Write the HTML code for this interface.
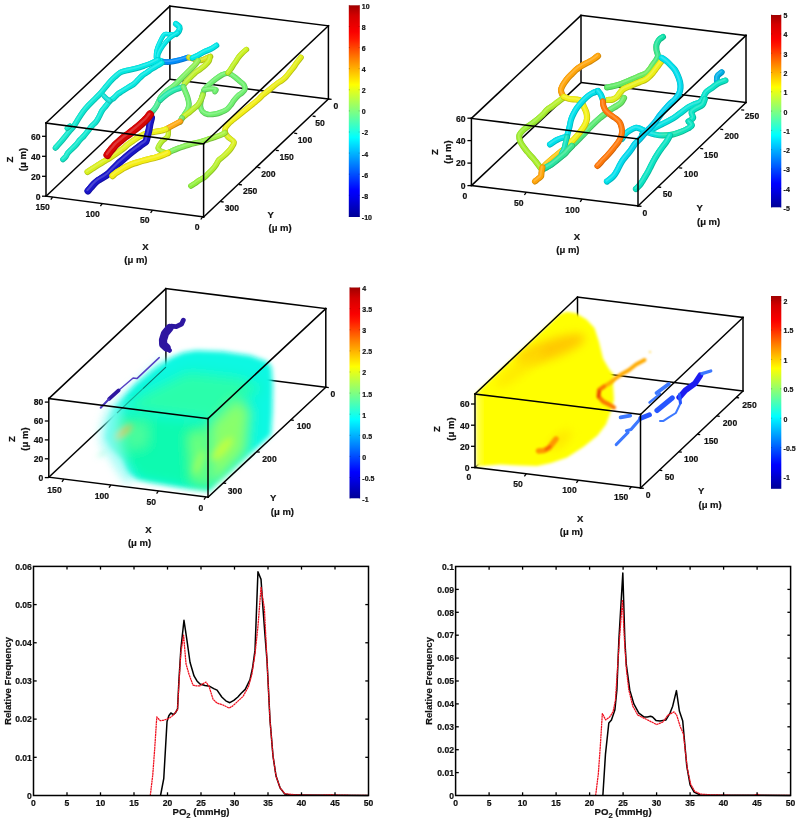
<!DOCTYPE html>
<html><head><meta charset="utf-8"><title>Figure</title>
<style>html,body{margin:0;padding:0;background:#fff}svg{display:block}</style></head>
<body>
<svg width="800" height="826" viewBox="0 0 800 826" font-family="'Liberation Sans', sans-serif" font-weight="bold" fill="#111">
<rect width="800" height="826" fill="#fff"/>
<defs>
<linearGradient id="g1" gradientUnits="userSpaceOnUse" x1="158.0" y1="60.0" x2="55.5" y2="148.0"><stop offset="0.000" stop-color="rgb(0,186,186)"/><stop offset="1.000" stop-color="rgb(16,186,160)"/></linearGradient>
<linearGradient id="g2" gradientUnits="userSpaceOnUse" x1="158.0" y1="60.0" x2="55.5" y2="148.0"><stop offset="0.000" stop-color="rgb(0,232,232)"/><stop offset="1.000" stop-color="rgb(20,232,200)"/></linearGradient>
<linearGradient id="g3" gradientUnits="userSpaceOnUse" x1="158.0" y1="60.0" x2="55.5" y2="148.0"><stop offset="0.000" stop-color="rgb(51,237,237)"/><stop offset="1.000" stop-color="rgb(67,237,211)"/></linearGradient>
<linearGradient id="g4" gradientUnits="userSpaceOnUse" x1="162.0" y1="63.0" x2="63.0" y2="159.5"><stop offset="0.000" stop-color="rgb(0,186,186)"/><stop offset="1.000" stop-color="rgb(16,186,160)"/></linearGradient>
<linearGradient id="g5" gradientUnits="userSpaceOnUse" x1="162.0" y1="63.0" x2="63.0" y2="159.5"><stop offset="0.000" stop-color="rgb(0,232,232)"/><stop offset="1.000" stop-color="rgb(20,232,200)"/></linearGradient>
<linearGradient id="g6" gradientUnits="userSpaceOnUse" x1="162.0" y1="63.0" x2="63.0" y2="159.5"><stop offset="0.000" stop-color="rgb(51,237,237)"/><stop offset="1.000" stop-color="rgb(67,237,211)"/></linearGradient>
<linearGradient id="g7" gradientUnits="userSpaceOnUse" x1="210.0" y1="57.0" x2="184.5" y2="84.0"><stop offset="0.000" stop-color="rgb(164,192,24)"/><stop offset="1.000" stop-color="rgb(148,192,40)"/></linearGradient>
<linearGradient id="g8" gradientUnits="userSpaceOnUse" x1="210.0" y1="57.0" x2="184.5" y2="84.0"><stop offset="0.000" stop-color="rgb(205,240,30)"/><stop offset="1.000" stop-color="rgb(185,240,50)"/></linearGradient>
<linearGradient id="g9" gradientUnits="userSpaceOnUse" x1="210.0" y1="57.0" x2="184.5" y2="84.0"><stop offset="0.000" stop-color="rgb(215,243,75)"/><stop offset="1.000" stop-color="rgb(199,243,91)"/></linearGradient>
<linearGradient id="g10" gradientUnits="userSpaceOnUse" x1="198.0" y1="61.0" x2="150.0" y2="114.0"><stop offset="0.000" stop-color="rgb(120,192,64)"/><stop offset="0.450" stop-color="rgb(88,192,88)"/><stop offset="1.000" stop-color="rgb(48,188,128)"/></linearGradient>
<linearGradient id="g11" gradientUnits="userSpaceOnUse" x1="198.0" y1="61.0" x2="150.0" y2="114.0"><stop offset="0.000" stop-color="rgb(150,240,80)"/><stop offset="0.450" stop-color="rgb(110,240,110)"/><stop offset="1.000" stop-color="rgb(60,235,160)"/></linearGradient>
<linearGradient id="g12" gradientUnits="userSpaceOnUse" x1="198.0" y1="61.0" x2="150.0" y2="114.0"><stop offset="0.000" stop-color="rgb(171,243,115)"/><stop offset="0.450" stop-color="rgb(139,243,139)"/><stop offset="1.000" stop-color="rgb(99,239,179)"/></linearGradient>
<linearGradient id="g13" gradientUnits="userSpaceOnUse" x1="182.0" y1="118.5" x2="203.0" y2="95.0"><stop offset="0.000" stop-color="rgb(164,192,24)"/><stop offset="1.000" stop-color="rgb(136,192,48)"/></linearGradient>
<linearGradient id="g14" gradientUnits="userSpaceOnUse" x1="182.0" y1="118.5" x2="203.0" y2="95.0"><stop offset="0.000" stop-color="rgb(205,240,30)"/><stop offset="1.000" stop-color="rgb(170,240,60)"/></linearGradient>
<linearGradient id="g15" gradientUnits="userSpaceOnUse" x1="182.0" y1="118.5" x2="203.0" y2="95.0"><stop offset="0.000" stop-color="rgb(215,243,75)"/><stop offset="1.000" stop-color="rgb(187,243,99)"/></linearGradient>
<linearGradient id="g16" gradientUnits="userSpaceOnUse" x1="228.0" y1="73.0" x2="246.5" y2="49.5"><stop offset="0.000" stop-color="rgb(148,192,32)"/><stop offset="1.000" stop-color="rgb(164,192,24)"/></linearGradient>
<linearGradient id="g17" gradientUnits="userSpaceOnUse" x1="228.0" y1="73.0" x2="246.5" y2="49.5"><stop offset="0.000" stop-color="rgb(185,240,40)"/><stop offset="1.000" stop-color="rgb(205,240,30)"/></linearGradient>
<linearGradient id="g18" gradientUnits="userSpaceOnUse" x1="228.0" y1="73.0" x2="246.5" y2="49.5"><stop offset="0.000" stop-color="rgb(199,243,83)"/><stop offset="1.000" stop-color="rgb(215,243,75)"/></linearGradient>
<linearGradient id="g19" gradientUnits="userSpaceOnUse" x1="301.0" y1="57.5" x2="225.0" y2="132.5"><stop offset="0.000" stop-color="rgb(180,190,20)"/><stop offset="0.700" stop-color="rgb(196,190,16)"/><stop offset="1.000" stop-color="rgb(188,192,20)"/></linearGradient>
<linearGradient id="g20" gradientUnits="userSpaceOnUse" x1="301.0" y1="57.5" x2="225.0" y2="132.5"><stop offset="0.000" stop-color="rgb(225,238,25)"/><stop offset="0.700" stop-color="rgb(245,238,20)"/><stop offset="1.000" stop-color="rgb(235,240,25)"/></linearGradient>
<linearGradient id="g21" gradientUnits="userSpaceOnUse" x1="301.0" y1="57.5" x2="225.0" y2="132.5"><stop offset="0.000" stop-color="rgb(231,241,71)"/><stop offset="0.700" stop-color="rgb(247,241,67)"/><stop offset="1.000" stop-color="rgb(239,243,71)"/></linearGradient>
<linearGradient id="g22" gradientUnits="userSpaceOnUse" x1="225.0" y1="132.5" x2="191.0" y2="186.0"><stop offset="0.000" stop-color="rgb(180,192,24)"/><stop offset="1.000" stop-color="rgb(112,192,48)"/></linearGradient>
<linearGradient id="g23" gradientUnits="userSpaceOnUse" x1="225.0" y1="132.5" x2="191.0" y2="186.0"><stop offset="0.000" stop-color="rgb(225,240,30)"/><stop offset="1.000" stop-color="rgb(140,240,60)"/></linearGradient>
<linearGradient id="g24" gradientUnits="userSpaceOnUse" x1="225.0" y1="132.5" x2="191.0" y2="186.0"><stop offset="0.000" stop-color="rgb(231,243,75)"/><stop offset="1.000" stop-color="rgb(163,243,99)"/></linearGradient>
<linearGradient id="g25" gradientUnits="userSpaceOnUse" x1="225.0" y1="133.0" x2="168.0" y2="153.0"><stop offset="0.000" stop-color="rgb(136,194,48)"/><stop offset="1.000" stop-color="rgb(96,192,80)"/></linearGradient>
<linearGradient id="g26" gradientUnits="userSpaceOnUse" x1="225.0" y1="133.0" x2="168.0" y2="153.0"><stop offset="0.000" stop-color="rgb(170,242,60)"/><stop offset="1.000" stop-color="rgb(120,240,100)"/></linearGradient>
<linearGradient id="g27" gradientUnits="userSpaceOnUse" x1="225.0" y1="133.0" x2="168.0" y2="153.0"><stop offset="0.000" stop-color="rgb(187,245,99)"/><stop offset="1.000" stop-color="rgb(147,243,131)"/></linearGradient>
<linearGradient id="g28" gradientUnits="userSpaceOnUse" x1="168.5" y1="130.0" x2="165.0" y2="152.5"><stop offset="0.000" stop-color="rgb(164,192,24)"/><stop offset="1.000" stop-color="rgb(136,192,40)"/></linearGradient>
<linearGradient id="g29" gradientUnits="userSpaceOnUse" x1="168.5" y1="130.0" x2="165.0" y2="152.5"><stop offset="0.000" stop-color="rgb(205,240,30)"/><stop offset="1.000" stop-color="rgb(170,240,50)"/></linearGradient>
<linearGradient id="g30" gradientUnits="userSpaceOnUse" x1="168.5" y1="130.0" x2="165.0" y2="152.5"><stop offset="0.000" stop-color="rgb(215,243,75)"/><stop offset="1.000" stop-color="rgb(187,243,91)"/></linearGradient>
<linearGradient id="g31" gradientUnits="userSpaceOnUse" x1="166.0" y1="129.3" x2="87.5" y2="172.0"><stop offset="0.000" stop-color="rgb(192,192,20)"/><stop offset="1.000" stop-color="rgb(172,192,24)"/></linearGradient>
<linearGradient id="g32" gradientUnits="userSpaceOnUse" x1="166.0" y1="129.3" x2="87.5" y2="172.0"><stop offset="0.000" stop-color="rgb(240,240,25)"/><stop offset="1.000" stop-color="rgb(215,240,30)"/></linearGradient>
<linearGradient id="g33" gradientUnits="userSpaceOnUse" x1="166.0" y1="129.3" x2="87.5" y2="172.0"><stop offset="0.000" stop-color="rgb(243,243,71)"/><stop offset="1.000" stop-color="rgb(223,243,75)"/></linearGradient>
<linearGradient id="cb34" x1="0" y1="1" x2="0" y2="0"><stop offset="0.0000" stop-color="rgb(0,0,150)"/><stop offset="0.1000" stop-color="rgb(0,0,240)"/><stop offset="0.1250" stop-color="rgb(0,0,255)"/><stop offset="0.2500" stop-color="rgb(0,128,255)"/><stop offset="0.3750" stop-color="rgb(0,255,255)"/><stop offset="0.5000" stop-color="rgb(128,255,128)"/><stop offset="0.6250" stop-color="rgb(255,255,0)"/><stop offset="0.7500" stop-color="rgb(255,125,0)"/><stop offset="0.8400" stop-color="rgb(255,25,0)"/><stop offset="0.8750" stop-color="rgb(250,0,0)"/><stop offset="0.9500" stop-color="rgb(212,0,0)"/><stop offset="1.0000" stop-color="rgb(160,0,0)"/></linearGradient>
<linearGradient id="g35" gradientUnits="userSpaceOnUse" x1="725.5" y1="80.5" x2="642.2" y2="134.5"><stop offset="0.000" stop-color="rgb(8,182,156)"/><stop offset="1.000" stop-color="rgb(0,180,188)"/></linearGradient>
<linearGradient id="g36" gradientUnits="userSpaceOnUse" x1="725.5" y1="80.5" x2="642.2" y2="134.5"><stop offset="0.000" stop-color="rgb(10,228,195)"/><stop offset="1.000" stop-color="rgb(0,225,235)"/></linearGradient>
<linearGradient id="g37" gradientUnits="userSpaceOnUse" x1="725.5" y1="80.5" x2="642.2" y2="134.5"><stop offset="0.000" stop-color="rgb(59,233,207)"/><stop offset="1.000" stop-color="rgb(51,231,239)"/></linearGradient>
<linearGradient id="g38" gradientUnits="userSpaceOnUse" x1="689.0" y1="121.8" x2="622.0" y2="139.0"><stop offset="0.000" stop-color="rgb(8,182,156)"/><stop offset="0.350" stop-color="rgb(24,182,132)"/><stop offset="0.600" stop-color="rgb(0,180,188)"/><stop offset="1.000" stop-color="rgb(0,180,188)"/></linearGradient>
<linearGradient id="g39" gradientUnits="userSpaceOnUse" x1="689.0" y1="121.8" x2="622.0" y2="139.0"><stop offset="0.000" stop-color="rgb(10,228,195)"/><stop offset="0.350" stop-color="rgb(30,228,165)"/><stop offset="0.600" stop-color="rgb(0,225,235)"/><stop offset="1.000" stop-color="rgb(0,225,235)"/></linearGradient>
<linearGradient id="g40" gradientUnits="userSpaceOnUse" x1="689.0" y1="121.8" x2="622.0" y2="139.0"><stop offset="0.000" stop-color="rgb(59,233,207)"/><stop offset="0.350" stop-color="rgb(75,233,183)"/><stop offset="0.600" stop-color="rgb(51,231,239)"/><stop offset="1.000" stop-color="rgb(51,231,239)"/></linearGradient>
<linearGradient id="g41" gradientUnits="userSpaceOnUse" x1="607.0" y1="87.5" x2="663.0" y2="37.0"><stop offset="0.000" stop-color="rgb(72,186,80)"/><stop offset="0.600" stop-color="rgb(88,189,72)"/><stop offset="0.850" stop-color="rgb(32,182,120)"/><stop offset="1.000" stop-color="rgb(8,180,136)"/></linearGradient>
<linearGradient id="g42" gradientUnits="userSpaceOnUse" x1="607.0" y1="87.5" x2="663.0" y2="37.0"><stop offset="0.000" stop-color="rgb(90,232,100)"/><stop offset="0.600" stop-color="rgb(110,236,90)"/><stop offset="0.850" stop-color="rgb(40,228,150)"/><stop offset="1.000" stop-color="rgb(10,225,170)"/></linearGradient>
<linearGradient id="g43" gradientUnits="userSpaceOnUse" x1="607.0" y1="87.5" x2="663.0" y2="37.0"><stop offset="0.000" stop-color="rgb(123,237,131)"/><stop offset="0.600" stop-color="rgb(139,240,123)"/><stop offset="0.850" stop-color="rgb(83,233,171)"/><stop offset="1.000" stop-color="rgb(59,231,187)"/></linearGradient>
<linearGradient id="g44" gradientUnits="userSpaceOnUse" x1="624.0" y1="98.0" x2="543.0" y2="169.0"><stop offset="0.000" stop-color="rgb(88,189,80)"/><stop offset="0.500" stop-color="rgb(64,186,96)"/><stop offset="1.000" stop-color="rgb(24,182,136)"/></linearGradient>
<linearGradient id="g45" gradientUnits="userSpaceOnUse" x1="624.0" y1="98.0" x2="543.0" y2="169.0"><stop offset="0.000" stop-color="rgb(110,236,100)"/><stop offset="0.500" stop-color="rgb(80,232,120)"/><stop offset="1.000" stop-color="rgb(30,228,170)"/></linearGradient>
<linearGradient id="g46" gradientUnits="userSpaceOnUse" x1="624.0" y1="98.0" x2="543.0" y2="169.0"><stop offset="0.000" stop-color="rgb(139,240,131)"/><stop offset="0.500" stop-color="rgb(115,237,147)"/><stop offset="1.000" stop-color="rgb(75,233,187)"/></linearGradient>
<linearGradient id="g47" gradientUnits="userSpaceOnUse" x1="608.0" y1="100.0" x2="662.5" y2="59.5"><stop offset="0.000" stop-color="rgb(180,192,20)"/><stop offset="1.000" stop-color="rgb(194,192,16)"/></linearGradient>
<linearGradient id="g48" gradientUnits="userSpaceOnUse" x1="608.0" y1="100.0" x2="662.5" y2="59.5"><stop offset="0.000" stop-color="rgb(225,240,25)"/><stop offset="1.000" stop-color="rgb(242,240,20)"/></linearGradient>
<linearGradient id="g49" gradientUnits="userSpaceOnUse" x1="608.0" y1="100.0" x2="662.5" y2="59.5"><stop offset="0.000" stop-color="rgb(231,243,71)"/><stop offset="1.000" stop-color="rgb(245,243,67)"/></linearGradient>
<linearGradient id="g50" gradientUnits="userSpaceOnUse" x1="662.0" y1="58.0" x2="607.0" y2="181.5"><stop offset="0.000" stop-color="rgb(0,180,188)"/><stop offset="0.400" stop-color="rgb(0,164,192)"/><stop offset="1.000" stop-color="rgb(0,180,188)"/></linearGradient>
<linearGradient id="g51" gradientUnits="userSpaceOnUse" x1="662.0" y1="58.0" x2="607.0" y2="181.5"><stop offset="0.000" stop-color="rgb(0,225,235)"/><stop offset="0.400" stop-color="rgb(0,205,240)"/><stop offset="1.000" stop-color="rgb(0,225,235)"/></linearGradient>
<linearGradient id="g52" gradientUnits="userSpaceOnUse" x1="662.0" y1="58.0" x2="607.0" y2="181.5"><stop offset="0.000" stop-color="rgb(51,231,239)"/><stop offset="0.400" stop-color="rgb(51,215,243)"/><stop offset="1.000" stop-color="rgb(51,231,239)"/></linearGradient>
<linearGradient id="g53" gradientUnits="userSpaceOnUse" x1="564.0" y1="97.5" x2="541.0" y2="168.5"><stop offset="0.000" stop-color="rgb(152,192,32)"/><stop offset="0.500" stop-color="rgb(120,190,40)"/><stop offset="1.000" stop-color="rgb(136,190,32)"/></linearGradient>
<linearGradient id="g54" gradientUnits="userSpaceOnUse" x1="564.0" y1="97.5" x2="541.0" y2="168.5"><stop offset="0.000" stop-color="rgb(190,240,40)"/><stop offset="0.500" stop-color="rgb(150,238,50)"/><stop offset="1.000" stop-color="rgb(170,238,40)"/></linearGradient>
<linearGradient id="g55" gradientUnits="userSpaceOnUse" x1="564.0" y1="97.5" x2="541.0" y2="168.5"><stop offset="0.000" stop-color="rgb(203,243,83)"/><stop offset="0.500" stop-color="rgb(171,241,91)"/><stop offset="1.000" stop-color="rgb(187,241,83)"/></linearGradient>
<linearGradient id="g56" gradientUnits="userSpaceOnUse" x1="572.0" y1="146.0" x2="543.0" y2="169.0"><stop offset="0.000" stop-color="rgb(50,184,110)"/><stop offset="1.000" stop-color="rgb(24,182,136)"/></linearGradient>
<linearGradient id="g57" gradientUnits="userSpaceOnUse" x1="572.0" y1="146.0" x2="543.0" y2="169.0"><stop offset="0.000" stop-color="rgb(62,230,138)"/><stop offset="1.000" stop-color="rgb(30,228,170)"/></linearGradient>
<linearGradient id="g58" gradientUnits="userSpaceOnUse" x1="572.0" y1="146.0" x2="543.0" y2="169.0"><stop offset="0.000" stop-color="rgb(101,235,161)"/><stop offset="1.000" stop-color="rgb(75,233,187)"/></linearGradient>
<linearGradient id="cb59" x1="0" y1="1" x2="0" y2="0"><stop offset="0.0000" stop-color="rgb(0,0,150)"/><stop offset="0.1000" stop-color="rgb(0,0,240)"/><stop offset="0.1250" stop-color="rgb(0,0,255)"/><stop offset="0.2500" stop-color="rgb(0,128,255)"/><stop offset="0.3750" stop-color="rgb(0,255,255)"/><stop offset="0.5000" stop-color="rgb(128,255,128)"/><stop offset="0.6250" stop-color="rgb(255,255,0)"/><stop offset="0.7500" stop-color="rgb(255,125,0)"/><stop offset="0.8400" stop-color="rgb(255,25,0)"/><stop offset="0.8750" stop-color="rgb(250,0,0)"/><stop offset="0.9500" stop-color="rgb(212,0,0)"/><stop offset="1.0000" stop-color="rgb(160,0,0)"/></linearGradient>
<filter id="bl3" x="-20%" y="-20%" width="140%" height="140%"><feGaussianBlur stdDeviation="4"/></filter>
<filter id="bl3b" x="-30%" y="-30%" width="160%" height="160%"><feGaussianBlur stdDeviation="6"/></filter>
<filter id="bl3c" x="-50%" y="-50%" width="200%" height="200%"><feGaussianBlur stdDeviation="2.2"/></filter>
<filter id="bl1" x="-50%" y="-50%" width="200%" height="200%"><feGaussianBlur stdDeviation="0.5"/></filter>
<filter id="bl3a" x="-20%" y="-20%" width="140%" height="140%"><feGaussianBlur stdDeviation="2.4"/></filter>
<clipPath id="cp3"><polygon points="171.5,357.5 183.0,352.5 196.0,350.5 223.0,351.5 250.5,355.5 267.0,361.5 271.5,367.0 272.8,385.0 272.4,412.0 271.0,435.0 249.0,455.5 229.0,474.0 209.0,491.5 192.0,489.6 176.0,487.0 150.0,482.5 137.0,479.5 128.0,472.0 122.0,459.0 111.0,448.0 105.5,438.0 108.0,421.0 113.0,409.0 135.0,385.0 157.0,367.0"/></clipPath>
<linearGradient id="cb60" x1="0" y1="1" x2="0" y2="0"><stop offset="0.0000" stop-color="rgb(0,0,150)"/><stop offset="0.1000" stop-color="rgb(0,0,240)"/><stop offset="0.1250" stop-color="rgb(0,0,255)"/><stop offset="0.2500" stop-color="rgb(0,128,255)"/><stop offset="0.3750" stop-color="rgb(0,255,255)"/><stop offset="0.5000" stop-color="rgb(128,255,128)"/><stop offset="0.6250" stop-color="rgb(255,255,0)"/><stop offset="0.7500" stop-color="rgb(255,125,0)"/><stop offset="0.8400" stop-color="rgb(255,25,0)"/><stop offset="0.8750" stop-color="rgb(250,0,0)"/><stop offset="0.9500" stop-color="rgb(212,0,0)"/><stop offset="1.0000" stop-color="rgb(160,0,0)"/></linearGradient>
<filter id="bl4" x="-20%" y="-20%" width="140%" height="140%"><feGaussianBlur stdDeviation="1.6"/></filter>
<filter id="bl4b" x="-50%" y="-50%" width="200%" height="200%"><feGaussianBlur stdDeviation="5"/></filter>
<filter id="bl4c" x="-50%" y="-50%" width="200%" height="200%"><feGaussianBlur stdDeviation="1.0"/></filter>
<clipPath id="cp4"><polygon points="475.2,394.0 515.0,356.3 560.0,313.9 567.0,311.8 576.0,313.2 586.5,319.5 594.5,328.0 599.0,342.0 603.0,358.5 609.0,369.0 614.0,375.0 613.0,384.0 614.0,400.0 611.0,411.0 606.0,424.5 597.5,435.5 584.0,446.5 567.0,457.5 551.0,463.0 537.0,466.0 520.0,465.5 500.0,464.5 476.0,466.5"/></clipPath>
<linearGradient id="cb61" x1="0" y1="1" x2="0" y2="0"><stop offset="0.0000" stop-color="rgb(0,0,150)"/><stop offset="0.1000" stop-color="rgb(0,0,240)"/><stop offset="0.1250" stop-color="rgb(0,0,255)"/><stop offset="0.2500" stop-color="rgb(0,128,255)"/><stop offset="0.3750" stop-color="rgb(0,255,255)"/><stop offset="0.5000" stop-color="rgb(128,255,128)"/><stop offset="0.6250" stop-color="rgb(255,255,0)"/><stop offset="0.7500" stop-color="rgb(255,125,0)"/><stop offset="0.8400" stop-color="rgb(255,25,0)"/><stop offset="0.8750" stop-color="rgb(250,0,0)"/><stop offset="0.9500" stop-color="rgb(212,0,0)"/><stop offset="1.0000" stop-color="rgb(160,0,0)"/></linearGradient>
</defs>
<line x1="328.40" y1="99.00" x2="169.90" y2="79.30" stroke="#000" stroke-width="1.5" stroke-linecap="butt"/>
<line x1="169.90" y1="79.30" x2="46.00" y2="196.20" stroke="#000" stroke-width="1.5" stroke-linecap="butt"/>
<line x1="169.90" y1="79.30" x2="169.90" y2="6.10" stroke="#000" stroke-width="1.5" stroke-linecap="butt"/>
<path d="M176.0 24.0 C176.6 24.5 179.0 25.9 179.5 27.0 C180.0 28.1 179.5 29.9 179.0 31.0 C178.5 32.1 176.9 33.5 176.5 34.0" fill="none" stroke-linecap="round" stroke-linejoin="round" stroke="rgb(0,186,186)" stroke-width="6.00"/>
<path d="M176.0 24.0 C176.6 24.5 179.0 25.9 179.5 27.0 C180.0 28.1 179.5 29.9 179.0 31.0 C178.5 32.1 176.9 33.5 176.5 34.0" fill="none" stroke-linecap="round" stroke-linejoin="round" stroke="rgb(0,232,232)" stroke-width="5.04" transform="translate(-0.3,-0.4)"/>
<path d="M176.0 24.0 C176.6 24.5 179.0 25.9 179.5 27.0 C180.0 28.1 179.5 29.9 179.0 31.0 C178.5 32.1 176.9 33.5 176.5 34.0" fill="none" stroke-linecap="round" stroke-linejoin="round" stroke="rgb(51,237,237)" stroke-width="1.80" transform="translate(-0.6,-0.8)"/>
<path d="M176.5 34.0 C175.5 34.1 171.9 34.4 170.0 34.5 C168.1 34.6 166.1 33.3 164.5 34.5 C162.9 35.7 161.3 39.4 160.0 42.0 C158.7 44.6 157.1 48.4 156.5 51.0 C155.9 53.6 156.1 56.9 156.0 58.0" fill="none" stroke-linecap="round" stroke-linejoin="round" stroke="rgb(0,186,186)" stroke-width="4.60"/>
<path d="M176.5 34.0 C175.5 34.1 171.9 34.4 170.0 34.5 C168.1 34.6 166.1 33.3 164.5 34.5 C162.9 35.7 161.3 39.4 160.0 42.0 C158.7 44.6 157.1 48.4 156.5 51.0 C155.9 53.6 156.1 56.9 156.0 58.0" fill="none" stroke-linecap="round" stroke-linejoin="round" stroke="rgb(0,232,232)" stroke-width="3.86" transform="translate(-0.3,-0.4)"/>
<path d="M176.5 34.0 C175.5 34.1 171.9 34.4 170.0 34.5 C168.1 34.6 166.1 33.3 164.5 34.5 C162.9 35.7 161.3 39.4 160.0 42.0 C158.7 44.6 157.1 48.4 156.5 51.0 C155.9 53.6 156.1 56.9 156.0 58.0" fill="none" stroke-linecap="round" stroke-linejoin="round" stroke="rgb(51,237,237)" stroke-width="1.38" transform="translate(-0.6,-0.8)"/>
<path d="M178.0 33.0 C176.7 33.8 172.4 35.9 170.0 38.0 C167.6 40.1 164.8 43.4 163.0 46.0 C161.2 48.6 159.3 51.8 158.5 54.0 C157.7 56.2 158.1 59.0 158.0 60.0" fill="none" stroke-linecap="round" stroke-linejoin="round" stroke="rgb(0,186,186)" stroke-width="4.60"/>
<path d="M178.0 33.0 C176.7 33.8 172.4 35.9 170.0 38.0 C167.6 40.1 164.8 43.4 163.0 46.0 C161.2 48.6 159.3 51.8 158.5 54.0 C157.7 56.2 158.1 59.0 158.0 60.0" fill="none" stroke-linecap="round" stroke-linejoin="round" stroke="rgb(0,232,232)" stroke-width="3.86" transform="translate(-0.3,-0.4)"/>
<path d="M178.0 33.0 C176.7 33.8 172.4 35.9 170.0 38.0 C167.6 40.1 164.8 43.4 163.0 46.0 C161.2 48.6 159.3 51.8 158.5 54.0 C157.7 56.2 158.1 59.0 158.0 60.0" fill="none" stroke-linecap="round" stroke-linejoin="round" stroke="rgb(51,237,237)" stroke-width="1.38" transform="translate(-0.6,-0.8)"/>
<path d="M158.0 60.0 L164.0 62.0" fill="none" stroke-linecap="round" stroke-linejoin="round" stroke="rgb(0,186,186)" stroke-width="5.60"/>
<path d="M158.0 60.0 L164.0 62.0" fill="none" stroke-linecap="round" stroke-linejoin="round" stroke="rgb(0,232,232)" stroke-width="4.70" transform="translate(-0.3,-0.4)"/>
<path d="M158.0 60.0 L164.0 62.0" fill="none" stroke-linecap="round" stroke-linejoin="round" stroke="rgb(51,237,237)" stroke-width="1.68" transform="translate(-0.6,-0.8)"/>
<path d="M164.0 62.0 C165.0 62.0 167.8 62.2 170.0 62.0 C172.2 61.8 175.1 61.2 178.0 60.5 C180.9 59.8 186.4 58.0 188.0 57.5" fill="none" stroke-linecap="round" stroke-linejoin="round" stroke="rgb(0,112,200)" stroke-width="5.60"/>
<path d="M164.0 62.0 C165.0 62.0 167.8 62.2 170.0 62.0 C172.2 61.8 175.1 61.2 178.0 60.5 C180.9 59.8 186.4 58.0 188.0 57.5" fill="none" stroke-linecap="round" stroke-linejoin="round" stroke="rgb(0,140,250)" stroke-width="4.70" transform="translate(-0.3,-0.4)"/>
<path d="M164.0 62.0 C165.0 62.0 167.8 62.2 170.0 62.0 C172.2 61.8 175.1 61.2 178.0 60.5 C180.9 59.8 186.4 58.0 188.0 57.5" fill="none" stroke-linecap="round" stroke-linejoin="round" stroke="rgb(51,163,251)" stroke-width="1.68" transform="translate(-0.6,-0.8)"/>
<path d="M189.0 57.5 C189.8 57.7 192.4 58.5 194.0 59.0 C195.6 59.5 197.4 60.4 199.0 60.5 C200.6 60.6 202.6 60.0 204.0 59.5 C205.4 59.0 207.0 58.0 208.0 57.5 C209.0 57.0 210.1 56.7 210.5 56.5" fill="none" stroke-linecap="round" stroke-linejoin="round" stroke="rgb(172,182,24)" stroke-width="5.60"/>
<path d="M189.0 57.5 C189.8 57.7 192.4 58.5 194.0 59.0 C195.6 59.5 197.4 60.4 199.0 60.5 C200.6 60.6 202.6 60.0 204.0 59.5 C205.4 59.0 207.0 58.0 208.0 57.5 C209.0 57.0 210.1 56.7 210.5 56.5" fill="none" stroke-linecap="round" stroke-linejoin="round" stroke="rgb(215,228,30)" stroke-width="4.70" transform="translate(-0.3,-0.4)"/>
<path d="M189.0 57.5 C189.8 57.7 192.4 58.5 194.0 59.0 C195.6 59.5 197.4 60.4 199.0 60.5 C200.6 60.6 202.6 60.0 204.0 59.5 C205.4 59.0 207.0 58.0 208.0 57.5 C209.0 57.0 210.1 56.7 210.5 56.5" fill="none" stroke-linecap="round" stroke-linejoin="round" stroke="rgb(223,233,75)" stroke-width="1.68" transform="translate(-0.6,-0.8)"/>
<path d="M192.5 58.0 C193.4 57.6 196.2 56.5 198.0 55.5 C199.8 54.5 201.9 53.0 204.0 52.0 C206.1 51.0 209.0 50.0 211.0 49.0 C213.0 48.0 215.6 46.1 216.5 45.5" fill="none" stroke-linecap="round" stroke-linejoin="round" stroke="rgb(0,186,186)" stroke-width="5.60"/>
<path d="M192.5 58.0 C193.4 57.6 196.2 56.5 198.0 55.5 C199.8 54.5 201.9 53.0 204.0 52.0 C206.1 51.0 209.0 50.0 211.0 49.0 C213.0 48.0 215.6 46.1 216.5 45.5" fill="none" stroke-linecap="round" stroke-linejoin="round" stroke="rgb(0,232,232)" stroke-width="4.70" transform="translate(-0.3,-0.4)"/>
<path d="M192.5 58.0 C193.4 57.6 196.2 56.5 198.0 55.5 C199.8 54.5 201.9 53.0 204.0 52.0 C206.1 51.0 209.0 50.0 211.0 49.0 C213.0 48.0 215.6 46.1 216.5 45.5" fill="none" stroke-linecap="round" stroke-linejoin="round" stroke="rgb(51,237,237)" stroke-width="1.68" transform="translate(-0.6,-0.8)"/>
<path d="M158.0 60.0 C157.0 60.5 154.2 62.0 152.0 63.0 C149.8 64.0 146.6 65.1 144.0 66.0 C141.4 66.9 138.7 67.8 136.0 68.5 C133.3 69.2 129.5 69.9 127.0 70.5 C124.5 71.1 122.4 71.5 120.5 72.5 C118.6 73.5 116.7 75.5 115.0 77.0 C113.3 78.5 111.6 80.2 110.0 82.0 C108.4 83.8 106.6 86.1 105.0 88.0 C103.4 89.9 101.8 92.1 100.0 94.0 C98.2 95.9 95.9 98.1 94.0 100.0 C92.1 101.9 89.8 104.1 88.0 106.0 C86.2 107.9 84.4 110.1 83.0 112.0 C81.6 113.9 80.4 115.8 79.0 118.0 C77.6 120.2 75.6 123.8 74.0 126.0 C72.4 128.2 70.4 130.2 69.0 132.0 C67.6 133.8 66.4 135.2 65.0 137.0 C63.6 138.8 61.5 141.2 60.0 143.0 C58.5 144.8 56.2 147.2 55.5 148.0" fill="none" stroke-linecap="round" stroke-linejoin="round" stroke="url(#g1)" stroke-width="5.60"/>
<path d="M158.0 60.0 C157.0 60.5 154.2 62.0 152.0 63.0 C149.8 64.0 146.6 65.1 144.0 66.0 C141.4 66.9 138.7 67.8 136.0 68.5 C133.3 69.2 129.5 69.9 127.0 70.5 C124.5 71.1 122.4 71.5 120.5 72.5 C118.6 73.5 116.7 75.5 115.0 77.0 C113.3 78.5 111.6 80.2 110.0 82.0 C108.4 83.8 106.6 86.1 105.0 88.0 C103.4 89.9 101.8 92.1 100.0 94.0 C98.2 95.9 95.9 98.1 94.0 100.0 C92.1 101.9 89.8 104.1 88.0 106.0 C86.2 107.9 84.4 110.1 83.0 112.0 C81.6 113.9 80.4 115.8 79.0 118.0 C77.6 120.2 75.6 123.8 74.0 126.0 C72.4 128.2 70.4 130.2 69.0 132.0 C67.6 133.8 66.4 135.2 65.0 137.0 C63.6 138.8 61.5 141.2 60.0 143.0 C58.5 144.8 56.2 147.2 55.5 148.0" fill="none" stroke-linecap="round" stroke-linejoin="round" stroke="url(#g2)" stroke-width="4.70" transform="translate(-0.3,-0.4)"/>
<path d="M158.0 60.0 C157.0 60.5 154.2 62.0 152.0 63.0 C149.8 64.0 146.6 65.1 144.0 66.0 C141.4 66.9 138.7 67.8 136.0 68.5 C133.3 69.2 129.5 69.9 127.0 70.5 C124.5 71.1 122.4 71.5 120.5 72.5 C118.6 73.5 116.7 75.5 115.0 77.0 C113.3 78.5 111.6 80.2 110.0 82.0 C108.4 83.8 106.6 86.1 105.0 88.0 C103.4 89.9 101.8 92.1 100.0 94.0 C98.2 95.9 95.9 98.1 94.0 100.0 C92.1 101.9 89.8 104.1 88.0 106.0 C86.2 107.9 84.4 110.1 83.0 112.0 C81.6 113.9 80.4 115.8 79.0 118.0 C77.6 120.2 75.6 123.8 74.0 126.0 C72.4 128.2 70.4 130.2 69.0 132.0 C67.6 133.8 66.4 135.2 65.0 137.0 C63.6 138.8 61.5 141.2 60.0 143.0 C58.5 144.8 56.2 147.2 55.5 148.0" fill="none" stroke-linecap="round" stroke-linejoin="round" stroke="url(#g3)" stroke-width="1.68" transform="translate(-0.6,-0.8)"/>
<path d="M162.0 63.0 C161.2 63.5 158.6 65.0 157.0 66.0 C155.4 67.0 153.6 68.0 152.0 69.0 C150.4 70.0 148.6 71.4 147.0 72.5 C145.4 73.6 143.4 74.8 142.0 76.0 C140.6 77.2 139.3 78.7 138.0 80.0 C136.7 81.3 135.3 83.0 134.0 84.0 C132.7 85.0 131.3 85.7 130.0 86.5 C128.7 87.3 127.3 88.2 126.0 89.0 C124.7 89.8 123.3 90.7 122.0 91.5 C120.7 92.3 119.3 93.0 118.0 94.0 C116.7 95.0 115.3 96.9 114.0 98.0 C112.7 99.1 111.3 99.7 110.0 101.0 C108.7 102.3 107.3 104.4 106.0 106.0 C104.7 107.6 103.1 109.2 102.0 111.0 C100.9 112.8 100.0 115.2 99.0 117.0 C98.0 118.8 97.1 120.6 96.0 122.0 C94.9 123.4 93.3 124.6 92.0 126.0 C90.7 127.4 89.3 129.4 88.0 131.0 C86.7 132.6 85.3 134.6 84.0 136.0 C82.7 137.4 81.3 138.6 80.0 140.0 C78.7 141.4 77.3 143.6 76.0 145.0 C74.7 146.4 73.3 147.7 72.0 149.0 C70.7 150.3 69.0 151.8 68.0 153.0 C67.0 154.2 66.8 155.5 66.0 156.5 C65.2 157.5 63.5 159.0 63.0 159.5" fill="none" stroke-linecap="round" stroke-linejoin="round" stroke="url(#g4)" stroke-width="5.60"/>
<path d="M162.0 63.0 C161.2 63.5 158.6 65.0 157.0 66.0 C155.4 67.0 153.6 68.0 152.0 69.0 C150.4 70.0 148.6 71.4 147.0 72.5 C145.4 73.6 143.4 74.8 142.0 76.0 C140.6 77.2 139.3 78.7 138.0 80.0 C136.7 81.3 135.3 83.0 134.0 84.0 C132.7 85.0 131.3 85.7 130.0 86.5 C128.7 87.3 127.3 88.2 126.0 89.0 C124.7 89.8 123.3 90.7 122.0 91.5 C120.7 92.3 119.3 93.0 118.0 94.0 C116.7 95.0 115.3 96.9 114.0 98.0 C112.7 99.1 111.3 99.7 110.0 101.0 C108.7 102.3 107.3 104.4 106.0 106.0 C104.7 107.6 103.1 109.2 102.0 111.0 C100.9 112.8 100.0 115.2 99.0 117.0 C98.0 118.8 97.1 120.6 96.0 122.0 C94.9 123.4 93.3 124.6 92.0 126.0 C90.7 127.4 89.3 129.4 88.0 131.0 C86.7 132.6 85.3 134.6 84.0 136.0 C82.7 137.4 81.3 138.6 80.0 140.0 C78.7 141.4 77.3 143.6 76.0 145.0 C74.7 146.4 73.3 147.7 72.0 149.0 C70.7 150.3 69.0 151.8 68.0 153.0 C67.0 154.2 66.8 155.5 66.0 156.5 C65.2 157.5 63.5 159.0 63.0 159.5" fill="none" stroke-linecap="round" stroke-linejoin="round" stroke="url(#g5)" stroke-width="4.70" transform="translate(-0.3,-0.4)"/>
<path d="M162.0 63.0 C161.2 63.5 158.6 65.0 157.0 66.0 C155.4 67.0 153.6 68.0 152.0 69.0 C150.4 70.0 148.6 71.4 147.0 72.5 C145.4 73.6 143.4 74.8 142.0 76.0 C140.6 77.2 139.3 78.7 138.0 80.0 C136.7 81.3 135.3 83.0 134.0 84.0 C132.7 85.0 131.3 85.7 130.0 86.5 C128.7 87.3 127.3 88.2 126.0 89.0 C124.7 89.8 123.3 90.7 122.0 91.5 C120.7 92.3 119.3 93.0 118.0 94.0 C116.7 95.0 115.3 96.9 114.0 98.0 C112.7 99.1 111.3 99.7 110.0 101.0 C108.7 102.3 107.3 104.4 106.0 106.0 C104.7 107.6 103.1 109.2 102.0 111.0 C100.9 112.8 100.0 115.2 99.0 117.0 C98.0 118.8 97.1 120.6 96.0 122.0 C94.9 123.4 93.3 124.6 92.0 126.0 C90.7 127.4 89.3 129.4 88.0 131.0 C86.7 132.6 85.3 134.6 84.0 136.0 C82.7 137.4 81.3 138.6 80.0 140.0 C78.7 141.4 77.3 143.6 76.0 145.0 C74.7 146.4 73.3 147.7 72.0 149.0 C70.7 150.3 69.0 151.8 68.0 153.0 C67.0 154.2 66.8 155.5 66.0 156.5 C65.2 157.5 63.5 159.0 63.0 159.5" fill="none" stroke-linecap="round" stroke-linejoin="round" stroke="url(#g6)" stroke-width="1.68" transform="translate(-0.6,-0.8)"/>
<path d="M104.0 96.0 C104.5 96.5 106.0 98.2 107.0 99.0 C108.0 99.8 109.5 100.7 110.0 101.0" fill="none" stroke-linecap="round" stroke-linejoin="round" stroke="rgb(16,180,172)" stroke-width="5.00"/>
<path d="M104.0 96.0 C104.5 96.5 106.0 98.2 107.0 99.0 C108.0 99.8 109.5 100.7 110.0 101.0" fill="none" stroke-linecap="round" stroke-linejoin="round" stroke="rgb(20,225,215)" stroke-width="4.20" transform="translate(-0.3,-0.4)"/>
<path d="M104.0 96.0 C104.5 96.5 106.0 98.2 107.0 99.0 C108.0 99.8 109.5 100.7 110.0 101.0" fill="none" stroke-linecap="round" stroke-linejoin="round" stroke="rgb(67,231,223)" stroke-width="1.50" transform="translate(-0.6,-0.8)"/>
<path d="M70.0 126.0 L67.0 128.5" fill="none" stroke-linecap="round" stroke-linejoin="round" stroke="rgb(16,186,160)" stroke-width="5.00"/>
<path d="M70.0 126.0 L67.0 128.5" fill="none" stroke-linecap="round" stroke-linejoin="round" stroke="rgb(20,232,200)" stroke-width="4.20" transform="translate(-0.3,-0.4)"/>
<path d="M70.0 126.0 L67.0 128.5" fill="none" stroke-linecap="round" stroke-linejoin="round" stroke="rgb(67,237,211)" stroke-width="1.50" transform="translate(-0.6,-0.8)"/>
<path d="M210.0 57.0 C209.8 57.6 209.8 59.6 209.0 61.0 C208.2 62.4 206.4 64.1 205.0 65.5 C203.6 66.9 201.6 68.3 200.0 69.5 C198.4 70.7 196.4 71.8 195.0 73.0 C193.6 74.2 192.3 75.7 191.0 77.0 C189.7 78.3 188.0 79.9 187.0 81.0 C186.0 82.1 184.9 83.5 184.5 84.0" fill="none" stroke-linecap="round" stroke-linejoin="round" stroke="url(#g7)" stroke-width="5.60"/>
<path d="M210.0 57.0 C209.8 57.6 209.8 59.6 209.0 61.0 C208.2 62.4 206.4 64.1 205.0 65.5 C203.6 66.9 201.6 68.3 200.0 69.5 C198.4 70.7 196.4 71.8 195.0 73.0 C193.6 74.2 192.3 75.7 191.0 77.0 C189.7 78.3 188.0 79.9 187.0 81.0 C186.0 82.1 184.9 83.5 184.5 84.0" fill="none" stroke-linecap="round" stroke-linejoin="round" stroke="url(#g8)" stroke-width="4.70" transform="translate(-0.3,-0.4)"/>
<path d="M210.0 57.0 C209.8 57.6 209.8 59.6 209.0 61.0 C208.2 62.4 206.4 64.1 205.0 65.5 C203.6 66.9 201.6 68.3 200.0 69.5 C198.4 70.7 196.4 71.8 195.0 73.0 C193.6 74.2 192.3 75.7 191.0 77.0 C189.7 78.3 188.0 79.9 187.0 81.0 C186.0 82.1 184.9 83.5 184.5 84.0" fill="none" stroke-linecap="round" stroke-linejoin="round" stroke="url(#g9)" stroke-width="1.68" transform="translate(-0.6,-0.8)"/>
<path d="M198.0 61.0 C197.5 61.6 196.1 63.7 195.0 65.0 C193.9 66.3 192.4 67.6 191.0 69.0 C189.6 70.4 187.8 72.2 186.0 74.0 C184.2 75.8 181.9 78.1 180.0 80.0 C178.1 81.9 176.1 84.2 174.0 86.0 C171.9 87.8 169.1 89.2 167.0 91.0 C164.9 92.8 162.4 95.2 161.0 97.0 C159.6 98.8 159.3 100.4 158.5 102.0 C157.7 103.6 157.0 105.5 156.0 107.0 C155.0 108.5 153.5 110.4 152.5 111.5 C151.5 112.6 150.4 113.6 150.0 114.0" fill="none" stroke-linecap="round" stroke-linejoin="round" stroke="url(#g10)" stroke-width="5.60"/>
<path d="M198.0 61.0 C197.5 61.6 196.1 63.7 195.0 65.0 C193.9 66.3 192.4 67.6 191.0 69.0 C189.6 70.4 187.8 72.2 186.0 74.0 C184.2 75.8 181.9 78.1 180.0 80.0 C178.1 81.9 176.1 84.2 174.0 86.0 C171.9 87.8 169.1 89.2 167.0 91.0 C164.9 92.8 162.4 95.2 161.0 97.0 C159.6 98.8 159.3 100.4 158.5 102.0 C157.7 103.6 157.0 105.5 156.0 107.0 C155.0 108.5 153.5 110.4 152.5 111.5 C151.5 112.6 150.4 113.6 150.0 114.0" fill="none" stroke-linecap="round" stroke-linejoin="round" stroke="url(#g11)" stroke-width="4.70" transform="translate(-0.3,-0.4)"/>
<path d="M198.0 61.0 C197.5 61.6 196.1 63.7 195.0 65.0 C193.9 66.3 192.4 67.6 191.0 69.0 C189.6 70.4 187.8 72.2 186.0 74.0 C184.2 75.8 181.9 78.1 180.0 80.0 C178.1 81.9 176.1 84.2 174.0 86.0 C171.9 87.8 169.1 89.2 167.0 91.0 C164.9 92.8 162.4 95.2 161.0 97.0 C159.6 98.8 159.3 100.4 158.5 102.0 C157.7 103.6 157.0 105.5 156.0 107.0 C155.0 108.5 153.5 110.4 152.5 111.5 C151.5 112.6 150.4 113.6 150.0 114.0" fill="none" stroke-linecap="round" stroke-linejoin="round" stroke="url(#g12)" stroke-width="1.68" transform="translate(-0.6,-0.8)"/>
<path d="M183.0 87.0 C181.9 87.4 178.1 88.6 176.0 89.5 C173.9 90.4 171.8 91.5 170.0 92.5 C168.2 93.5 166.5 94.8 165.0 96.0 C163.5 97.2 161.2 99.4 160.5 100.0" fill="none" stroke-linecap="round" stroke-linejoin="round" stroke="rgb(32,188,140)" stroke-width="5.60"/>
<path d="M183.0 87.0 C181.9 87.4 178.1 88.6 176.0 89.5 C173.9 90.4 171.8 91.5 170.0 92.5 C168.2 93.5 166.5 94.8 165.0 96.0 C163.5 97.2 161.2 99.4 160.5 100.0" fill="none" stroke-linecap="round" stroke-linejoin="round" stroke="rgb(40,235,175)" stroke-width="4.70" transform="translate(-0.3,-0.4)"/>
<path d="M183.0 87.0 C181.9 87.4 178.1 88.6 176.0 89.5 C173.9 90.4 171.8 91.5 170.0 92.5 C168.2 93.5 166.5 94.8 165.0 96.0 C163.5 97.2 161.2 99.4 160.5 100.0" fill="none" stroke-linecap="round" stroke-linejoin="round" stroke="rgb(83,239,191)" stroke-width="1.68" transform="translate(-0.6,-0.8)"/>
<path d="M183.5 87.0 C183.8 87.8 184.9 90.4 185.5 92.0 C186.1 93.6 186.9 95.1 187.5 97.0 C188.1 98.9 188.9 102.1 189.0 104.0 C189.1 105.9 188.6 107.4 188.0 109.0 C187.4 110.6 186.0 112.5 185.0 114.0 C184.0 115.5 182.5 117.8 182.0 118.5" fill="none" stroke-linecap="round" stroke-linejoin="round" stroke="rgb(88,192,88)" stroke-width="5.60"/>
<path d="M183.5 87.0 C183.8 87.8 184.9 90.4 185.5 92.0 C186.1 93.6 186.9 95.1 187.5 97.0 C188.1 98.9 188.9 102.1 189.0 104.0 C189.1 105.9 188.6 107.4 188.0 109.0 C187.4 110.6 186.0 112.5 185.0 114.0 C184.0 115.5 182.5 117.8 182.0 118.5" fill="none" stroke-linecap="round" stroke-linejoin="round" stroke="rgb(110,240,110)" stroke-width="4.70" transform="translate(-0.3,-0.4)"/>
<path d="M183.5 87.0 C183.8 87.8 184.9 90.4 185.5 92.0 C186.1 93.6 186.9 95.1 187.5 97.0 C188.1 98.9 188.9 102.1 189.0 104.0 C189.1 105.9 188.6 107.4 188.0 109.0 C187.4 110.6 186.0 112.5 185.0 114.0 C184.0 115.5 182.5 117.8 182.0 118.5" fill="none" stroke-linecap="round" stroke-linejoin="round" stroke="rgb(139,243,139)" stroke-width="1.68" transform="translate(-0.6,-0.8)"/>
<path d="M228.0 73.0 C227.0 73.3 223.9 74.0 222.0 75.0 C220.1 76.0 217.9 77.6 216.0 79.0 C214.1 80.4 211.8 82.4 210.0 84.0 C208.2 85.6 206.2 87.2 205.0 89.0 C203.8 90.8 203.1 93.1 202.5 95.0 C201.9 96.9 201.3 99.2 201.0 101.0 C200.7 102.8 200.3 104.3 200.5 106.0 C200.7 107.7 201.3 110.1 202.5 111.5 C203.7 112.9 205.8 114.1 208.0 114.5 C210.2 114.9 213.8 114.4 216.0 114.0 C218.2 113.6 220.2 112.7 222.0 112.0 C223.8 111.3 225.6 110.6 227.0 109.5 C228.4 108.4 229.9 106.4 231.0 105.0 C232.1 103.6 232.9 101.9 234.0 100.5 C235.1 99.1 236.7 97.2 238.0 96.0 C239.3 94.8 240.9 94.0 242.0 93.0 C243.1 92.0 244.7 90.8 245.0 89.5 C245.3 88.2 244.8 86.3 244.0 85.0 C243.2 83.7 241.3 82.6 240.0 81.5 C238.7 80.4 237.3 79.0 236.0 78.0 C234.7 77.0 233.3 75.8 232.0 75.0 C230.7 74.2 228.6 73.3 228.0 73.0" fill="none" stroke-linecap="round" stroke-linejoin="round" stroke="rgb(88,192,88)" stroke-width="5.40"/>
<path d="M228.0 73.0 C227.0 73.3 223.9 74.0 222.0 75.0 C220.1 76.0 217.9 77.6 216.0 79.0 C214.1 80.4 211.8 82.4 210.0 84.0 C208.2 85.6 206.2 87.2 205.0 89.0 C203.8 90.8 203.1 93.1 202.5 95.0 C201.9 96.9 201.3 99.2 201.0 101.0 C200.7 102.8 200.3 104.3 200.5 106.0 C200.7 107.7 201.3 110.1 202.5 111.5 C203.7 112.9 205.8 114.1 208.0 114.5 C210.2 114.9 213.8 114.4 216.0 114.0 C218.2 113.6 220.2 112.7 222.0 112.0 C223.8 111.3 225.6 110.6 227.0 109.5 C228.4 108.4 229.9 106.4 231.0 105.0 C232.1 103.6 232.9 101.9 234.0 100.5 C235.1 99.1 236.7 97.2 238.0 96.0 C239.3 94.8 240.9 94.0 242.0 93.0 C243.1 92.0 244.7 90.8 245.0 89.5 C245.3 88.2 244.8 86.3 244.0 85.0 C243.2 83.7 241.3 82.6 240.0 81.5 C238.7 80.4 237.3 79.0 236.0 78.0 C234.7 77.0 233.3 75.8 232.0 75.0 C230.7 74.2 228.6 73.3 228.0 73.0" fill="none" stroke-linecap="round" stroke-linejoin="round" stroke="rgb(110,240,110)" stroke-width="4.54" transform="translate(-0.3,-0.4)"/>
<path d="M228.0 73.0 C227.0 73.3 223.9 74.0 222.0 75.0 C220.1 76.0 217.9 77.6 216.0 79.0 C214.1 80.4 211.8 82.4 210.0 84.0 C208.2 85.6 206.2 87.2 205.0 89.0 C203.8 90.8 203.1 93.1 202.5 95.0 C201.9 96.9 201.3 99.2 201.0 101.0 C200.7 102.8 200.3 104.3 200.5 106.0 C200.7 107.7 201.3 110.1 202.5 111.5 C203.7 112.9 205.8 114.1 208.0 114.5 C210.2 114.9 213.8 114.4 216.0 114.0 C218.2 113.6 220.2 112.7 222.0 112.0 C223.8 111.3 225.6 110.6 227.0 109.5 C228.4 108.4 229.9 106.4 231.0 105.0 C232.1 103.6 232.9 101.9 234.0 100.5 C235.1 99.1 236.7 97.2 238.0 96.0 C239.3 94.8 240.9 94.0 242.0 93.0 C243.1 92.0 244.7 90.8 245.0 89.5 C245.3 88.2 244.8 86.3 244.0 85.0 C243.2 83.7 241.3 82.6 240.0 81.5 C238.7 80.4 237.3 79.0 236.0 78.0 C234.7 77.0 233.3 75.8 232.0 75.0 C230.7 74.2 228.6 73.3 228.0 73.0" fill="none" stroke-linecap="round" stroke-linejoin="round" stroke="rgb(139,243,139)" stroke-width="1.62" transform="translate(-0.6,-0.8)"/>
<path d="M204.0 90.0 C205.0 89.8 208.1 89.1 210.0 89.0 C211.9 88.9 215.2 89.0 216.0 89.5 C216.8 90.0 215.2 91.6 215.0 92.0" fill="none" stroke-linecap="round" stroke-linejoin="round" stroke="rgb(88,192,88)" stroke-width="5.00"/>
<path d="M204.0 90.0 C205.0 89.8 208.1 89.1 210.0 89.0 C211.9 88.9 215.2 89.0 216.0 89.5 C216.8 90.0 215.2 91.6 215.0 92.0" fill="none" stroke-linecap="round" stroke-linejoin="round" stroke="rgb(110,240,110)" stroke-width="4.20" transform="translate(-0.3,-0.4)"/>
<path d="M204.0 90.0 C205.0 89.8 208.1 89.1 210.0 89.0 C211.9 88.9 215.2 89.0 216.0 89.5 C216.8 90.0 215.2 91.6 215.0 92.0" fill="none" stroke-linecap="round" stroke-linejoin="round" stroke="rgb(139,243,139)" stroke-width="1.50" transform="translate(-0.6,-0.8)"/>
<path d="M182.0 118.5 C182.6 117.9 184.7 116.0 186.0 115.0 C187.3 114.0 188.7 113.0 190.0 112.0 C191.3 111.0 192.7 109.6 194.0 108.5 C195.3 107.4 196.9 106.4 198.0 105.0 C199.1 103.6 200.2 101.6 201.0 100.0 C201.8 98.4 202.7 95.8 203.0 95.0" fill="none" stroke-linecap="round" stroke-linejoin="round" stroke="url(#g13)" stroke-width="5.60"/>
<path d="M182.0 118.5 C182.6 117.9 184.7 116.0 186.0 115.0 C187.3 114.0 188.7 113.0 190.0 112.0 C191.3 111.0 192.7 109.6 194.0 108.5 C195.3 107.4 196.9 106.4 198.0 105.0 C199.1 103.6 200.2 101.6 201.0 100.0 C201.8 98.4 202.7 95.8 203.0 95.0" fill="none" stroke-linecap="round" stroke-linejoin="round" stroke="url(#g14)" stroke-width="4.70" transform="translate(-0.3,-0.4)"/>
<path d="M182.0 118.5 C182.6 117.9 184.7 116.0 186.0 115.0 C187.3 114.0 188.7 113.0 190.0 112.0 C191.3 111.0 192.7 109.6 194.0 108.5 C195.3 107.4 196.9 106.4 198.0 105.0 C199.1 103.6 200.2 101.6 201.0 100.0 C201.8 98.4 202.7 95.8 203.0 95.0" fill="none" stroke-linecap="round" stroke-linejoin="round" stroke="url(#g15)" stroke-width="1.68" transform="translate(-0.6,-0.8)"/>
<path d="M228.0 73.0 C228.5 72.4 230.1 70.3 231.0 69.0 C231.9 67.7 232.7 66.2 233.5 65.0 C234.3 63.8 235.2 62.7 236.0 61.5 C236.8 60.3 237.5 58.8 238.5 57.5 C239.5 56.2 240.7 54.8 242.0 53.5 C243.3 52.2 245.8 50.1 246.5 49.5" fill="none" stroke-linecap="round" stroke-linejoin="round" stroke="url(#g16)" stroke-width="5.40"/>
<path d="M228.0 73.0 C228.5 72.4 230.1 70.3 231.0 69.0 C231.9 67.7 232.7 66.2 233.5 65.0 C234.3 63.8 235.2 62.7 236.0 61.5 C236.8 60.3 237.5 58.8 238.5 57.5 C239.5 56.2 240.7 54.8 242.0 53.5 C243.3 52.2 245.8 50.1 246.5 49.5" fill="none" stroke-linecap="round" stroke-linejoin="round" stroke="url(#g17)" stroke-width="4.54" transform="translate(-0.3,-0.4)"/>
<path d="M228.0 73.0 C228.5 72.4 230.1 70.3 231.0 69.0 C231.9 67.7 232.7 66.2 233.5 65.0 C234.3 63.8 235.2 62.7 236.0 61.5 C236.8 60.3 237.5 58.8 238.5 57.5 C239.5 56.2 240.7 54.8 242.0 53.5 C243.3 52.2 245.8 50.1 246.5 49.5" fill="none" stroke-linecap="round" stroke-linejoin="round" stroke="url(#g18)" stroke-width="1.62" transform="translate(-0.6,-0.8)"/>
<path d="M301.0 57.5 C300.4 58.3 298.1 61.0 297.0 62.5 C295.9 64.0 295.1 65.5 294.0 67.0 C292.9 68.5 291.3 70.4 290.0 72.0 C288.7 73.6 287.3 75.6 286.0 77.0 C284.7 78.4 283.3 79.5 282.0 80.5 C280.7 81.5 279.4 82.0 278.0 83.0 C276.6 84.0 274.6 85.7 273.0 87.0 C271.4 88.3 269.6 89.7 268.0 91.0 C266.4 92.3 264.6 93.6 263.0 95.0 C261.4 96.4 259.6 98.6 258.0 100.0 C256.4 101.4 254.6 102.7 253.0 104.0 C251.4 105.3 249.6 106.7 248.0 108.0 C246.4 109.3 244.6 110.7 243.0 112.0 C241.4 113.3 239.6 114.7 238.0 116.0 C236.4 117.3 234.5 118.7 233.0 120.0 C231.5 121.3 229.7 122.7 228.5 124.0 C227.3 125.3 226.1 126.6 225.5 128.0 C224.9 129.4 225.1 131.8 225.0 132.5" fill="none" stroke-linecap="round" stroke-linejoin="round" stroke="url(#g19)" stroke-width="5.60"/>
<path d="M301.0 57.5 C300.4 58.3 298.1 61.0 297.0 62.5 C295.9 64.0 295.1 65.5 294.0 67.0 C292.9 68.5 291.3 70.4 290.0 72.0 C288.7 73.6 287.3 75.6 286.0 77.0 C284.7 78.4 283.3 79.5 282.0 80.5 C280.7 81.5 279.4 82.0 278.0 83.0 C276.6 84.0 274.6 85.7 273.0 87.0 C271.4 88.3 269.6 89.7 268.0 91.0 C266.4 92.3 264.6 93.6 263.0 95.0 C261.4 96.4 259.6 98.6 258.0 100.0 C256.4 101.4 254.6 102.7 253.0 104.0 C251.4 105.3 249.6 106.7 248.0 108.0 C246.4 109.3 244.6 110.7 243.0 112.0 C241.4 113.3 239.6 114.7 238.0 116.0 C236.4 117.3 234.5 118.7 233.0 120.0 C231.5 121.3 229.7 122.7 228.5 124.0 C227.3 125.3 226.1 126.6 225.5 128.0 C224.9 129.4 225.1 131.8 225.0 132.5" fill="none" stroke-linecap="round" stroke-linejoin="round" stroke="url(#g20)" stroke-width="4.70" transform="translate(-0.3,-0.4)"/>
<path d="M301.0 57.5 C300.4 58.3 298.1 61.0 297.0 62.5 C295.9 64.0 295.1 65.5 294.0 67.0 C292.9 68.5 291.3 70.4 290.0 72.0 C288.7 73.6 287.3 75.6 286.0 77.0 C284.7 78.4 283.3 79.5 282.0 80.5 C280.7 81.5 279.4 82.0 278.0 83.0 C276.6 84.0 274.6 85.7 273.0 87.0 C271.4 88.3 269.6 89.7 268.0 91.0 C266.4 92.3 264.6 93.6 263.0 95.0 C261.4 96.4 259.6 98.6 258.0 100.0 C256.4 101.4 254.6 102.7 253.0 104.0 C251.4 105.3 249.6 106.7 248.0 108.0 C246.4 109.3 244.6 110.7 243.0 112.0 C241.4 113.3 239.6 114.7 238.0 116.0 C236.4 117.3 234.5 118.7 233.0 120.0 C231.5 121.3 229.7 122.7 228.5 124.0 C227.3 125.3 226.1 126.6 225.5 128.0 C224.9 129.4 225.1 131.8 225.0 132.5" fill="none" stroke-linecap="round" stroke-linejoin="round" stroke="url(#g21)" stroke-width="1.68" transform="translate(-0.6,-0.8)"/>
<path d="M225.0 132.5 C225.5 133.2 226.6 135.5 228.0 137.0 C229.4 138.5 233.4 140.4 234.0 142.0 C234.6 143.6 232.8 145.6 232.0 147.0 C231.2 148.4 230.3 149.6 229.0 151.0 C227.7 152.4 225.6 154.6 224.0 156.0 C222.4 157.4 220.3 158.6 219.0 160.0 C217.7 161.4 217.0 163.6 216.0 165.0 C215.0 166.4 214.1 167.7 213.0 169.0 C211.9 170.3 210.3 171.7 209.0 173.0 C207.7 174.3 206.4 175.9 205.0 177.0 C203.6 178.1 201.6 179.0 200.0 180.0 C198.4 181.0 196.4 182.5 195.0 183.5 C193.6 184.5 191.6 185.6 191.0 186.0" fill="none" stroke-linecap="round" stroke-linejoin="round" stroke="url(#g22)" stroke-width="5.60"/>
<path d="M225.0 132.5 C225.5 133.2 226.6 135.5 228.0 137.0 C229.4 138.5 233.4 140.4 234.0 142.0 C234.6 143.6 232.8 145.6 232.0 147.0 C231.2 148.4 230.3 149.6 229.0 151.0 C227.7 152.4 225.6 154.6 224.0 156.0 C222.4 157.4 220.3 158.6 219.0 160.0 C217.7 161.4 217.0 163.6 216.0 165.0 C215.0 166.4 214.1 167.7 213.0 169.0 C211.9 170.3 210.3 171.7 209.0 173.0 C207.7 174.3 206.4 175.9 205.0 177.0 C203.6 178.1 201.6 179.0 200.0 180.0 C198.4 181.0 196.4 182.5 195.0 183.5 C193.6 184.5 191.6 185.6 191.0 186.0" fill="none" stroke-linecap="round" stroke-linejoin="round" stroke="url(#g23)" stroke-width="4.70" transform="translate(-0.3,-0.4)"/>
<path d="M225.0 132.5 C225.5 133.2 226.6 135.5 228.0 137.0 C229.4 138.5 233.4 140.4 234.0 142.0 C234.6 143.6 232.8 145.6 232.0 147.0 C231.2 148.4 230.3 149.6 229.0 151.0 C227.7 152.4 225.6 154.6 224.0 156.0 C222.4 157.4 220.3 158.6 219.0 160.0 C217.7 161.4 217.0 163.6 216.0 165.0 C215.0 166.4 214.1 167.7 213.0 169.0 C211.9 170.3 210.3 171.7 209.0 173.0 C207.7 174.3 206.4 175.9 205.0 177.0 C203.6 178.1 201.6 179.0 200.0 180.0 C198.4 181.0 196.4 182.5 195.0 183.5 C193.6 184.5 191.6 185.6 191.0 186.0" fill="none" stroke-linecap="round" stroke-linejoin="round" stroke="url(#g24)" stroke-width="1.68" transform="translate(-0.6,-0.8)"/>
<path d="M225.0 133.0 C224.2 133.4 221.8 134.8 220.0 135.5 C218.2 136.2 215.9 136.9 214.0 137.5 C212.1 138.1 209.9 138.9 208.0 139.5 C206.1 140.1 203.9 140.9 202.0 141.5 C200.1 142.1 197.9 142.5 196.0 143.0 C194.1 143.5 191.9 143.9 190.0 144.5 C188.1 145.1 185.9 145.9 184.0 146.5 C182.1 147.1 179.9 147.8 178.0 148.5 C176.1 149.2 173.6 150.3 172.0 151.0 C170.4 151.7 168.6 152.7 168.0 153.0" fill="none" stroke-linecap="round" stroke-linejoin="round" stroke="url(#g25)" stroke-width="5.60"/>
<path d="M225.0 133.0 C224.2 133.4 221.8 134.8 220.0 135.5 C218.2 136.2 215.9 136.9 214.0 137.5 C212.1 138.1 209.9 138.9 208.0 139.5 C206.1 140.1 203.9 140.9 202.0 141.5 C200.1 142.1 197.9 142.5 196.0 143.0 C194.1 143.5 191.9 143.9 190.0 144.5 C188.1 145.1 185.9 145.9 184.0 146.5 C182.1 147.1 179.9 147.8 178.0 148.5 C176.1 149.2 173.6 150.3 172.0 151.0 C170.4 151.7 168.6 152.7 168.0 153.0" fill="none" stroke-linecap="round" stroke-linejoin="round" stroke="url(#g26)" stroke-width="4.70" transform="translate(-0.3,-0.4)"/>
<path d="M225.0 133.0 C224.2 133.4 221.8 134.8 220.0 135.5 C218.2 136.2 215.9 136.9 214.0 137.5 C212.1 138.1 209.9 138.9 208.0 139.5 C206.1 140.1 203.9 140.9 202.0 141.5 C200.1 142.1 197.9 142.5 196.0 143.0 C194.1 143.5 191.9 143.9 190.0 144.5 C188.1 145.1 185.9 145.9 184.0 146.5 C182.1 147.1 179.9 147.8 178.0 148.5 C176.1 149.2 173.6 150.3 172.0 151.0 C170.4 151.7 168.6 152.7 168.0 153.0" fill="none" stroke-linecap="round" stroke-linejoin="round" stroke="url(#g27)" stroke-width="1.68" transform="translate(-0.6,-0.8)"/>
<path d="M180.0 122.0 L182.0 118.0" fill="none" stroke-linecap="round" stroke-linejoin="round" stroke="rgb(96,188,88)" stroke-width="5.60"/>
<path d="M180.0 122.0 L182.0 118.0" fill="none" stroke-linecap="round" stroke-linejoin="round" stroke="rgb(120,235,110)" stroke-width="4.70" transform="translate(-0.3,-0.4)"/>
<path d="M180.0 122.0 L182.0 118.0" fill="none" stroke-linecap="round" stroke-linejoin="round" stroke="rgb(147,239,139)" stroke-width="1.68" transform="translate(-0.6,-0.8)"/>
<path d="M168.5 130.0 C168.4 131.0 168.6 134.6 168.0 136.0 C167.4 137.4 166.0 138.1 165.0 139.0 C164.0 139.9 162.9 140.5 162.0 141.5 C161.1 142.5 160.1 143.9 159.5 145.0 C158.9 146.1 157.8 147.5 158.0 148.5 C158.2 149.5 159.9 150.4 161.0 151.0 C162.1 151.6 164.4 152.3 165.0 152.5" fill="none" stroke-linecap="round" stroke-linejoin="round" stroke="url(#g28)" stroke-width="5.20"/>
<path d="M168.5 130.0 C168.4 131.0 168.6 134.6 168.0 136.0 C167.4 137.4 166.0 138.1 165.0 139.0 C164.0 139.9 162.9 140.5 162.0 141.5 C161.1 142.5 160.1 143.9 159.5 145.0 C158.9 146.1 157.8 147.5 158.0 148.5 C158.2 149.5 159.9 150.4 161.0 151.0 C162.1 151.6 164.4 152.3 165.0 152.5" fill="none" stroke-linecap="round" stroke-linejoin="round" stroke="url(#g29)" stroke-width="4.37" transform="translate(-0.3,-0.4)"/>
<path d="M168.5 130.0 C168.4 131.0 168.6 134.6 168.0 136.0 C167.4 137.4 166.0 138.1 165.0 139.0 C164.0 139.9 162.9 140.5 162.0 141.5 C161.1 142.5 160.1 143.9 159.5 145.0 C158.9 146.1 157.8 147.5 158.0 148.5 C158.2 149.5 159.9 150.4 161.0 151.0 C162.1 151.6 164.4 152.3 165.0 152.5" fill="none" stroke-linecap="round" stroke-linejoin="round" stroke="url(#g30)" stroke-width="1.56" transform="translate(-0.6,-0.8)"/>
<path d="M167.5 128.5 C168.5 127.9 171.9 126.1 174.0 125.0 C176.1 123.9 179.5 122.1 180.5 121.5" fill="none" stroke-linecap="round" stroke-linejoin="round" stroke="rgb(204,136,16)" stroke-width="5.60"/>
<path d="M167.5 128.5 C168.5 127.9 171.9 126.1 174.0 125.0 C176.1 123.9 179.5 122.1 180.5 121.5" fill="none" stroke-linecap="round" stroke-linejoin="round" stroke="rgb(255,170,20)" stroke-width="4.70" transform="translate(-0.3,-0.4)"/>
<path d="M167.5 128.5 C168.5 127.9 171.9 126.1 174.0 125.0 C176.1 123.9 179.5 122.1 180.5 121.5" fill="none" stroke-linecap="round" stroke-linejoin="round" stroke="rgb(255,187,67)" stroke-width="1.68" transform="translate(-0.6,-0.8)"/>
<path d="M166.0 129.3 C165.5 129.5 164.0 130.0 163.0 130.3 C162.0 130.6 161.4 130.7 160.0 131.0 C158.6 131.3 155.9 131.7 154.0 132.0 C152.1 132.3 149.8 132.5 148.0 133.0 C146.2 133.5 144.6 134.3 143.0 135.0 C141.4 135.7 139.6 136.5 138.0 137.5 C136.4 138.5 134.6 139.9 133.0 141.0 C131.4 142.1 129.4 143.4 128.0 144.5 C126.6 145.6 125.3 147.0 124.0 148.0 C122.7 149.0 121.4 150.0 120.0 151.0 C118.6 152.0 116.6 153.4 115.0 154.5 C113.4 155.6 111.6 157.0 110.0 158.0 C108.4 159.0 106.6 160.0 105.0 161.0 C103.4 162.0 101.4 163.1 100.0 164.0 C98.6 164.9 97.3 165.7 96.0 166.5 C94.7 167.3 93.4 168.1 92.0 169.0 C90.6 169.9 88.2 171.5 87.5 172.0" fill="none" stroke-linecap="round" stroke-linejoin="round" stroke="url(#g31)" stroke-width="6.00"/>
<path d="M166.0 129.3 C165.5 129.5 164.0 130.0 163.0 130.3 C162.0 130.6 161.4 130.7 160.0 131.0 C158.6 131.3 155.9 131.7 154.0 132.0 C152.1 132.3 149.8 132.5 148.0 133.0 C146.2 133.5 144.6 134.3 143.0 135.0 C141.4 135.7 139.6 136.5 138.0 137.5 C136.4 138.5 134.6 139.9 133.0 141.0 C131.4 142.1 129.4 143.4 128.0 144.5 C126.6 145.6 125.3 147.0 124.0 148.0 C122.7 149.0 121.4 150.0 120.0 151.0 C118.6 152.0 116.6 153.4 115.0 154.5 C113.4 155.6 111.6 157.0 110.0 158.0 C108.4 159.0 106.6 160.0 105.0 161.0 C103.4 162.0 101.4 163.1 100.0 164.0 C98.6 164.9 97.3 165.7 96.0 166.5 C94.7 167.3 93.4 168.1 92.0 169.0 C90.6 169.9 88.2 171.5 87.5 172.0" fill="none" stroke-linecap="round" stroke-linejoin="round" stroke="url(#g32)" stroke-width="5.04" transform="translate(-0.3,-0.4)"/>
<path d="M166.0 129.3 C165.5 129.5 164.0 130.0 163.0 130.3 C162.0 130.6 161.4 130.7 160.0 131.0 C158.6 131.3 155.9 131.7 154.0 132.0 C152.1 132.3 149.8 132.5 148.0 133.0 C146.2 133.5 144.6 134.3 143.0 135.0 C141.4 135.7 139.6 136.5 138.0 137.5 C136.4 138.5 134.6 139.9 133.0 141.0 C131.4 142.1 129.4 143.4 128.0 144.5 C126.6 145.6 125.3 147.0 124.0 148.0 C122.7 149.0 121.4 150.0 120.0 151.0 C118.6 152.0 116.6 153.4 115.0 154.5 C113.4 155.6 111.6 157.0 110.0 158.0 C108.4 159.0 106.6 160.0 105.0 161.0 C103.4 162.0 101.4 163.1 100.0 164.0 C98.6 164.9 97.3 165.7 96.0 166.5 C94.7 167.3 93.4 168.1 92.0 169.0 C90.6 169.9 88.2 171.5 87.5 172.0" fill="none" stroke-linecap="round" stroke-linejoin="round" stroke="url(#g33)" stroke-width="1.80" transform="translate(-0.6,-0.8)"/>
<path d="M151.5 118.0 C151.3 119.0 150.4 122.1 150.0 124.0 C149.6 125.9 149.4 128.1 149.0 130.0 C148.6 131.9 148.0 134.2 147.5 136.0 C147.0 137.8 146.9 140.1 146.0 141.5 C145.1 142.9 143.3 143.5 142.0 144.5 C140.7 145.5 139.6 146.3 138.0 147.5 C136.4 148.7 133.9 150.5 132.0 152.0 C130.1 153.5 127.6 155.6 126.0 157.0 C124.4 158.4 123.3 159.4 122.0 160.5 C120.7 161.6 119.4 162.6 118.0 164.0 C116.6 165.4 114.6 167.4 113.0 169.0 C111.4 170.6 109.6 172.6 108.0 174.0 C106.4 175.4 104.6 176.5 103.0 177.5 C101.4 178.5 99.4 179.5 98.0 180.5 C96.6 181.5 95.1 182.9 94.0 184.0 C92.9 185.1 92.0 186.4 91.0 187.5 C90.0 188.6 88.5 190.4 88.0 191.0" fill="none" stroke-linecap="round" stroke-linejoin="round" stroke="rgb(20,16,160)" stroke-width="7.00"/>
<path d="M151.5 118.0 C151.3 119.0 150.4 122.1 150.0 124.0 C149.6 125.9 149.4 128.1 149.0 130.0 C148.6 131.9 148.0 134.2 147.5 136.0 C147.0 137.8 146.9 140.1 146.0 141.5 C145.1 142.9 143.3 143.5 142.0 144.5 C140.7 145.5 139.6 146.3 138.0 147.5 C136.4 148.7 133.9 150.5 132.0 152.0 C130.1 153.5 127.6 155.6 126.0 157.0 C124.4 158.4 123.3 159.4 122.0 160.5 C120.7 161.6 119.4 162.6 118.0 164.0 C116.6 165.4 114.6 167.4 113.0 169.0 C111.4 170.6 109.6 172.6 108.0 174.0 C106.4 175.4 104.6 176.5 103.0 177.5 C101.4 178.5 99.4 179.5 98.0 180.5 C96.6 181.5 95.1 182.9 94.0 184.0 C92.9 185.1 92.0 186.4 91.0 187.5 C90.0 188.6 88.5 190.4 88.0 191.0" fill="none" stroke-linecap="round" stroke-linejoin="round" stroke="rgb(25,20,200)" stroke-width="5.88" transform="translate(-0.3,-0.4)"/>
<path d="M151.5 118.0 C151.3 119.0 150.4 122.1 150.0 124.0 C149.6 125.9 149.4 128.1 149.0 130.0 C148.6 131.9 148.0 134.2 147.5 136.0 C147.0 137.8 146.9 140.1 146.0 141.5 C145.1 142.9 143.3 143.5 142.0 144.5 C140.7 145.5 139.6 146.3 138.0 147.5 C136.4 148.7 133.9 150.5 132.0 152.0 C130.1 153.5 127.6 155.6 126.0 157.0 C124.4 158.4 123.3 159.4 122.0 160.5 C120.7 161.6 119.4 162.6 118.0 164.0 C116.6 165.4 114.6 167.4 113.0 169.0 C111.4 170.6 109.6 172.6 108.0 174.0 C106.4 175.4 104.6 176.5 103.0 177.5 C101.4 178.5 99.4 179.5 98.0 180.5 C96.6 181.5 95.1 182.9 94.0 184.0 C92.9 185.1 92.0 186.4 91.0 187.5 C90.0 188.6 88.5 190.4 88.0 191.0" fill="none" stroke-linecap="round" stroke-linejoin="round" stroke="rgb(71,67,211)" stroke-width="2.10" transform="translate(-0.6,-0.8)"/>
<path d="M168.0 153.0 C167.0 153.4 163.9 154.8 162.0 155.5 C160.1 156.2 157.9 156.9 156.0 157.5 C154.1 158.1 151.9 158.5 150.0 159.0 C148.1 159.5 145.8 160.0 144.0 160.5 C142.2 161.0 140.6 161.5 139.0 162.0 C137.4 162.5 135.6 162.9 134.0 163.5 C132.4 164.1 130.6 164.8 129.0 165.5 C127.4 166.2 125.4 167.2 124.0 168.0 C122.6 168.8 121.3 169.7 120.0 170.5 C118.7 171.3 117.2 172.1 116.0 173.0 C114.8 173.9 113.1 175.5 112.5 176.0" fill="none" stroke-linecap="round" stroke-linejoin="round" stroke="rgb(196,190,16)" stroke-width="6.40"/>
<path d="M168.0 153.0 C167.0 153.4 163.9 154.8 162.0 155.5 C160.1 156.2 157.9 156.9 156.0 157.5 C154.1 158.1 151.9 158.5 150.0 159.0 C148.1 159.5 145.8 160.0 144.0 160.5 C142.2 161.0 140.6 161.5 139.0 162.0 C137.4 162.5 135.6 162.9 134.0 163.5 C132.4 164.1 130.6 164.8 129.0 165.5 C127.4 166.2 125.4 167.2 124.0 168.0 C122.6 168.8 121.3 169.7 120.0 170.5 C118.7 171.3 117.2 172.1 116.0 173.0 C114.8 173.9 113.1 175.5 112.5 176.0" fill="none" stroke-linecap="round" stroke-linejoin="round" stroke="rgb(245,238,20)" stroke-width="5.38" transform="translate(-0.3,-0.4)"/>
<path d="M168.0 153.0 C167.0 153.4 163.9 154.8 162.0 155.5 C160.1 156.2 157.9 156.9 156.0 157.5 C154.1 158.1 151.9 158.5 150.0 159.0 C148.1 159.5 145.8 160.0 144.0 160.5 C142.2 161.0 140.6 161.5 139.0 162.0 C137.4 162.5 135.6 162.9 134.0 163.5 C132.4 164.1 130.6 164.8 129.0 165.5 C127.4 166.2 125.4 167.2 124.0 168.0 C122.6 168.8 121.3 169.7 120.0 170.5 C118.7 171.3 117.2 172.1 116.0 173.0 C114.8 173.9 113.1 175.5 112.5 176.0" fill="none" stroke-linecap="round" stroke-linejoin="round" stroke="rgb(247,241,67)" stroke-width="1.92" transform="translate(-0.6,-0.8)"/>
<path d="M150.0 114.5 C149.5 115.1 148.0 117.4 147.0 118.5 C146.0 119.6 145.3 120.3 144.0 121.5 C142.7 122.7 140.6 124.6 139.0 126.0 C137.4 127.4 135.6 128.7 134.0 130.0 C132.4 131.3 130.6 132.8 129.0 134.0 C127.4 135.2 125.4 136.4 124.0 137.5 C122.6 138.6 121.3 139.9 120.0 141.0 C118.7 142.1 117.2 143.3 116.0 144.5 C114.8 145.7 113.5 147.4 112.5 148.5 C111.5 149.6 110.8 150.5 110.0 151.5 C109.2 152.5 107.9 154.4 107.5 155.0" fill="none" stroke-linecap="round" stroke-linejoin="round" stroke="rgb(172,4,4)" stroke-width="8.00"/>
<path d="M150.0 114.5 C149.5 115.1 148.0 117.4 147.0 118.5 C146.0 119.6 145.3 120.3 144.0 121.5 C142.7 122.7 140.6 124.6 139.0 126.0 C137.4 127.4 135.6 128.7 134.0 130.0 C132.4 131.3 130.6 132.8 129.0 134.0 C127.4 135.2 125.4 136.4 124.0 137.5 C122.6 138.6 121.3 139.9 120.0 141.0 C118.7 142.1 117.2 143.3 116.0 144.5 C114.8 145.7 113.5 147.4 112.5 148.5 C111.5 149.6 110.8 150.5 110.0 151.5 C109.2 152.5 107.9 154.4 107.5 155.0" fill="none" stroke-linecap="round" stroke-linejoin="round" stroke="rgb(215,5,5)" stroke-width="6.72" transform="translate(-0.3,-0.4)"/>
<path d="M150.0 114.5 C149.5 115.1 148.0 117.4 147.0 118.5 C146.0 119.6 145.3 120.3 144.0 121.5 C142.7 122.7 140.6 124.6 139.0 126.0 C137.4 127.4 135.6 128.7 134.0 130.0 C132.4 131.3 130.6 132.8 129.0 134.0 C127.4 135.2 125.4 136.4 124.0 137.5 C122.6 138.6 121.3 139.9 120.0 141.0 C118.7 142.1 117.2 143.3 116.0 144.5 C114.8 145.7 113.5 147.4 112.5 148.5 C111.5 149.6 110.8 150.5 110.0 151.5 C109.2 152.5 107.9 154.4 107.5 155.0" fill="none" stroke-linecap="round" stroke-linejoin="round" stroke="rgb(223,55,55)" stroke-width="2.40" transform="translate(-0.6,-0.8)"/>
<line x1="46.00" y1="196.20" x2="203.60" y2="217.00" stroke="#000" stroke-width="1.5" stroke-linecap="square"/>
<line x1="203.60" y1="217.00" x2="328.40" y2="99.00" stroke="#000" stroke-width="1.5" stroke-linecap="square"/>
<line x1="46.00" y1="123.00" x2="203.60" y2="143.80" stroke="#000" stroke-width="1.5" stroke-linecap="square"/>
<line x1="203.60" y1="143.80" x2="328.40" y2="25.80" stroke="#000" stroke-width="1.5" stroke-linecap="square"/>
<line x1="328.40" y1="25.80" x2="169.90" y2="6.10" stroke="#000" stroke-width="1.5" stroke-linecap="square"/>
<line x1="169.90" y1="6.10" x2="46.00" y2="123.00" stroke="#000" stroke-width="1.5" stroke-linecap="square"/>
<line x1="46.00" y1="196.20" x2="46.00" y2="123.00" stroke="#000" stroke-width="1.5" stroke-linecap="square"/>
<line x1="203.60" y1="217.00" x2="203.60" y2="143.80" stroke="#000" stroke-width="1.5" stroke-linecap="square"/>
<line x1="328.40" y1="99.00" x2="328.40" y2="25.80" stroke="#000" stroke-width="1.5" stroke-linecap="square"/>
<line x1="42.00" y1="196.20" x2="46.00" y2="196.20" stroke="#000" stroke-width="1.3" stroke-linecap="butt"/>
<text x="40.60" y="196.50" font-size="8.6" text-anchor="end" dominant-baseline="central"  stroke="#111" stroke-width="0.2">0</text>
<line x1="42.00" y1="176.30" x2="46.00" y2="176.30" stroke="#000" stroke-width="1.3" stroke-linecap="butt"/>
<text x="40.60" y="176.60" font-size="8.6" text-anchor="end" dominant-baseline="central"  stroke="#111" stroke-width="0.2">20</text>
<line x1="42.00" y1="156.30" x2="46.00" y2="156.30" stroke="#000" stroke-width="1.3" stroke-linecap="butt"/>
<text x="40.60" y="156.60" font-size="8.6" text-anchor="end" dominant-baseline="central"  stroke="#111" stroke-width="0.2">40</text>
<line x1="42.00" y1="136.30" x2="46.00" y2="136.30" stroke="#000" stroke-width="1.3" stroke-linecap="butt"/>
<text x="40.60" y="136.60" font-size="8.6" text-anchor="end" dominant-baseline="central"  stroke="#111" stroke-width="0.2">60</text>
<line x1="52.60" y1="197.10" x2="50.80" y2="199.70" stroke="#000" stroke-width="1.3" stroke-linecap="butt"/>
<text x="42.70" y="207.00" font-size="8.6" text-anchor="middle" dominant-baseline="central"  stroke="#111" stroke-width="0.2">150</text>
<line x1="102.20" y1="203.60" x2="100.40" y2="206.20" stroke="#000" stroke-width="1.3" stroke-linecap="butt"/>
<text x="92.60" y="213.90" font-size="8.6" text-anchor="middle" dominant-baseline="central"  stroke="#111" stroke-width="0.2">100</text>
<line x1="152.40" y1="210.30" x2="150.60" y2="212.90" stroke="#000" stroke-width="1.3" stroke-linecap="butt"/>
<text x="144.70" y="220.30" font-size="8.6" text-anchor="middle" dominant-baseline="central"  stroke="#111" stroke-width="0.2">50</text>
<line x1="202.60" y1="216.90" x2="200.80" y2="219.50" stroke="#000" stroke-width="1.3" stroke-linecap="butt"/>
<text x="197.20" y="226.60" font-size="8.6" text-anchor="middle" dominant-baseline="central"  stroke="#111" stroke-width="0.2">0</text>
<line x1="328.40" y1="99.00" x2="331.60" y2="99.40" stroke="#000" stroke-width="1.3" stroke-linecap="butt"/>
<text x="336.00" y="106.00" font-size="8.6" text-anchor="middle" dominant-baseline="central"  stroke="#111" stroke-width="0.2">0</text>
<line x1="312.60" y1="116.10" x2="315.60" y2="116.50" stroke="#000" stroke-width="1.3" stroke-linecap="butt"/>
<text x="320.00" y="123.20" font-size="8.6" text-anchor="middle" dominant-baseline="central"  stroke="#111" stroke-width="0.2">50</text>
<line x1="294.20" y1="133.20" x2="297.20" y2="133.60" stroke="#000" stroke-width="1.3" stroke-linecap="butt"/>
<text x="305.00" y="140.00" font-size="8.6" text-anchor="middle" dominant-baseline="central"  stroke="#111" stroke-width="0.2">100</text>
<line x1="275.80" y1="150.30" x2="278.80" y2="150.70" stroke="#000" stroke-width="1.3" stroke-linecap="butt"/>
<text x="286.60" y="157.00" font-size="8.6" text-anchor="middle" dominant-baseline="central"  stroke="#111" stroke-width="0.2">150</text>
<line x1="257.40" y1="167.40" x2="260.40" y2="167.80" stroke="#000" stroke-width="1.3" stroke-linecap="butt"/>
<text x="268.40" y="174.00" font-size="8.6" text-anchor="middle" dominant-baseline="central"  stroke="#111" stroke-width="0.2">200</text>
<line x1="239.00" y1="184.50" x2="242.00" y2="184.90" stroke="#000" stroke-width="1.3" stroke-linecap="butt"/>
<text x="250.20" y="191.20" font-size="8.6" text-anchor="middle" dominant-baseline="central"  stroke="#111" stroke-width="0.2">250</text>
<line x1="220.60" y1="201.60" x2="223.60" y2="202.00" stroke="#000" stroke-width="1.3" stroke-linecap="butt"/>
<text x="231.90" y="208.10" font-size="8.6" text-anchor="middle" dominant-baseline="central"  stroke="#111" stroke-width="0.2">300</text>
<text x="267.50" y="214.50" font-size="9.5" text-anchor="start" dominant-baseline="central"  stroke="#111" stroke-width="0.2">Y</text>
<text x="268.50" y="227.50" font-size="9.5" text-anchor="start" dominant-baseline="central"  stroke="#111" stroke-width="0.2">(μ m)</text>
<text x="148.50" y="246.00" font-size="9.5" text-anchor="end" dominant-baseline="central"  stroke="#111" stroke-width="0.2">X</text>
<text x="147.50" y="259.50" font-size="9.5" text-anchor="end" dominant-baseline="central"  stroke="#111" stroke-width="0.2">(μ m)</text>
<text x="9.50" y="159.50" font-size="9.5" text-anchor="middle" dominant-baseline="central" transform="rotate(-90 9.50 159.50)"  stroke="#111" stroke-width="0.2">Z</text>
<text x="22.50" y="159.50" font-size="9.5" text-anchor="middle" dominant-baseline="central" transform="rotate(-90 22.50 159.50)"  stroke="#111" stroke-width="0.2">(μ m)</text>
<rect x="348.80" y="5.30" width="11.00" height="211.70" fill="url(#cb34)"/>
<line x1="348.80" y1="5.40" x2="350.00" y2="5.40" stroke="rgba(0,0,0,0.45)" stroke-width="0.5" stroke-linecap="butt"/>
<line x1="358.60" y1="5.40" x2="359.80" y2="5.40" stroke="rgba(0,0,0,0.45)" stroke-width="0.5" stroke-linecap="butt"/>
<text x="361.80" y="6.30" font-size="7" text-anchor="start" dominant-baseline="central"  stroke="#111" stroke-width="0.2">10</text>
<line x1="348.80" y1="26.50" x2="350.00" y2="26.50" stroke="rgba(0,0,0,0.45)" stroke-width="0.5" stroke-linecap="butt"/>
<line x1="358.60" y1="26.50" x2="359.80" y2="26.50" stroke="rgba(0,0,0,0.45)" stroke-width="0.5" stroke-linecap="butt"/>
<text x="361.80" y="27.40" font-size="7" text-anchor="start" dominant-baseline="central"  stroke="#111" stroke-width="0.2">8</text>
<line x1="348.80" y1="47.60" x2="350.00" y2="47.60" stroke="rgba(0,0,0,0.45)" stroke-width="0.5" stroke-linecap="butt"/>
<line x1="358.60" y1="47.60" x2="359.80" y2="47.60" stroke="rgba(0,0,0,0.45)" stroke-width="0.5" stroke-linecap="butt"/>
<text x="361.80" y="48.50" font-size="7" text-anchor="start" dominant-baseline="central"  stroke="#111" stroke-width="0.2">6</text>
<line x1="348.80" y1="68.70" x2="350.00" y2="68.70" stroke="rgba(0,0,0,0.45)" stroke-width="0.5" stroke-linecap="butt"/>
<line x1="358.60" y1="68.70" x2="359.80" y2="68.70" stroke="rgba(0,0,0,0.45)" stroke-width="0.5" stroke-linecap="butt"/>
<text x="361.80" y="69.60" font-size="7" text-anchor="start" dominant-baseline="central"  stroke="#111" stroke-width="0.2">4</text>
<line x1="348.80" y1="89.80" x2="350.00" y2="89.80" stroke="rgba(0,0,0,0.45)" stroke-width="0.5" stroke-linecap="butt"/>
<line x1="358.60" y1="89.80" x2="359.80" y2="89.80" stroke="rgba(0,0,0,0.45)" stroke-width="0.5" stroke-linecap="butt"/>
<text x="361.80" y="90.70" font-size="7" text-anchor="start" dominant-baseline="central"  stroke="#111" stroke-width="0.2">2</text>
<line x1="348.80" y1="110.90" x2="350.00" y2="110.90" stroke="rgba(0,0,0,0.45)" stroke-width="0.5" stroke-linecap="butt"/>
<line x1="358.60" y1="110.90" x2="359.80" y2="110.90" stroke="rgba(0,0,0,0.45)" stroke-width="0.5" stroke-linecap="butt"/>
<text x="361.80" y="111.80" font-size="7" text-anchor="start" dominant-baseline="central"  stroke="#111" stroke-width="0.2">0</text>
<line x1="348.80" y1="132.00" x2="350.00" y2="132.00" stroke="rgba(0,0,0,0.45)" stroke-width="0.5" stroke-linecap="butt"/>
<line x1="358.60" y1="132.00" x2="359.80" y2="132.00" stroke="rgba(0,0,0,0.45)" stroke-width="0.5" stroke-linecap="butt"/>
<text x="361.80" y="132.90" font-size="7" text-anchor="start" dominant-baseline="central"  stroke="#111" stroke-width="0.2">-2</text>
<line x1="348.80" y1="153.10" x2="350.00" y2="153.10" stroke="rgba(0,0,0,0.45)" stroke-width="0.5" stroke-linecap="butt"/>
<line x1="358.60" y1="153.10" x2="359.80" y2="153.10" stroke="rgba(0,0,0,0.45)" stroke-width="0.5" stroke-linecap="butt"/>
<text x="361.80" y="154.00" font-size="7" text-anchor="start" dominant-baseline="central"  stroke="#111" stroke-width="0.2">-4</text>
<line x1="348.80" y1="174.20" x2="350.00" y2="174.20" stroke="rgba(0,0,0,0.45)" stroke-width="0.5" stroke-linecap="butt"/>
<line x1="358.60" y1="174.20" x2="359.80" y2="174.20" stroke="rgba(0,0,0,0.45)" stroke-width="0.5" stroke-linecap="butt"/>
<text x="361.80" y="175.10" font-size="7" text-anchor="start" dominant-baseline="central"  stroke="#111" stroke-width="0.2">-6</text>
<line x1="348.80" y1="195.30" x2="350.00" y2="195.30" stroke="rgba(0,0,0,0.45)" stroke-width="0.5" stroke-linecap="butt"/>
<line x1="358.60" y1="195.30" x2="359.80" y2="195.30" stroke="rgba(0,0,0,0.45)" stroke-width="0.5" stroke-linecap="butt"/>
<text x="361.80" y="196.20" font-size="7" text-anchor="start" dominant-baseline="central"  stroke="#111" stroke-width="0.2">-8</text>
<line x1="348.80" y1="216.40" x2="350.00" y2="216.40" stroke="rgba(0,0,0,0.45)" stroke-width="0.5" stroke-linecap="butt"/>
<line x1="358.60" y1="216.40" x2="359.80" y2="216.40" stroke="rgba(0,0,0,0.45)" stroke-width="0.5" stroke-linecap="butt"/>
<text x="361.80" y="217.30" font-size="7" text-anchor="start" dominant-baseline="central"  stroke="#111" stroke-width="0.2">-10</text>
<line x1="746.00" y1="102.60" x2="581.00" y2="82.60" stroke="#000" stroke-width="1.5" stroke-linecap="butt"/>
<line x1="581.00" y1="82.60" x2="471.40" y2="185.60" stroke="#000" stroke-width="1.5" stroke-linecap="butt"/>
<line x1="581.00" y1="82.60" x2="581.00" y2="15.40" stroke="#000" stroke-width="1.5" stroke-linecap="butt"/>
<path d="M721.8 72.2 C721.1 72.8 718.3 74.7 717.5 76.0 C716.7 77.3 716.9 79.8 716.8 80.5" fill="none" stroke-linecap="round" stroke-linejoin="round" stroke="rgb(0,140,184)" stroke-width="5.80"/>
<path d="M721.8 72.2 C721.1 72.8 718.3 74.7 717.5 76.0 C716.7 77.3 716.9 79.8 716.8 80.5" fill="none" stroke-linecap="round" stroke-linejoin="round" stroke="rgb(0,175,230)" stroke-width="4.87" transform="translate(-0.3,-0.4)"/>
<path d="M721.8 72.2 C721.1 72.8 718.3 74.7 717.5 76.0 C716.7 77.3 716.9 79.8 716.8 80.5" fill="none" stroke-linecap="round" stroke-linejoin="round" stroke="rgb(51,191,235)" stroke-width="1.74" transform="translate(-0.6,-0.8)"/>
<path d="M725.5 80.5 C724.3 81.0 720.2 82.3 718.0 83.5 C715.8 84.7 713.9 86.6 712.0 88.0 C710.1 89.4 707.4 90.8 706.0 92.5 C704.6 94.2 704.0 96.9 703.0 98.5 C702.0 100.1 701.4 101.2 700.0 102.2 C698.6 103.2 695.9 103.7 694.0 104.5 C692.1 105.3 689.9 106.3 688.0 107.5 C686.1 108.7 683.9 110.6 682.0 112.0 C680.1 113.4 677.9 115.2 676.0 116.5 C674.1 117.8 672.2 119.0 670.0 120.2 C667.8 121.4 664.9 122.8 662.5 124.0 C660.1 125.2 657.4 126.6 655.0 127.8 C652.6 129.0 649.5 130.4 647.5 131.5 C645.5 132.6 643.0 134.0 642.2 134.5" fill="none" stroke-linecap="round" stroke-linejoin="round" stroke="url(#g35)" stroke-width="6.00"/>
<path d="M725.5 80.5 C724.3 81.0 720.2 82.3 718.0 83.5 C715.8 84.7 713.9 86.6 712.0 88.0 C710.1 89.4 707.4 90.8 706.0 92.5 C704.6 94.2 704.0 96.9 703.0 98.5 C702.0 100.1 701.4 101.2 700.0 102.2 C698.6 103.2 695.9 103.7 694.0 104.5 C692.1 105.3 689.9 106.3 688.0 107.5 C686.1 108.7 683.9 110.6 682.0 112.0 C680.1 113.4 677.9 115.2 676.0 116.5 C674.1 117.8 672.2 119.0 670.0 120.2 C667.8 121.4 664.9 122.8 662.5 124.0 C660.1 125.2 657.4 126.6 655.0 127.8 C652.6 129.0 649.5 130.4 647.5 131.5 C645.5 132.6 643.0 134.0 642.2 134.5" fill="none" stroke-linecap="round" stroke-linejoin="round" stroke="url(#g36)" stroke-width="5.04" transform="translate(-0.3,-0.4)"/>
<path d="M725.5 80.5 C724.3 81.0 720.2 82.3 718.0 83.5 C715.8 84.7 713.9 86.6 712.0 88.0 C710.1 89.4 707.4 90.8 706.0 92.5 C704.6 94.2 704.0 96.9 703.0 98.5 C702.0 100.1 701.4 101.2 700.0 102.2 C698.6 103.2 695.9 103.7 694.0 104.5 C692.1 105.3 689.9 106.3 688.0 107.5 C686.1 108.7 683.9 110.6 682.0 112.0 C680.1 113.4 677.9 115.2 676.0 116.5 C674.1 117.8 672.2 119.0 670.0 120.2 C667.8 121.4 664.9 122.8 662.5 124.0 C660.1 125.2 657.4 126.6 655.0 127.8 C652.6 129.0 649.5 130.4 647.5 131.5 C645.5 132.6 643.0 134.0 642.2 134.5" fill="none" stroke-linecap="round" stroke-linejoin="round" stroke="url(#g37)" stroke-width="1.80" transform="translate(-0.6,-0.8)"/>
<path d="M705.0 99.0 C704.6 100.0 703.9 103.5 702.5 105.0 C701.1 106.5 697.8 107.3 696.0 108.5 C694.2 109.7 691.9 111.0 691.5 112.5 C691.1 114.0 693.7 116.6 693.2 118.0 C692.7 119.4 689.3 120.9 688.5 121.5" fill="none" stroke-linecap="round" stroke-linejoin="round" stroke="rgb(8,182,156)" stroke-width="6.00"/>
<path d="M705.0 99.0 C704.6 100.0 703.9 103.5 702.5 105.0 C701.1 106.5 697.8 107.3 696.0 108.5 C694.2 109.7 691.9 111.0 691.5 112.5 C691.1 114.0 693.7 116.6 693.2 118.0 C692.7 119.4 689.3 120.9 688.5 121.5" fill="none" stroke-linecap="round" stroke-linejoin="round" stroke="rgb(10,228,195)" stroke-width="5.04" transform="translate(-0.3,-0.4)"/>
<path d="M705.0 99.0 C704.6 100.0 703.9 103.5 702.5 105.0 C701.1 106.5 697.8 107.3 696.0 108.5 C694.2 109.7 691.9 111.0 691.5 112.5 C691.1 114.0 693.7 116.6 693.2 118.0 C692.7 119.4 689.3 120.9 688.5 121.5" fill="none" stroke-linecap="round" stroke-linejoin="round" stroke="rgb(59,233,207)" stroke-width="1.80" transform="translate(-0.6,-0.8)"/>
<path d="M689.0 121.8 C689.5 122.4 692.2 124.4 692.0 125.5 C691.8 126.6 689.6 127.5 688.0 128.5 C686.4 129.5 684.4 130.5 682.0 131.5 C679.6 132.5 676.1 133.9 673.0 134.5 C669.9 135.1 665.4 135.5 662.5 135.5 C659.6 135.5 657.4 135.0 655.0 134.5 C652.6 134.0 649.9 133.1 647.5 132.2 C645.1 131.3 641.9 129.3 640.0 128.6 C638.1 127.9 637.2 127.4 635.5 127.8 C633.8 128.2 631.2 129.7 629.5 130.8 C627.8 131.9 626.2 133.2 625.0 134.5 C623.8 135.8 622.5 138.3 622.0 139.0" fill="none" stroke-linecap="round" stroke-linejoin="round" stroke="url(#g38)" stroke-width="6.00"/>
<path d="M689.0 121.8 C689.5 122.4 692.2 124.4 692.0 125.5 C691.8 126.6 689.6 127.5 688.0 128.5 C686.4 129.5 684.4 130.5 682.0 131.5 C679.6 132.5 676.1 133.9 673.0 134.5 C669.9 135.1 665.4 135.5 662.5 135.5 C659.6 135.5 657.4 135.0 655.0 134.5 C652.6 134.0 649.9 133.1 647.5 132.2 C645.1 131.3 641.9 129.3 640.0 128.6 C638.1 127.9 637.2 127.4 635.5 127.8 C633.8 128.2 631.2 129.7 629.5 130.8 C627.8 131.9 626.2 133.2 625.0 134.5 C623.8 135.8 622.5 138.3 622.0 139.0" fill="none" stroke-linecap="round" stroke-linejoin="round" stroke="url(#g39)" stroke-width="5.04" transform="translate(-0.3,-0.4)"/>
<path d="M689.0 121.8 C689.5 122.4 692.2 124.4 692.0 125.5 C691.8 126.6 689.6 127.5 688.0 128.5 C686.4 129.5 684.4 130.5 682.0 131.5 C679.6 132.5 676.1 133.9 673.0 134.5 C669.9 135.1 665.4 135.5 662.5 135.5 C659.6 135.5 657.4 135.0 655.0 134.5 C652.6 134.0 649.9 133.1 647.5 132.2 C645.1 131.3 641.9 129.3 640.0 128.6 C638.1 127.9 637.2 127.4 635.5 127.8 C633.8 128.2 631.2 129.7 629.5 130.8 C627.8 131.9 626.2 133.2 625.0 134.5 C623.8 135.8 622.5 138.3 622.0 139.0" fill="none" stroke-linecap="round" stroke-linejoin="round" stroke="url(#g40)" stroke-width="1.80" transform="translate(-0.6,-0.8)"/>
<path d="M607.0 87.5 C607.8 87.3 610.2 86.9 612.0 86.5 C613.8 86.1 615.8 85.7 618.0 85.0 C620.2 84.3 623.6 83.0 626.0 82.0 C628.4 81.0 630.8 80.0 633.0 79.0 C635.2 78.0 637.9 76.9 640.0 76.0 C642.1 75.1 644.4 74.6 646.0 73.5 C647.6 72.4 648.9 70.4 650.0 69.0 C651.1 67.6 652.0 65.9 653.0 64.5 C654.0 63.1 655.2 61.9 656.0 60.5 C656.8 59.1 657.9 57.7 658.0 56.0 C658.1 54.3 656.7 51.8 656.5 50.0 C656.3 48.2 656.1 46.6 656.5 45.0 C656.9 43.4 658.0 41.3 659.0 40.0 C660.0 38.7 662.4 37.5 663.0 37.0" fill="none" stroke-linecap="round" stroke-linejoin="round" stroke="url(#g41)" stroke-width="6.00"/>
<path d="M607.0 87.5 C607.8 87.3 610.2 86.9 612.0 86.5 C613.8 86.1 615.8 85.7 618.0 85.0 C620.2 84.3 623.6 83.0 626.0 82.0 C628.4 81.0 630.8 80.0 633.0 79.0 C635.2 78.0 637.9 76.9 640.0 76.0 C642.1 75.1 644.4 74.6 646.0 73.5 C647.6 72.4 648.9 70.4 650.0 69.0 C651.1 67.6 652.0 65.9 653.0 64.5 C654.0 63.1 655.2 61.9 656.0 60.5 C656.8 59.1 657.9 57.7 658.0 56.0 C658.1 54.3 656.7 51.8 656.5 50.0 C656.3 48.2 656.1 46.6 656.5 45.0 C656.9 43.4 658.0 41.3 659.0 40.0 C660.0 38.7 662.4 37.5 663.0 37.0" fill="none" stroke-linecap="round" stroke-linejoin="round" stroke="url(#g42)" stroke-width="5.04" transform="translate(-0.3,-0.4)"/>
<path d="M607.0 87.5 C607.8 87.3 610.2 86.9 612.0 86.5 C613.8 86.1 615.8 85.7 618.0 85.0 C620.2 84.3 623.6 83.0 626.0 82.0 C628.4 81.0 630.8 80.0 633.0 79.0 C635.2 78.0 637.9 76.9 640.0 76.0 C642.1 75.1 644.4 74.6 646.0 73.5 C647.6 72.4 648.9 70.4 650.0 69.0 C651.1 67.6 652.0 65.9 653.0 64.5 C654.0 63.1 655.2 61.9 656.0 60.5 C656.8 59.1 657.9 57.7 658.0 56.0 C658.1 54.3 656.7 51.8 656.5 50.0 C656.3 48.2 656.1 46.6 656.5 45.0 C656.9 43.4 658.0 41.3 659.0 40.0 C660.0 38.7 662.4 37.5 663.0 37.0" fill="none" stroke-linecap="round" stroke-linejoin="round" stroke="url(#g43)" stroke-width="1.80" transform="translate(-0.6,-0.8)"/>
<path d="M624.0 98.0 C623.5 98.8 622.3 101.6 621.0 103.0 C619.7 104.4 617.8 105.4 616.0 106.5 C614.2 107.6 611.8 108.8 610.0 110.0 C608.2 111.2 606.6 112.7 605.0 114.0 C603.4 115.3 601.6 116.6 600.0 118.0 C598.4 119.4 596.6 121.0 595.0 122.5 C593.4 124.0 591.6 125.8 590.0 127.5 C588.4 129.2 586.6 131.3 585.0 133.0 C583.4 134.7 581.6 136.4 580.0 138.0 C578.4 139.6 576.6 141.4 575.0 143.0 C573.4 144.6 571.4 146.5 570.0 148.0 C568.6 149.5 567.3 151.2 566.0 152.5 C564.7 153.8 563.4 154.8 562.0 156.0 C560.6 157.2 558.6 158.7 557.0 160.0 C555.4 161.3 553.6 162.9 552.0 164.0 C550.4 165.1 548.4 166.2 547.0 167.0 C545.6 167.8 543.6 168.7 543.0 169.0" fill="none" stroke-linecap="round" stroke-linejoin="round" stroke="url(#g44)" stroke-width="6.20"/>
<path d="M624.0 98.0 C623.5 98.8 622.3 101.6 621.0 103.0 C619.7 104.4 617.8 105.4 616.0 106.5 C614.2 107.6 611.8 108.8 610.0 110.0 C608.2 111.2 606.6 112.7 605.0 114.0 C603.4 115.3 601.6 116.6 600.0 118.0 C598.4 119.4 596.6 121.0 595.0 122.5 C593.4 124.0 591.6 125.8 590.0 127.5 C588.4 129.2 586.6 131.3 585.0 133.0 C583.4 134.7 581.6 136.4 580.0 138.0 C578.4 139.6 576.6 141.4 575.0 143.0 C573.4 144.6 571.4 146.5 570.0 148.0 C568.6 149.5 567.3 151.2 566.0 152.5 C564.7 153.8 563.4 154.8 562.0 156.0 C560.6 157.2 558.6 158.7 557.0 160.0 C555.4 161.3 553.6 162.9 552.0 164.0 C550.4 165.1 548.4 166.2 547.0 167.0 C545.6 167.8 543.6 168.7 543.0 169.0" fill="none" stroke-linecap="round" stroke-linejoin="round" stroke="url(#g45)" stroke-width="5.21" transform="translate(-0.3,-0.4)"/>
<path d="M624.0 98.0 C623.5 98.8 622.3 101.6 621.0 103.0 C619.7 104.4 617.8 105.4 616.0 106.5 C614.2 107.6 611.8 108.8 610.0 110.0 C608.2 111.2 606.6 112.7 605.0 114.0 C603.4 115.3 601.6 116.6 600.0 118.0 C598.4 119.4 596.6 121.0 595.0 122.5 C593.4 124.0 591.6 125.8 590.0 127.5 C588.4 129.2 586.6 131.3 585.0 133.0 C583.4 134.7 581.6 136.4 580.0 138.0 C578.4 139.6 576.6 141.4 575.0 143.0 C573.4 144.6 571.4 146.5 570.0 148.0 C568.6 149.5 567.3 151.2 566.0 152.5 C564.7 153.8 563.4 154.8 562.0 156.0 C560.6 157.2 558.6 158.7 557.0 160.0 C555.4 161.3 553.6 162.9 552.0 164.0 C550.4 165.1 548.4 166.2 547.0 167.0 C545.6 167.8 543.6 168.7 543.0 169.0" fill="none" stroke-linecap="round" stroke-linejoin="round" stroke="url(#g46)" stroke-width="1.86" transform="translate(-0.6,-0.8)"/>
<path d="M608.0 100.0 C608.8 99.9 611.6 100.0 613.0 99.5 C614.4 99.0 615.9 98.0 617.0 97.0 C618.1 96.0 619.0 94.2 620.0 93.0 C621.0 91.8 621.7 90.5 623.0 89.5 C624.3 88.5 626.2 87.8 628.0 87.0 C629.8 86.2 632.1 85.3 634.0 84.5 C635.9 83.7 638.2 82.7 640.0 82.0 C641.8 81.3 643.6 80.8 645.0 80.0 C646.4 79.2 647.9 78.0 649.0 77.0 C650.1 76.0 651.0 75.1 652.0 74.0 C653.0 72.9 654.0 71.3 655.0 70.0 C656.0 68.7 657.0 67.3 658.0 66.0 C659.0 64.7 660.3 63.0 661.0 62.0 C661.7 61.0 662.3 59.9 662.5 59.5" fill="none" stroke-linecap="round" stroke-linejoin="round" stroke="url(#g47)" stroke-width="6.20"/>
<path d="M608.0 100.0 C608.8 99.9 611.6 100.0 613.0 99.5 C614.4 99.0 615.9 98.0 617.0 97.0 C618.1 96.0 619.0 94.2 620.0 93.0 C621.0 91.8 621.7 90.5 623.0 89.5 C624.3 88.5 626.2 87.8 628.0 87.0 C629.8 86.2 632.1 85.3 634.0 84.5 C635.9 83.7 638.2 82.7 640.0 82.0 C641.8 81.3 643.6 80.8 645.0 80.0 C646.4 79.2 647.9 78.0 649.0 77.0 C650.1 76.0 651.0 75.1 652.0 74.0 C653.0 72.9 654.0 71.3 655.0 70.0 C656.0 68.7 657.0 67.3 658.0 66.0 C659.0 64.7 660.3 63.0 661.0 62.0 C661.7 61.0 662.3 59.9 662.5 59.5" fill="none" stroke-linecap="round" stroke-linejoin="round" stroke="url(#g48)" stroke-width="5.21" transform="translate(-0.3,-0.4)"/>
<path d="M608.0 100.0 C608.8 99.9 611.6 100.0 613.0 99.5 C614.4 99.0 615.9 98.0 617.0 97.0 C618.1 96.0 619.0 94.2 620.0 93.0 C621.0 91.8 621.7 90.5 623.0 89.5 C624.3 88.5 626.2 87.8 628.0 87.0 C629.8 86.2 632.1 85.3 634.0 84.5 C635.9 83.7 638.2 82.7 640.0 82.0 C641.8 81.3 643.6 80.8 645.0 80.0 C646.4 79.2 647.9 78.0 649.0 77.0 C650.1 76.0 651.0 75.1 652.0 74.0 C653.0 72.9 654.0 71.3 655.0 70.0 C656.0 68.7 657.0 67.3 658.0 66.0 C659.0 64.7 660.3 63.0 661.0 62.0 C661.7 61.0 662.3 59.9 662.5 59.5" fill="none" stroke-linecap="round" stroke-linejoin="round" stroke="url(#g49)" stroke-width="1.86" transform="translate(-0.6,-0.8)"/>
<path d="M662.0 58.0 C662.8 58.6 665.6 60.3 667.0 61.5 C668.4 62.7 669.7 64.1 671.0 65.5 C672.3 66.9 673.9 68.3 675.0 70.0 C676.1 71.7 677.2 74.1 678.0 76.0 C678.8 77.9 679.6 80.1 680.0 82.0 C680.4 83.9 680.7 86.1 680.5 88.0 C680.3 89.9 679.9 92.2 679.0 94.0 C678.1 95.8 676.4 97.9 675.0 99.5 C673.6 101.1 671.6 102.4 670.0 104.0 C668.4 105.6 666.6 107.7 665.0 109.5 C663.4 111.3 661.6 113.4 660.0 115.5 C658.4 117.6 656.6 120.5 655.0 122.5 C653.4 124.5 651.6 126.3 650.0 128.0 C648.4 129.7 646.6 131.2 645.0 133.0 C643.4 134.8 641.6 137.2 640.0 139.0 C638.4 140.8 636.4 142.2 635.0 144.0 C633.6 145.8 632.3 148.2 631.0 150.0 C629.7 151.8 628.3 153.4 627.0 155.0 C625.7 156.6 624.1 158.4 623.0 160.0 C621.9 161.6 620.9 163.4 620.0 165.0 C619.1 166.6 618.4 168.4 617.5 170.0 C616.6 171.6 615.5 173.6 614.5 175.0 C613.5 176.4 612.2 177.5 611.0 178.5 C609.8 179.5 607.6 181.0 607.0 181.5" fill="none" stroke-linecap="round" stroke-linejoin="round" stroke="url(#g50)" stroke-width="6.20"/>
<path d="M662.0 58.0 C662.8 58.6 665.6 60.3 667.0 61.5 C668.4 62.7 669.7 64.1 671.0 65.5 C672.3 66.9 673.9 68.3 675.0 70.0 C676.1 71.7 677.2 74.1 678.0 76.0 C678.8 77.9 679.6 80.1 680.0 82.0 C680.4 83.9 680.7 86.1 680.5 88.0 C680.3 89.9 679.9 92.2 679.0 94.0 C678.1 95.8 676.4 97.9 675.0 99.5 C673.6 101.1 671.6 102.4 670.0 104.0 C668.4 105.6 666.6 107.7 665.0 109.5 C663.4 111.3 661.6 113.4 660.0 115.5 C658.4 117.6 656.6 120.5 655.0 122.5 C653.4 124.5 651.6 126.3 650.0 128.0 C648.4 129.7 646.6 131.2 645.0 133.0 C643.4 134.8 641.6 137.2 640.0 139.0 C638.4 140.8 636.4 142.2 635.0 144.0 C633.6 145.8 632.3 148.2 631.0 150.0 C629.7 151.8 628.3 153.4 627.0 155.0 C625.7 156.6 624.1 158.4 623.0 160.0 C621.9 161.6 620.9 163.4 620.0 165.0 C619.1 166.6 618.4 168.4 617.5 170.0 C616.6 171.6 615.5 173.6 614.5 175.0 C613.5 176.4 612.2 177.5 611.0 178.5 C609.8 179.5 607.6 181.0 607.0 181.5" fill="none" stroke-linecap="round" stroke-linejoin="round" stroke="url(#g51)" stroke-width="5.21" transform="translate(-0.3,-0.4)"/>
<path d="M662.0 58.0 C662.8 58.6 665.6 60.3 667.0 61.5 C668.4 62.7 669.7 64.1 671.0 65.5 C672.3 66.9 673.9 68.3 675.0 70.0 C676.1 71.7 677.2 74.1 678.0 76.0 C678.8 77.9 679.6 80.1 680.0 82.0 C680.4 83.9 680.7 86.1 680.5 88.0 C680.3 89.9 679.9 92.2 679.0 94.0 C678.1 95.8 676.4 97.9 675.0 99.5 C673.6 101.1 671.6 102.4 670.0 104.0 C668.4 105.6 666.6 107.7 665.0 109.5 C663.4 111.3 661.6 113.4 660.0 115.5 C658.4 117.6 656.6 120.5 655.0 122.5 C653.4 124.5 651.6 126.3 650.0 128.0 C648.4 129.7 646.6 131.2 645.0 133.0 C643.4 134.8 641.6 137.2 640.0 139.0 C638.4 140.8 636.4 142.2 635.0 144.0 C633.6 145.8 632.3 148.2 631.0 150.0 C629.7 151.8 628.3 153.4 627.0 155.0 C625.7 156.6 624.1 158.4 623.0 160.0 C621.9 161.6 620.9 163.4 620.0 165.0 C619.1 166.6 618.4 168.4 617.5 170.0 C616.6 171.6 615.5 173.6 614.5 175.0 C613.5 176.4 612.2 177.5 611.0 178.5 C609.8 179.5 607.6 181.0 607.0 181.5" fill="none" stroke-linecap="round" stroke-linejoin="round" stroke="url(#g52)" stroke-width="1.86" transform="translate(-0.6,-0.8)"/>
<path d="M670.0 135.5 C669.5 136.4 668.1 139.2 667.0 141.0 C665.9 142.8 664.3 144.7 663.0 146.5 C661.7 148.3 660.3 150.1 659.0 152.0 C657.7 153.9 656.3 156.3 655.0 158.5 C653.7 160.7 652.1 163.8 651.0 166.0 C649.9 168.2 649.0 170.2 648.0 172.0 C647.0 173.8 646.0 175.4 645.0 177.0 C644.0 178.6 643.0 180.6 642.0 182.0 C641.0 183.4 640.0 184.9 639.0 186.0 C638.0 187.1 636.5 188.5 636.0 189.0" fill="none" stroke-linecap="round" stroke-linejoin="round" stroke="rgb(8,182,156)" stroke-width="6.20"/>
<path d="M670.0 135.5 C669.5 136.4 668.1 139.2 667.0 141.0 C665.9 142.8 664.3 144.7 663.0 146.5 C661.7 148.3 660.3 150.1 659.0 152.0 C657.7 153.9 656.3 156.3 655.0 158.5 C653.7 160.7 652.1 163.8 651.0 166.0 C649.9 168.2 649.0 170.2 648.0 172.0 C647.0 173.8 646.0 175.4 645.0 177.0 C644.0 178.6 643.0 180.6 642.0 182.0 C641.0 183.4 640.0 184.9 639.0 186.0 C638.0 187.1 636.5 188.5 636.0 189.0" fill="none" stroke-linecap="round" stroke-linejoin="round" stroke="rgb(10,228,195)" stroke-width="5.21" transform="translate(-0.3,-0.4)"/>
<path d="M670.0 135.5 C669.5 136.4 668.1 139.2 667.0 141.0 C665.9 142.8 664.3 144.7 663.0 146.5 C661.7 148.3 660.3 150.1 659.0 152.0 C657.7 153.9 656.3 156.3 655.0 158.5 C653.7 160.7 652.1 163.8 651.0 166.0 C649.9 168.2 649.0 170.2 648.0 172.0 C647.0 173.8 646.0 175.4 645.0 177.0 C644.0 178.6 643.0 180.6 642.0 182.0 C641.0 183.4 640.0 184.9 639.0 186.0 C638.0 187.1 636.5 188.5 636.0 189.0" fill="none" stroke-linecap="round" stroke-linejoin="round" stroke="rgb(59,233,207)" stroke-width="1.86" transform="translate(-0.6,-0.8)"/>
<path d="M598.0 56.0 C597.4 56.5 595.3 58.1 594.0 59.0 C592.7 59.9 591.4 60.7 590.0 61.5 C588.6 62.3 586.6 63.1 585.0 64.0 C583.4 64.9 581.4 66.0 580.0 67.0 C578.6 68.0 577.3 68.9 576.0 70.0 C574.7 71.1 573.3 72.7 572.0 74.0 C570.7 75.3 569.1 76.7 568.0 78.0 C566.9 79.3 565.9 80.7 565.0 82.0 C564.1 83.3 563.1 84.7 562.5 86.0 C561.9 87.3 561.1 88.7 561.0 90.0 C560.9 91.3 561.5 92.9 562.0 94.0 C562.5 95.1 563.7 96.5 564.0 97.0" fill="none" stroke-linecap="round" stroke-linejoin="round" stroke="rgb(204,132,8)" stroke-width="6.20"/>
<path d="M598.0 56.0 C597.4 56.5 595.3 58.1 594.0 59.0 C592.7 59.9 591.4 60.7 590.0 61.5 C588.6 62.3 586.6 63.1 585.0 64.0 C583.4 64.9 581.4 66.0 580.0 67.0 C578.6 68.0 577.3 68.9 576.0 70.0 C574.7 71.1 573.3 72.7 572.0 74.0 C570.7 75.3 569.1 76.7 568.0 78.0 C566.9 79.3 565.9 80.7 565.0 82.0 C564.1 83.3 563.1 84.7 562.5 86.0 C561.9 87.3 561.1 88.7 561.0 90.0 C560.9 91.3 561.5 92.9 562.0 94.0 C562.5 95.1 563.7 96.5 564.0 97.0" fill="none" stroke-linecap="round" stroke-linejoin="round" stroke="rgb(255,165,10)" stroke-width="5.21" transform="translate(-0.3,-0.4)"/>
<path d="M598.0 56.0 C597.4 56.5 595.3 58.1 594.0 59.0 C592.7 59.9 591.4 60.7 590.0 61.5 C588.6 62.3 586.6 63.1 585.0 64.0 C583.4 64.9 581.4 66.0 580.0 67.0 C578.6 68.0 577.3 68.9 576.0 70.0 C574.7 71.1 573.3 72.7 572.0 74.0 C570.7 75.3 569.1 76.7 568.0 78.0 C566.9 79.3 565.9 80.7 565.0 82.0 C564.1 83.3 563.1 84.7 562.5 86.0 C561.9 87.3 561.1 88.7 561.0 90.0 C560.9 91.3 561.5 92.9 562.0 94.0 C562.5 95.1 563.7 96.5 564.0 97.0" fill="none" stroke-linecap="round" stroke-linejoin="round" stroke="rgb(255,183,59)" stroke-width="1.86" transform="translate(-0.6,-0.8)"/>
<path d="M564.0 97.5 C563.0 98.2 559.9 100.6 558.0 102.0 C556.1 103.4 553.8 105.2 552.0 106.5 C550.2 107.8 548.4 108.7 547.0 110.0 C545.6 111.3 544.4 113.1 543.0 114.5 C541.6 115.9 539.6 117.6 538.0 119.0 C536.4 120.4 534.6 121.8 533.0 123.0 C531.4 124.2 529.6 125.3 528.0 126.5 C526.4 127.7 524.4 129.1 523.0 130.5 C521.6 131.9 520.1 133.6 519.5 135.0 C518.9 136.4 519.3 137.7 519.5 139.0 C519.7 140.3 520.3 141.6 521.0 143.0 C521.7 144.4 523.0 146.1 524.0 147.5 C525.0 148.9 526.4 150.6 527.5 152.0 C528.6 153.4 529.9 154.7 531.0 156.0 C532.1 157.3 533.4 158.6 534.5 160.0 C535.6 161.4 537.0 163.1 538.0 164.5 C539.0 165.9 540.5 167.9 541.0 168.5" fill="none" stroke-linecap="round" stroke-linejoin="round" stroke="url(#g53)" stroke-width="6.00"/>
<path d="M564.0 97.5 C563.0 98.2 559.9 100.6 558.0 102.0 C556.1 103.4 553.8 105.2 552.0 106.5 C550.2 107.8 548.4 108.7 547.0 110.0 C545.6 111.3 544.4 113.1 543.0 114.5 C541.6 115.9 539.6 117.6 538.0 119.0 C536.4 120.4 534.6 121.8 533.0 123.0 C531.4 124.2 529.6 125.3 528.0 126.5 C526.4 127.7 524.4 129.1 523.0 130.5 C521.6 131.9 520.1 133.6 519.5 135.0 C518.9 136.4 519.3 137.7 519.5 139.0 C519.7 140.3 520.3 141.6 521.0 143.0 C521.7 144.4 523.0 146.1 524.0 147.5 C525.0 148.9 526.4 150.6 527.5 152.0 C528.6 153.4 529.9 154.7 531.0 156.0 C532.1 157.3 533.4 158.6 534.5 160.0 C535.6 161.4 537.0 163.1 538.0 164.5 C539.0 165.9 540.5 167.9 541.0 168.5" fill="none" stroke-linecap="round" stroke-linejoin="round" stroke="url(#g54)" stroke-width="5.04" transform="translate(-0.3,-0.4)"/>
<path d="M564.0 97.5 C563.0 98.2 559.9 100.6 558.0 102.0 C556.1 103.4 553.8 105.2 552.0 106.5 C550.2 107.8 548.4 108.7 547.0 110.0 C545.6 111.3 544.4 113.1 543.0 114.5 C541.6 115.9 539.6 117.6 538.0 119.0 C536.4 120.4 534.6 121.8 533.0 123.0 C531.4 124.2 529.6 125.3 528.0 126.5 C526.4 127.7 524.4 129.1 523.0 130.5 C521.6 131.9 520.1 133.6 519.5 135.0 C518.9 136.4 519.3 137.7 519.5 139.0 C519.7 140.3 520.3 141.6 521.0 143.0 C521.7 144.4 523.0 146.1 524.0 147.5 C525.0 148.9 526.4 150.6 527.5 152.0 C528.6 153.4 529.9 154.7 531.0 156.0 C532.1 157.3 533.4 158.6 534.5 160.0 C535.6 161.4 537.0 163.1 538.0 164.5 C539.0 165.9 540.5 167.9 541.0 168.5" fill="none" stroke-linecap="round" stroke-linejoin="round" stroke="url(#g55)" stroke-width="1.80" transform="translate(-0.6,-0.8)"/>
<path d="M564.0 97.0 C565.0 97.3 568.1 98.6 570.0 99.0 C571.9 99.4 574.2 99.2 576.0 99.5 C577.8 99.8 579.7 99.8 581.0 101.0 C582.3 102.2 583.1 105.1 584.0 107.0 C584.9 108.9 586.0 111.1 586.5 113.0 C587.0 114.9 587.2 117.1 587.0 119.0 C586.8 120.9 586.0 123.1 585.0 125.0 C584.0 126.9 582.3 129.2 581.0 131.0 C579.7 132.8 578.3 134.5 577.0 136.0 C575.7 137.5 574.4 139.1 573.0 140.5 C571.6 141.9 569.6 143.4 568.0 145.0 C566.4 146.6 563.8 149.6 563.0 150.5" fill="none" stroke-linecap="round" stroke-linejoin="round" stroke="rgb(194,192,16)" stroke-width="6.20"/>
<path d="M564.0 97.0 C565.0 97.3 568.1 98.6 570.0 99.0 C571.9 99.4 574.2 99.2 576.0 99.5 C577.8 99.8 579.7 99.8 581.0 101.0 C582.3 102.2 583.1 105.1 584.0 107.0 C584.9 108.9 586.0 111.1 586.5 113.0 C587.0 114.9 587.2 117.1 587.0 119.0 C586.8 120.9 586.0 123.1 585.0 125.0 C584.0 126.9 582.3 129.2 581.0 131.0 C579.7 132.8 578.3 134.5 577.0 136.0 C575.7 137.5 574.4 139.1 573.0 140.5 C571.6 141.9 569.6 143.4 568.0 145.0 C566.4 146.6 563.8 149.6 563.0 150.5" fill="none" stroke-linecap="round" stroke-linejoin="round" stroke="rgb(242,240,20)" stroke-width="5.21" transform="translate(-0.3,-0.4)"/>
<path d="M564.0 97.0 C565.0 97.3 568.1 98.6 570.0 99.0 C571.9 99.4 574.2 99.2 576.0 99.5 C577.8 99.8 579.7 99.8 581.0 101.0 C582.3 102.2 583.1 105.1 584.0 107.0 C584.9 108.9 586.0 111.1 586.5 113.0 C587.0 114.9 587.2 117.1 587.0 119.0 C586.8 120.9 586.0 123.1 585.0 125.0 C584.0 126.9 582.3 129.2 581.0 131.0 C579.7 132.8 578.3 134.5 577.0 136.0 C575.7 137.5 574.4 139.1 573.0 140.5 C571.6 141.9 569.6 143.4 568.0 145.0 C566.4 146.6 563.8 149.6 563.0 150.5" fill="none" stroke-linecap="round" stroke-linejoin="round" stroke="rgb(245,243,67)" stroke-width="1.86" transform="translate(-0.6,-0.8)"/>
<path d="M562.0 150.5 C561.2 151.1 558.7 153.1 557.0 154.5 C555.3 155.9 553.1 157.6 551.5 159.0 C549.9 160.4 548.2 161.9 547.0 163.0 C545.8 164.1 544.5 165.5 544.0 166.0" fill="none" stroke-linecap="round" stroke-linejoin="round" stroke="rgb(200,160,16)" stroke-width="5.40"/>
<path d="M562.0 150.5 C561.2 151.1 558.7 153.1 557.0 154.5 C555.3 155.9 553.1 157.6 551.5 159.0 C549.9 160.4 548.2 161.9 547.0 163.0 C545.8 164.1 544.5 165.5 544.0 166.0" fill="none" stroke-linecap="round" stroke-linejoin="round" stroke="rgb(250,200,20)" stroke-width="4.54" transform="translate(-0.3,-0.4)"/>
<path d="M562.0 150.5 C561.2 151.1 558.7 153.1 557.0 154.5 C555.3 155.9 553.1 157.6 551.5 159.0 C549.9 160.4 548.2 161.9 547.0 163.0 C545.8 164.1 544.5 165.5 544.0 166.0" fill="none" stroke-linecap="round" stroke-linejoin="round" stroke="rgb(251,211,67)" stroke-width="1.62" transform="translate(-0.6,-0.8)"/>
<path d="M598.0 91.0 C597.0 91.4 593.8 92.5 592.0 93.5 C590.2 94.5 588.6 95.6 587.0 97.0 C585.4 98.4 583.6 100.2 582.0 102.0 C580.4 103.8 578.4 106.1 577.0 108.0 C575.6 109.9 574.5 112.1 573.5 114.0 C572.5 115.9 571.6 117.9 571.0 120.0 C570.4 122.1 570.0 125.0 569.5 127.0 C569.0 129.0 568.4 131.0 568.0 132.5 C567.6 134.0 567.2 135.9 567.0 136.5" fill="none" stroke-linecap="round" stroke-linejoin="round" stroke="rgb(0,180,188)" stroke-width="6.00"/>
<path d="M598.0 91.0 C597.0 91.4 593.8 92.5 592.0 93.5 C590.2 94.5 588.6 95.6 587.0 97.0 C585.4 98.4 583.6 100.2 582.0 102.0 C580.4 103.8 578.4 106.1 577.0 108.0 C575.6 109.9 574.5 112.1 573.5 114.0 C572.5 115.9 571.6 117.9 571.0 120.0 C570.4 122.1 570.0 125.0 569.5 127.0 C569.0 129.0 568.4 131.0 568.0 132.5 C567.6 134.0 567.2 135.9 567.0 136.5" fill="none" stroke-linecap="round" stroke-linejoin="round" stroke="rgb(0,225,235)" stroke-width="5.04" transform="translate(-0.3,-0.4)"/>
<path d="M598.0 91.0 C597.0 91.4 593.8 92.5 592.0 93.5 C590.2 94.5 588.6 95.6 587.0 97.0 C585.4 98.4 583.6 100.2 582.0 102.0 C580.4 103.8 578.4 106.1 577.0 108.0 C575.6 109.9 574.5 112.1 573.5 114.0 C572.5 115.9 571.6 117.9 571.0 120.0 C570.4 122.1 570.0 125.0 569.5 127.0 C569.0 129.0 568.4 131.0 568.0 132.5 C567.6 134.0 567.2 135.9 567.0 136.5" fill="none" stroke-linecap="round" stroke-linejoin="round" stroke="rgb(51,231,239)" stroke-width="1.80" transform="translate(-0.6,-0.8)"/>
<path d="M567.0 137.0 C566.2 137.2 563.6 137.5 562.0 138.0 C560.4 138.5 558.4 139.3 557.0 140.0 C555.6 140.7 554.1 141.8 553.0 142.5 C551.9 143.2 550.5 144.2 550.0 144.5" fill="none" stroke-linecap="round" stroke-linejoin="round" stroke="rgb(0,180,188)" stroke-width="6.00"/>
<path d="M567.0 137.0 C566.2 137.2 563.6 137.5 562.0 138.0 C560.4 138.5 558.4 139.3 557.0 140.0 C555.6 140.7 554.1 141.8 553.0 142.5 C551.9 143.2 550.5 144.2 550.0 144.5" fill="none" stroke-linecap="round" stroke-linejoin="round" stroke="rgb(0,225,235)" stroke-width="5.04" transform="translate(-0.3,-0.4)"/>
<path d="M567.0 137.0 C566.2 137.2 563.6 137.5 562.0 138.0 C560.4 138.5 558.4 139.3 557.0 140.0 C555.6 140.7 554.1 141.8 553.0 142.5 C551.9 143.2 550.5 144.2 550.0 144.5" fill="none" stroke-linecap="round" stroke-linejoin="round" stroke="rgb(51,231,239)" stroke-width="1.80" transform="translate(-0.6,-0.8)"/>
<path d="M567.0 137.0 C566.8 138.0 566.0 141.1 565.5 143.0 C565.0 144.9 564.6 147.2 564.0 149.0 C563.4 150.8 561.9 153.2 561.5 154.0" fill="none" stroke-linecap="round" stroke-linejoin="round" stroke="rgb(16,181,152)" stroke-width="5.40"/>
<path d="M567.0 137.0 C566.8 138.0 566.0 141.1 565.5 143.0 C565.0 144.9 564.6 147.2 564.0 149.0 C563.4 150.8 561.9 153.2 561.5 154.0" fill="none" stroke-linecap="round" stroke-linejoin="round" stroke="rgb(20,226,190)" stroke-width="4.54" transform="translate(-0.3,-0.4)"/>
<path d="M567.0 137.0 C566.8 138.0 566.0 141.1 565.5 143.0 C565.0 144.9 564.6 147.2 564.0 149.0 C563.4 150.8 561.9 153.2 561.5 154.0" fill="none" stroke-linecap="round" stroke-linejoin="round" stroke="rgb(67,232,203)" stroke-width="1.62" transform="translate(-0.6,-0.8)"/>
<path d="M572.0 146.0 C571.4 146.6 569.1 148.8 568.0 150.0 C566.9 151.2 566.0 152.5 565.0 153.5 C564.0 154.5 563.3 155.0 562.0 156.0 C560.7 157.0 558.6 158.7 557.0 160.0 C555.4 161.3 553.6 162.9 552.0 164.0 C550.4 165.1 548.4 166.2 547.0 167.0 C545.6 167.8 543.6 168.7 543.0 169.0" fill="none" stroke-linecap="round" stroke-linejoin="round" stroke="url(#g56)" stroke-width="6.20"/>
<path d="M572.0 146.0 C571.4 146.6 569.1 148.8 568.0 150.0 C566.9 151.2 566.0 152.5 565.0 153.5 C564.0 154.5 563.3 155.0 562.0 156.0 C560.7 157.0 558.6 158.7 557.0 160.0 C555.4 161.3 553.6 162.9 552.0 164.0 C550.4 165.1 548.4 166.2 547.0 167.0 C545.6 167.8 543.6 168.7 543.0 169.0" fill="none" stroke-linecap="round" stroke-linejoin="round" stroke="url(#g57)" stroke-width="5.21" transform="translate(-0.3,-0.4)"/>
<path d="M572.0 146.0 C571.4 146.6 569.1 148.8 568.0 150.0 C566.9 151.2 566.0 152.5 565.0 153.5 C564.0 154.5 563.3 155.0 562.0 156.0 C560.7 157.0 558.6 158.7 557.0 160.0 C555.4 161.3 553.6 162.9 552.0 164.0 C550.4 165.1 548.4 166.2 547.0 167.0 C545.6 167.8 543.6 168.7 543.0 169.0" fill="none" stroke-linecap="round" stroke-linejoin="round" stroke="url(#g58)" stroke-width="1.86" transform="translate(-0.6,-0.8)"/>
<path d="M542.5 167.5 C542.3 168.4 541.7 171.6 541.5 173.0 C541.3 174.4 541.6 175.5 541.0 176.5 C540.4 177.5 539.0 178.2 538.0 179.0 C537.0 179.8 535.5 181.1 535.0 181.5" fill="none" stroke-linecap="round" stroke-linejoin="round" stroke="rgb(204,132,8)" stroke-width="6.00"/>
<path d="M542.5 167.5 C542.3 168.4 541.7 171.6 541.5 173.0 C541.3 174.4 541.6 175.5 541.0 176.5 C540.4 177.5 539.0 178.2 538.0 179.0 C537.0 179.8 535.5 181.1 535.0 181.5" fill="none" stroke-linecap="round" stroke-linejoin="round" stroke="rgb(255,165,10)" stroke-width="5.04" transform="translate(-0.3,-0.4)"/>
<path d="M542.5 167.5 C542.3 168.4 541.7 171.6 541.5 173.0 C541.3 174.4 541.6 175.5 541.0 176.5 C540.4 177.5 539.0 178.2 538.0 179.0 C537.0 179.8 535.5 181.1 535.0 181.5" fill="none" stroke-linecap="round" stroke-linejoin="round" stroke="rgb(255,183,59)" stroke-width="1.80" transform="translate(-0.6,-0.8)"/>
<path d="M598.0 91.0 C598.5 91.6 600.2 93.5 601.0 95.0 C601.8 96.5 602.7 99.6 603.0 100.5" fill="none" stroke-linecap="round" stroke-linejoin="round" stroke="rgb(0,180,188)" stroke-width="6.00"/>
<path d="M598.0 91.0 C598.5 91.6 600.2 93.5 601.0 95.0 C601.8 96.5 602.7 99.6 603.0 100.5" fill="none" stroke-linecap="round" stroke-linejoin="round" stroke="rgb(0,225,235)" stroke-width="5.04" transform="translate(-0.3,-0.4)"/>
<path d="M598.0 91.0 C598.5 91.6 600.2 93.5 601.0 95.0 C601.8 96.5 602.7 99.6 603.0 100.5" fill="none" stroke-linecap="round" stroke-linejoin="round" stroke="rgb(51,231,239)" stroke-width="1.80" transform="translate(-0.6,-0.8)"/>
<path d="M603.0 101.5 C603.1 102.2 603.0 104.5 603.5 106.0 C604.0 107.5 605.0 109.6 606.0 111.0 C607.0 112.4 608.6 113.4 610.0 114.5 C611.4 115.6 613.5 116.8 615.0 118.0 C616.5 119.2 618.5 120.6 619.5 122.0 C620.5 123.4 621.1 125.4 621.5 127.0 C621.9 128.6 622.1 130.4 622.0 132.0 C621.9 133.6 621.6 135.4 621.0 137.0 C620.4 138.6 619.5 140.5 618.5 142.0 C617.5 143.5 616.2 145.0 615.0 146.5 C613.8 148.0 612.3 150.0 611.0 151.5 C609.7 153.0 608.3 154.6 607.0 156.0 C605.7 157.4 604.1 158.8 603.0 160.0 C601.9 161.2 600.9 162.5 600.0 163.5 C599.1 164.5 597.9 165.6 597.5 166.0" fill="none" stroke-linecap="round" stroke-linejoin="round" stroke="rgb(204,96,8)" stroke-width="6.00"/>
<path d="M603.0 101.5 C603.1 102.2 603.0 104.5 603.5 106.0 C604.0 107.5 605.0 109.6 606.0 111.0 C607.0 112.4 608.6 113.4 610.0 114.5 C611.4 115.6 613.5 116.8 615.0 118.0 C616.5 119.2 618.5 120.6 619.5 122.0 C620.5 123.4 621.1 125.4 621.5 127.0 C621.9 128.6 622.1 130.4 622.0 132.0 C621.9 133.6 621.6 135.4 621.0 137.0 C620.4 138.6 619.5 140.5 618.5 142.0 C617.5 143.5 616.2 145.0 615.0 146.5 C613.8 148.0 612.3 150.0 611.0 151.5 C609.7 153.0 608.3 154.6 607.0 156.0 C605.7 157.4 604.1 158.8 603.0 160.0 C601.9 161.2 600.9 162.5 600.0 163.5 C599.1 164.5 597.9 165.6 597.5 166.0" fill="none" stroke-linecap="round" stroke-linejoin="round" stroke="rgb(255,120,10)" stroke-width="5.04" transform="translate(-0.3,-0.4)"/>
<path d="M603.0 101.5 C603.1 102.2 603.0 104.5 603.5 106.0 C604.0 107.5 605.0 109.6 606.0 111.0 C607.0 112.4 608.6 113.4 610.0 114.5 C611.4 115.6 613.5 116.8 615.0 118.0 C616.5 119.2 618.5 120.6 619.5 122.0 C620.5 123.4 621.1 125.4 621.5 127.0 C621.9 128.6 622.1 130.4 622.0 132.0 C621.9 133.6 621.6 135.4 621.0 137.0 C620.4 138.6 619.5 140.5 618.5 142.0 C617.5 143.5 616.2 145.0 615.0 146.5 C613.8 148.0 612.3 150.0 611.0 151.5 C609.7 153.0 608.3 154.6 607.0 156.0 C605.7 157.4 604.1 158.8 603.0 160.0 C601.9 161.2 600.9 162.5 600.0 163.5 C599.1 164.5 597.9 165.6 597.5 166.0" fill="none" stroke-linecap="round" stroke-linejoin="round" stroke="rgb(255,147,59)" stroke-width="1.80" transform="translate(-0.6,-0.8)"/>
<line x1="471.40" y1="185.60" x2="638.00" y2="206.00" stroke="#000" stroke-width="1.5" stroke-linecap="square"/>
<line x1="638.00" y1="206.00" x2="746.00" y2="102.60" stroke="#000" stroke-width="1.5" stroke-linecap="square"/>
<line x1="471.40" y1="118.40" x2="638.00" y2="138.80" stroke="#000" stroke-width="1.5" stroke-linecap="square"/>
<line x1="638.00" y1="138.80" x2="746.00" y2="35.40" stroke="#000" stroke-width="1.5" stroke-linecap="square"/>
<line x1="746.00" y1="35.40" x2="581.00" y2="15.40" stroke="#000" stroke-width="1.5" stroke-linecap="square"/>
<line x1="581.00" y1="15.40" x2="471.40" y2="118.40" stroke="#000" stroke-width="1.5" stroke-linecap="square"/>
<line x1="471.40" y1="185.60" x2="471.40" y2="118.40" stroke="#000" stroke-width="1.5" stroke-linecap="square"/>
<line x1="638.00" y1="206.00" x2="638.00" y2="138.80" stroke="#000" stroke-width="1.5" stroke-linecap="square"/>
<line x1="746.00" y1="102.60" x2="746.00" y2="35.40" stroke="#000" stroke-width="1.5" stroke-linecap="square"/>
<line x1="467.40" y1="185.60" x2="471.40" y2="185.60" stroke="#000" stroke-width="1.3" stroke-linecap="butt"/>
<text x="465.60" y="185.90" font-size="8.6" text-anchor="end" dominant-baseline="central"  stroke="#111" stroke-width="0.2">0</text>
<line x1="467.40" y1="163.10" x2="471.40" y2="163.10" stroke="#000" stroke-width="1.3" stroke-linecap="butt"/>
<text x="465.60" y="163.40" font-size="8.6" text-anchor="end" dominant-baseline="central"  stroke="#111" stroke-width="0.2">20</text>
<line x1="467.40" y1="140.60" x2="471.40" y2="140.60" stroke="#000" stroke-width="1.3" stroke-linecap="butt"/>
<text x="465.60" y="140.90" font-size="8.6" text-anchor="end" dominant-baseline="central"  stroke="#111" stroke-width="0.2">40</text>
<line x1="467.40" y1="118.20" x2="471.40" y2="118.20" stroke="#000" stroke-width="1.3" stroke-linecap="butt"/>
<text x="465.60" y="118.50" font-size="8.6" text-anchor="end" dominant-baseline="central"  stroke="#111" stroke-width="0.2">60</text>
<text x="465.00" y="195.80" font-size="8.6" text-anchor="middle" dominant-baseline="central"  stroke="#111" stroke-width="0.2">0</text>
<line x1="526.20" y1="192.40" x2="524.40" y2="195.00" stroke="#000" stroke-width="1.3" stroke-linecap="butt"/>
<text x="518.80" y="202.50" font-size="8.6" text-anchor="middle" dominant-baseline="central"  stroke="#111" stroke-width="0.2">50</text>
<line x1="582.00" y1="199.20" x2="580.20" y2="201.80" stroke="#000" stroke-width="1.3" stroke-linecap="butt"/>
<text x="572.50" y="209.50" font-size="8.6" text-anchor="middle" dominant-baseline="central"  stroke="#111" stroke-width="0.2">100</text>
<line x1="638.50" y1="206.00" x2="641.50" y2="206.40" stroke="#000" stroke-width="1.3" stroke-linecap="butt"/>
<text x="645.00" y="213.00" font-size="8.6" text-anchor="middle" dominant-baseline="central"  stroke="#111" stroke-width="0.2">0</text>
<line x1="658.20" y1="187.00" x2="661.20" y2="187.40" stroke="#000" stroke-width="1.3" stroke-linecap="butt"/>
<text x="667.60" y="193.60" font-size="8.6" text-anchor="middle" dominant-baseline="central"  stroke="#111" stroke-width="0.2">50</text>
<line x1="679.20" y1="167.80" x2="682.20" y2="168.20" stroke="#000" stroke-width="1.3" stroke-linecap="butt"/>
<text x="691.00" y="174.40" font-size="8.6" text-anchor="middle" dominant-baseline="central"  stroke="#111" stroke-width="0.2">100</text>
<line x1="700.20" y1="148.40" x2="703.20" y2="148.80" stroke="#000" stroke-width="1.3" stroke-linecap="butt"/>
<text x="711.00" y="155.00" font-size="8.6" text-anchor="middle" dominant-baseline="central"  stroke="#111" stroke-width="0.2">150</text>
<line x1="720.20" y1="129.20" x2="723.20" y2="129.60" stroke="#000" stroke-width="1.3" stroke-linecap="butt"/>
<text x="731.60" y="136.00" font-size="8.6" text-anchor="middle" dominant-baseline="central"  stroke="#111" stroke-width="0.2">200</text>
<line x1="741.20" y1="109.80" x2="744.20" y2="110.20" stroke="#000" stroke-width="1.3" stroke-linecap="butt"/>
<text x="752.00" y="116.40" font-size="8.6" text-anchor="middle" dominant-baseline="central"  stroke="#111" stroke-width="0.2">250</text>
<text x="696.50" y="207.50" font-size="9.5" text-anchor="start" dominant-baseline="central"  stroke="#111" stroke-width="0.2">Y</text>
<text x="697.00" y="221.00" font-size="9.5" text-anchor="start" dominant-baseline="central"  stroke="#111" stroke-width="0.2">(μ m)</text>
<text x="580.00" y="236.30" font-size="9.5" text-anchor="end" dominant-baseline="central"  stroke="#111" stroke-width="0.2">X</text>
<text x="579.50" y="249.70" font-size="9.5" text-anchor="end" dominant-baseline="central"  stroke="#111" stroke-width="0.2">(μ m)</text>
<text x="434.50" y="152.00" font-size="9.5" text-anchor="middle" dominant-baseline="central" transform="rotate(-90 434.50 152.00)"  stroke="#111" stroke-width="0.2">Z</text>
<text x="447.50" y="152.00" font-size="9.5" text-anchor="middle" dominant-baseline="central" transform="rotate(-90 447.50 152.00)"  stroke="#111" stroke-width="0.2">(μ m)</text>
<rect x="771.00" y="15.00" width="10.30" height="192.30" fill="url(#cb59)"/>
<line x1="771.00" y1="14.60" x2="772.20" y2="14.60" stroke="rgba(0,0,0,0.45)" stroke-width="0.5" stroke-linecap="butt"/>
<line x1="780.10" y1="14.60" x2="781.30" y2="14.60" stroke="rgba(0,0,0,0.45)" stroke-width="0.5" stroke-linecap="butt"/>
<text x="783.60" y="15.50" font-size="7" text-anchor="start" dominant-baseline="central"  stroke="#111" stroke-width="0.2">5</text>
<line x1="771.00" y1="33.90" x2="772.20" y2="33.90" stroke="rgba(0,0,0,0.45)" stroke-width="0.5" stroke-linecap="butt"/>
<line x1="780.10" y1="33.90" x2="781.30" y2="33.90" stroke="rgba(0,0,0,0.45)" stroke-width="0.5" stroke-linecap="butt"/>
<text x="783.60" y="34.80" font-size="7" text-anchor="start" dominant-baseline="central"  stroke="#111" stroke-width="0.2">4</text>
<line x1="771.00" y1="53.20" x2="772.20" y2="53.20" stroke="rgba(0,0,0,0.45)" stroke-width="0.5" stroke-linecap="butt"/>
<line x1="780.10" y1="53.20" x2="781.30" y2="53.20" stroke="rgba(0,0,0,0.45)" stroke-width="0.5" stroke-linecap="butt"/>
<text x="783.60" y="54.10" font-size="7" text-anchor="start" dominant-baseline="central"  stroke="#111" stroke-width="0.2">3</text>
<line x1="771.00" y1="72.50" x2="772.20" y2="72.50" stroke="rgba(0,0,0,0.45)" stroke-width="0.5" stroke-linecap="butt"/>
<line x1="780.10" y1="72.50" x2="781.30" y2="72.50" stroke="rgba(0,0,0,0.45)" stroke-width="0.5" stroke-linecap="butt"/>
<text x="783.60" y="73.40" font-size="7" text-anchor="start" dominant-baseline="central"  stroke="#111" stroke-width="0.2">2</text>
<line x1="771.00" y1="91.80" x2="772.20" y2="91.80" stroke="rgba(0,0,0,0.45)" stroke-width="0.5" stroke-linecap="butt"/>
<line x1="780.10" y1="91.80" x2="781.30" y2="91.80" stroke="rgba(0,0,0,0.45)" stroke-width="0.5" stroke-linecap="butt"/>
<text x="783.60" y="92.70" font-size="7" text-anchor="start" dominant-baseline="central"  stroke="#111" stroke-width="0.2">1</text>
<line x1="771.00" y1="111.10" x2="772.20" y2="111.10" stroke="rgba(0,0,0,0.45)" stroke-width="0.5" stroke-linecap="butt"/>
<line x1="780.10" y1="111.10" x2="781.30" y2="111.10" stroke="rgba(0,0,0,0.45)" stroke-width="0.5" stroke-linecap="butt"/>
<text x="783.60" y="112.00" font-size="7" text-anchor="start" dominant-baseline="central"  stroke="#111" stroke-width="0.2">0</text>
<line x1="771.00" y1="130.40" x2="772.20" y2="130.40" stroke="rgba(0,0,0,0.45)" stroke-width="0.5" stroke-linecap="butt"/>
<line x1="780.10" y1="130.40" x2="781.30" y2="130.40" stroke="rgba(0,0,0,0.45)" stroke-width="0.5" stroke-linecap="butt"/>
<text x="783.60" y="131.30" font-size="7" text-anchor="start" dominant-baseline="central"  stroke="#111" stroke-width="0.2">-1</text>
<line x1="771.00" y1="149.70" x2="772.20" y2="149.70" stroke="rgba(0,0,0,0.45)" stroke-width="0.5" stroke-linecap="butt"/>
<line x1="780.10" y1="149.70" x2="781.30" y2="149.70" stroke="rgba(0,0,0,0.45)" stroke-width="0.5" stroke-linecap="butt"/>
<text x="783.60" y="150.60" font-size="7" text-anchor="start" dominant-baseline="central"  stroke="#111" stroke-width="0.2">-2</text>
<line x1="771.00" y1="169.00" x2="772.20" y2="169.00" stroke="rgba(0,0,0,0.45)" stroke-width="0.5" stroke-linecap="butt"/>
<line x1="780.10" y1="169.00" x2="781.30" y2="169.00" stroke="rgba(0,0,0,0.45)" stroke-width="0.5" stroke-linecap="butt"/>
<text x="783.60" y="169.90" font-size="7" text-anchor="start" dominant-baseline="central"  stroke="#111" stroke-width="0.2">-3</text>
<line x1="771.00" y1="188.30" x2="772.20" y2="188.30" stroke="rgba(0,0,0,0.45)" stroke-width="0.5" stroke-linecap="butt"/>
<line x1="780.10" y1="188.30" x2="781.30" y2="188.30" stroke="rgba(0,0,0,0.45)" stroke-width="0.5" stroke-linecap="butt"/>
<text x="783.60" y="189.20" font-size="7" text-anchor="start" dominant-baseline="central"  stroke="#111" stroke-width="0.2">-4</text>
<line x1="771.00" y1="207.60" x2="772.20" y2="207.60" stroke="rgba(0,0,0,0.45)" stroke-width="0.5" stroke-linecap="butt"/>
<line x1="780.10" y1="207.60" x2="781.30" y2="207.60" stroke="rgba(0,0,0,0.45)" stroke-width="0.5" stroke-linecap="butt"/>
<text x="783.60" y="208.50" font-size="7" text-anchor="start" dominant-baseline="central"  stroke="#111" stroke-width="0.2">-5</text>
<line x1="325.80" y1="387.20" x2="165.90" y2="367.20" stroke="#000" stroke-width="1.5" stroke-linecap="butt"/>
<line x1="165.90" y1="367.20" x2="48.80" y2="477.20" stroke="#000" stroke-width="1.5" stroke-linecap="butt"/>
<line x1="165.90" y1="367.20" x2="165.90" y2="288.60" stroke="#000" stroke-width="1.5" stroke-linecap="butt"/>
<g>
<polygon points="168.0,354.0 150.0,368.0 125.0,392.0 106.0,410.0 100.0,428.0 100.0,444.0 108.0,456.0 116.0,470.0 126.0,484.0 150.0,470.0 150.0,400.0" fill="rgb(110,250,240)" filter="url(#bl3)" opacity="0.55"/>
<g filter="url(#bl3a)">
<polygon points="171.5,357.5 183.0,352.5 196.0,350.5 223.0,351.5 250.5,355.5 267.0,361.5 271.5,367.0 272.8,385.0 272.4,412.0 271.0,435.0 249.0,455.5 229.0,474.0 209.0,491.5 192.0,489.6 176.0,487.0 150.0,482.5 137.0,479.5 128.0,472.0 122.0,459.0 111.0,448.0 105.5,438.0 108.0,421.0 113.0,409.0 135.0,385.0 157.0,367.0" fill="rgb(12,248,226)"/>
<g clip-path="url(#cp3)">
<polygon points="140.0,396.0 188.0,372.0 240.0,378.0 262.0,388.0 209.0,420.0 124.0,409.0" fill="rgb(45,254,168)" filter="url(#bl3b)" opacity="0.95"/>
<polygon points="120.0,414.0 208.0,424.0 208.0,490.0 140.0,478.0 114.0,446.0" fill="rgb(15,250,172)" filter="url(#bl3)" opacity="0.92"/>
<polygon points="120.0,422.0 150.0,420.0 150.0,448.0 128.0,452.0" fill="rgb(90,253,150)" filter="url(#bl3b)" opacity="0.8"/>
<polygon points="186.0,432.0 208.0,428.0 208.0,488.0 190.0,482.0" fill="rgb(120,255,120)" filter="url(#bl3b)" opacity="0.9"/>
<polygon points="209.0,424.0 236.0,398.0 250.0,408.0 246.0,452.0 210.0,490.0" fill="rgb(140,255,105)" filter="url(#bl3b)" opacity="0.98"/>
<ellipse cx="222" cy="449" rx="4.5" ry="15" transform="rotate(42 222 449)" fill="rgb(210,255,50)" filter="url(#bl3c)" opacity="0.75"/>
<ellipse cx="199" cy="462" rx="3.5" ry="13" transform="rotate(22 199 462)" fill="rgb(175,255,85)" filter="url(#bl3c)" opacity="0.7"/>
<ellipse cx="123.5" cy="432" rx="2.8" ry="11" transform="rotate(50 123.5 432)" fill="rgb(240,185,70)" filter="url(#bl3c)" opacity="0.95"/>
<polygon points="100.0,405.0 122.0,395.0 120.0,430.0 126.0,470.0 140.0,492.0 112.0,480.0 98.0,440.0" fill="#fff" filter="url(#bl3b)" opacity="0.45"/>
</g>
<ellipse cx="102" cy="454" rx="1.5" ry="5" transform="rotate(55 102 454)" fill="rgb(120,250,210)" filter="url(#bl3c)" opacity="0.8"/>
</g>
<line x1="165.9" y1="367.2" x2="143" y2="388.6" stroke="#022" stroke-width="1.1" opacity="0.6"/>
<line x1="143" y1="388.6" x2="117" y2="413" stroke="#022" stroke-width="1.1" opacity="0.35"/>
<g filter="url(#bl1)">
<path d="M183.3 320.2 L181.6 324 L176.3 326.6 L171.2 326.2 L166.5 330.3 L163.8 336.7 L161.8 343 L166 347.8 L169.6 350.4" fill="none" stroke="rgb(45,20,160)" stroke-width="4.8" stroke-linecap="round" stroke-linejoin="round"/>
<path d="M169.5 328 L165 333.5 L163 340 L163.2 344.5 L166.5 347.5" fill="none" stroke="rgb(45,20,160)" stroke-width="8.2" stroke-linecap="round" stroke-linejoin="round"/>
<path d="M159.2 357.6 L136.9 378.6 L133.1 378 L119.1 390" fill="none" stroke="rgb(85,65,195)" stroke-width="1.5" stroke-linecap="round" stroke-linejoin="round"/>
<path d="M118.6 390.4 L109.2 398.8" fill="none" stroke="rgb(45,20,160)" stroke-width="3.8" stroke-linecap="round"/>
<path d="M109 399 L100.7 407.8" fill="none" stroke="rgb(75,55,190)" stroke-width="2.0" stroke-linecap="round"/>
</g>
<line x1="48.80" y1="477.20" x2="208.00" y2="497.20" stroke="#000" stroke-width="1.5" stroke-linecap="square"/>
<line x1="208.00" y1="497.20" x2="325.80" y2="387.20" stroke="#000" stroke-width="1.5" stroke-linecap="square"/>
<line x1="48.80" y1="398.60" x2="208.00" y2="418.60" stroke="#000" stroke-width="1.5" stroke-linecap="square"/>
<line x1="208.00" y1="418.60" x2="325.80" y2="308.60" stroke="#000" stroke-width="1.5" stroke-linecap="square"/>
<line x1="325.80" y1="308.60" x2="165.90" y2="288.60" stroke="#000" stroke-width="1.5" stroke-linecap="square"/>
<line x1="165.90" y1="288.60" x2="48.80" y2="398.60" stroke="#000" stroke-width="1.5" stroke-linecap="square"/>
<line x1="48.80" y1="477.20" x2="48.80" y2="398.60" stroke="#000" stroke-width="1.5" stroke-linecap="square"/>
<line x1="208.00" y1="497.20" x2="208.00" y2="418.60" stroke="#000" stroke-width="1.5" stroke-linecap="square"/>
<line x1="325.80" y1="387.20" x2="325.80" y2="308.60" stroke="#000" stroke-width="1.5" stroke-linecap="square"/>
<line x1="44.80" y1="477.60" x2="48.80" y2="477.60" stroke="#000" stroke-width="1.3" stroke-linecap="butt"/>
<text x="43.40" y="477.90" font-size="8.6" text-anchor="end" dominant-baseline="central"  stroke="#111" stroke-width="0.2">0</text>
<line x1="44.80" y1="458.80" x2="48.80" y2="458.80" stroke="#000" stroke-width="1.3" stroke-linecap="butt"/>
<text x="43.40" y="459.10" font-size="8.6" text-anchor="end" dominant-baseline="central"  stroke="#111" stroke-width="0.2">20</text>
<line x1="44.80" y1="439.90" x2="48.80" y2="439.90" stroke="#000" stroke-width="1.3" stroke-linecap="butt"/>
<text x="43.40" y="440.20" font-size="8.6" text-anchor="end" dominant-baseline="central"  stroke="#111" stroke-width="0.2">40</text>
<line x1="44.80" y1="421.00" x2="48.80" y2="421.00" stroke="#000" stroke-width="1.3" stroke-linecap="butt"/>
<text x="43.40" y="421.30" font-size="8.6" text-anchor="end" dominant-baseline="central"  stroke="#111" stroke-width="0.2">60</text>
<line x1="44.80" y1="402.10" x2="48.80" y2="402.10" stroke="#000" stroke-width="1.3" stroke-linecap="butt"/>
<text x="43.40" y="402.40" font-size="8.6" text-anchor="end" dominant-baseline="central"  stroke="#111" stroke-width="0.2">80</text>
<line x1="63.80" y1="479.20" x2="62.00" y2="481.80" stroke="#000" stroke-width="1.3" stroke-linecap="butt"/>
<text x="54.50" y="490.00" font-size="8.6" text-anchor="middle" dominant-baseline="central"  stroke="#111" stroke-width="0.2">150</text>
<line x1="110.80" y1="485.10" x2="109.00" y2="487.70" stroke="#000" stroke-width="1.3" stroke-linecap="butt"/>
<text x="101.80" y="496.20" font-size="8.6" text-anchor="middle" dominant-baseline="central"  stroke="#111" stroke-width="0.2">100</text>
<line x1="158.40" y1="491.00" x2="156.60" y2="493.60" stroke="#000" stroke-width="1.3" stroke-linecap="butt"/>
<text x="151.20" y="502.00" font-size="8.6" text-anchor="middle" dominant-baseline="central"  stroke="#111" stroke-width="0.2">50</text>
<line x1="205.80" y1="497.00" x2="204.00" y2="499.60" stroke="#000" stroke-width="1.3" stroke-linecap="butt"/>
<text x="200.80" y="508.00" font-size="8.6" text-anchor="middle" dominant-baseline="central"  stroke="#111" stroke-width="0.2">0</text>
<line x1="325.80" y1="387.20" x2="328.80" y2="387.60" stroke="#000" stroke-width="1.3" stroke-linecap="butt"/>
<text x="333.00" y="393.80" font-size="8.6" text-anchor="middle" dominant-baseline="central"  stroke="#111" stroke-width="0.2">0</text>
<line x1="290.80" y1="419.90" x2="293.80" y2="420.30" stroke="#000" stroke-width="1.3" stroke-linecap="butt"/>
<text x="303.80" y="426.20" font-size="8.6" text-anchor="middle" dominant-baseline="central"  stroke="#111" stroke-width="0.2">100</text>
<line x1="256.80" y1="451.80" x2="259.80" y2="452.20" stroke="#000" stroke-width="1.3" stroke-linecap="butt"/>
<text x="269.50" y="458.80" font-size="8.6" text-anchor="middle" dominant-baseline="central"  stroke="#111" stroke-width="0.2">200</text>
<line x1="223.20" y1="483.00" x2="226.20" y2="483.40" stroke="#000" stroke-width="1.3" stroke-linecap="butt"/>
<text x="235.00" y="490.50" font-size="8.6" text-anchor="middle" dominant-baseline="central"  stroke="#111" stroke-width="0.2">300</text>
<text x="270.00" y="497.50" font-size="9.5" text-anchor="start" dominant-baseline="central"  stroke="#111" stroke-width="0.2">Y</text>
<text x="270.80" y="511.30" font-size="9.5" text-anchor="start" dominant-baseline="central"  stroke="#111" stroke-width="0.2">(μ m)</text>
<text x="151.60" y="529.30" font-size="9.5" text-anchor="end" dominant-baseline="central"  stroke="#111" stroke-width="0.2">X</text>
<text x="151.20" y="542.60" font-size="9.5" text-anchor="end" dominant-baseline="central"  stroke="#111" stroke-width="0.2">(μ m)</text>
<text x="11.00" y="439.00" font-size="9.5" text-anchor="middle" dominant-baseline="central" transform="rotate(-90 11.00 439.00)"  stroke="#111" stroke-width="0.2">Z</text>
<text x="24.50" y="439.00" font-size="9.5" text-anchor="middle" dominant-baseline="central" transform="rotate(-90 24.50 439.00)"  stroke="#111" stroke-width="0.2">(μ m)</text>
<rect x="349.50" y="287.50" width="10.60" height="210.80" fill="url(#cb60)"/>
<line x1="349.50" y1="287.60" x2="350.70" y2="287.60" stroke="rgba(0,0,0,0.45)" stroke-width="0.5" stroke-linecap="butt"/>
<line x1="358.90" y1="287.60" x2="360.10" y2="287.60" stroke="rgba(0,0,0,0.45)" stroke-width="0.5" stroke-linecap="butt"/>
<text x="362.30" y="288.50" font-size="7" text-anchor="start" dominant-baseline="central"  stroke="#111" stroke-width="0.2">4</text>
<line x1="349.50" y1="308.70" x2="350.70" y2="308.70" stroke="rgba(0,0,0,0.45)" stroke-width="0.5" stroke-linecap="butt"/>
<line x1="358.90" y1="308.70" x2="360.10" y2="308.70" stroke="rgba(0,0,0,0.45)" stroke-width="0.5" stroke-linecap="butt"/>
<text x="362.30" y="309.60" font-size="7" text-anchor="start" dominant-baseline="central"  stroke="#111" stroke-width="0.2">3.5</text>
<line x1="349.50" y1="329.80" x2="350.70" y2="329.80" stroke="rgba(0,0,0,0.45)" stroke-width="0.5" stroke-linecap="butt"/>
<line x1="358.90" y1="329.80" x2="360.10" y2="329.80" stroke="rgba(0,0,0,0.45)" stroke-width="0.5" stroke-linecap="butt"/>
<text x="362.30" y="330.70" font-size="7" text-anchor="start" dominant-baseline="central"  stroke="#111" stroke-width="0.2">3</text>
<line x1="349.50" y1="350.90" x2="350.70" y2="350.90" stroke="rgba(0,0,0,0.45)" stroke-width="0.5" stroke-linecap="butt"/>
<line x1="358.90" y1="350.90" x2="360.10" y2="350.90" stroke="rgba(0,0,0,0.45)" stroke-width="0.5" stroke-linecap="butt"/>
<text x="362.30" y="351.80" font-size="7" text-anchor="start" dominant-baseline="central"  stroke="#111" stroke-width="0.2">2.5</text>
<line x1="349.50" y1="372.00" x2="350.70" y2="372.00" stroke="rgba(0,0,0,0.45)" stroke-width="0.5" stroke-linecap="butt"/>
<line x1="358.90" y1="372.00" x2="360.10" y2="372.00" stroke="rgba(0,0,0,0.45)" stroke-width="0.5" stroke-linecap="butt"/>
<text x="362.30" y="372.90" font-size="7" text-anchor="start" dominant-baseline="central"  stroke="#111" stroke-width="0.2">2</text>
<line x1="349.50" y1="393.10" x2="350.70" y2="393.10" stroke="rgba(0,0,0,0.45)" stroke-width="0.5" stroke-linecap="butt"/>
<line x1="358.90" y1="393.10" x2="360.10" y2="393.10" stroke="rgba(0,0,0,0.45)" stroke-width="0.5" stroke-linecap="butt"/>
<text x="362.30" y="394.00" font-size="7" text-anchor="start" dominant-baseline="central"  stroke="#111" stroke-width="0.2">1.5</text>
<line x1="349.50" y1="414.20" x2="350.70" y2="414.20" stroke="rgba(0,0,0,0.45)" stroke-width="0.5" stroke-linecap="butt"/>
<line x1="358.90" y1="414.20" x2="360.10" y2="414.20" stroke="rgba(0,0,0,0.45)" stroke-width="0.5" stroke-linecap="butt"/>
<text x="362.30" y="415.10" font-size="7" text-anchor="start" dominant-baseline="central"  stroke="#111" stroke-width="0.2">1</text>
<line x1="349.50" y1="435.30" x2="350.70" y2="435.30" stroke="rgba(0,0,0,0.45)" stroke-width="0.5" stroke-linecap="butt"/>
<line x1="358.90" y1="435.30" x2="360.10" y2="435.30" stroke="rgba(0,0,0,0.45)" stroke-width="0.5" stroke-linecap="butt"/>
<text x="362.30" y="436.20" font-size="7" text-anchor="start" dominant-baseline="central"  stroke="#111" stroke-width="0.2">0.5</text>
<line x1="349.50" y1="456.40" x2="350.70" y2="456.40" stroke="rgba(0,0,0,0.45)" stroke-width="0.5" stroke-linecap="butt"/>
<line x1="358.90" y1="456.40" x2="360.10" y2="456.40" stroke="rgba(0,0,0,0.45)" stroke-width="0.5" stroke-linecap="butt"/>
<text x="362.30" y="457.30" font-size="7" text-anchor="start" dominant-baseline="central"  stroke="#111" stroke-width="0.2">0</text>
<line x1="349.50" y1="477.50" x2="350.70" y2="477.50" stroke="rgba(0,0,0,0.45)" stroke-width="0.5" stroke-linecap="butt"/>
<line x1="358.90" y1="477.50" x2="360.10" y2="477.50" stroke="rgba(0,0,0,0.45)" stroke-width="0.5" stroke-linecap="butt"/>
<text x="362.30" y="478.40" font-size="7" text-anchor="start" dominant-baseline="central"  stroke="#111" stroke-width="0.2">-0.5</text>
<line x1="349.50" y1="498.60" x2="350.70" y2="498.60" stroke="rgba(0,0,0,0.45)" stroke-width="0.5" stroke-linecap="butt"/>
<line x1="358.90" y1="498.60" x2="360.10" y2="498.60" stroke="rgba(0,0,0,0.45)" stroke-width="0.5" stroke-linecap="butt"/>
<text x="362.30" y="499.50" font-size="7" text-anchor="start" dominant-baseline="central"  stroke="#111" stroke-width="0.2">-1</text>
<line x1="743.00" y1="391.00" x2="577.50" y2="370.50" stroke="#000" stroke-width="1.5" stroke-linecap="butt"/>
<line x1="577.50" y1="370.50" x2="475.00" y2="467.50" stroke="#000" stroke-width="1.5" stroke-linecap="butt"/>
<line x1="577.50" y1="370.50" x2="577.50" y2="297.00" stroke="#000" stroke-width="1.5" stroke-linecap="butt"/>
<polygon points="475.2,394.0 515.0,356.3 560.0,313.9 567.0,311.8 576.0,313.2 586.5,319.5 594.5,328.0 599.0,342.0 603.0,358.5 609.0,369.0 614.0,375.0 613.0,384.0 614.0,400.0 611.0,411.0 606.0,424.5 597.5,435.5 584.0,446.5 567.0,457.5 551.0,463.0 537.0,466.0 520.0,465.5 500.0,464.5 476.0,466.5" fill="rgb(255,255,0)" filter="url(#bl4)"/>
<g clip-path="url(#cp4)">
<ellipse cx="551" cy="349" rx="36" ry="9.5" transform="rotate(-20 551 349)" fill="rgb(255,195,0)" filter="url(#bl4b)" opacity="0.9"/>
<ellipse cx="520" cy="368" rx="30" ry="7" transform="rotate(-38 520 368)" fill="rgb(255,225,0)" filter="url(#bl4b)" opacity="0.7"/>
<ellipse cx="560" cy="440" rx="14" ry="6" transform="rotate(-40 560 440)" fill="rgb(255,225,0)" filter="url(#bl4b)" opacity="0.8"/>
<rect x="470" y="392" width="9" height="80" fill="#fff" filter="url(#bl4b)" opacity="0.5"/>
</g>
<g filter="url(#bl4c)">
<path d="M644.5 360 L636 364.5 L629 370 L622 374 L616 378 L610 383 L604 386.5" fill="none" stroke="rgb(255,170,0)" stroke-width="4.0" stroke-linecap="round" stroke-linejoin="round"/>
<path d="M604 386.5 L599 390 L598.5 396.5 L603 401.5 L609 404.5 L614 407.5" fill="none" stroke="rgb(250,120,0)" stroke-width="4.2" stroke-linecap="round" stroke-linejoin="round"/>
<path d="M599.5 391 L598.5 397" fill="none" stroke="rgb(230,60,0)" stroke-width="2.6" stroke-linecap="round"/>
<circle cx="650" cy="352" r="1.2" fill="rgb(255,225,120)"/>
<path d="M538.5 451 L544 450.5 L549 448 L552.5 443.5 L556 439" fill="none" stroke="rgb(255,150,0)" stroke-width="5.4" stroke-linecap="round" stroke-linejoin="round"/>
<path d="M546 449.5 L550 446.5" fill="none" stroke="rgb(245,100,0)" stroke-width="3.0" stroke-linecap="round"/>
</g>
<g filter="url(#bl1)" fill="none" stroke-linecap="round" stroke-linejoin="round">
<path d="M616.3 444.5 L628 432.5 L626.5 430.8 L631 429.5 L640.8 418.3" stroke="rgb(60,120,255)" stroke-width="3.2"/>
<path d="M620.6 417.4 L630.2 415.6" stroke="rgb(60,120,255)" stroke-width="3.8"/>
<path d="M640.8 418.3 L649.5 414.8" stroke="rgb(40,85,255)" stroke-width="4.8"/>
<path d="M657 410.4 L672.2 398" stroke="rgb(40,85,255)" stroke-width="5.2"/>
<path d="M656.5 393 L668.8 384" stroke="rgb(60,120,255)" stroke-width="3.8"/>
<path d="M649.5 402.5 L660 393.8" stroke="rgb(60,120,255)" stroke-width="2.4"/>
<path d="M679.3 397.3 L685.4 390.3 L695 383.3 L700.3 375.4" stroke="rgb(30,30,240)" stroke-width="5.8"/>
<path d="M702 373.6 L710.8 371" stroke="rgb(60,120,255)" stroke-width="3.2"/>
<path d="M679.3 393.8 L680 404.3 L677.5 409.5 L675.8 413 L668.8 417.4 L663.5 420.9 L660 420.9" stroke="rgb(60,120,255)" stroke-width="2.0"/>
<path d="M679.5 395 L680.5 403" stroke="rgb(40,85,255)" stroke-width="3.0"/>
</g>
<line x1="475.00" y1="467.50" x2="640.50" y2="488.00" stroke="#000" stroke-width="1.5" stroke-linecap="square"/>
<line x1="640.50" y1="488.00" x2="743.00" y2="391.00" stroke="#000" stroke-width="1.5" stroke-linecap="square"/>
<line x1="475.00" y1="394.00" x2="640.50" y2="414.50" stroke="#000" stroke-width="1.5" stroke-linecap="square"/>
<line x1="640.50" y1="414.50" x2="743.00" y2="317.50" stroke="#000" stroke-width="1.5" stroke-linecap="square"/>
<line x1="743.00" y1="317.50" x2="577.50" y2="297.00" stroke="#000" stroke-width="1.5" stroke-linecap="square"/>
<line x1="577.50" y1="297.00" x2="475.00" y2="394.00" stroke="#000" stroke-width="1.5" stroke-linecap="square"/>
<line x1="475.00" y1="467.50" x2="475.00" y2="394.00" stroke="#000" stroke-width="1.5" stroke-linecap="square"/>
<line x1="640.50" y1="488.00" x2="640.50" y2="414.50" stroke="#000" stroke-width="1.5" stroke-linecap="square"/>
<line x1="743.00" y1="391.00" x2="743.00" y2="317.50" stroke="#000" stroke-width="1.5" stroke-linecap="square"/>
<line x1="471.00" y1="467.50" x2="475.00" y2="467.50" stroke="#000" stroke-width="1.3" stroke-linecap="butt"/>
<text x="469.60" y="467.80" font-size="8.6" text-anchor="end" dominant-baseline="central"  stroke="#111" stroke-width="0.2">0</text>
<line x1="471.00" y1="446.30" x2="475.00" y2="446.30" stroke="#000" stroke-width="1.3" stroke-linecap="butt"/>
<text x="469.60" y="446.60" font-size="8.6" text-anchor="end" dominant-baseline="central"  stroke="#111" stroke-width="0.2">20</text>
<line x1="471.00" y1="425.20" x2="475.00" y2="425.20" stroke="#000" stroke-width="1.3" stroke-linecap="butt"/>
<text x="469.60" y="425.50" font-size="8.6" text-anchor="end" dominant-baseline="central"  stroke="#111" stroke-width="0.2">40</text>
<line x1="471.00" y1="404.00" x2="475.00" y2="404.00" stroke="#000" stroke-width="1.3" stroke-linecap="butt"/>
<text x="469.60" y="404.30" font-size="8.6" text-anchor="end" dominant-baseline="central"  stroke="#111" stroke-width="0.2">60</text>
<text x="468.80" y="477.00" font-size="8.6" text-anchor="middle" dominant-baseline="central"  stroke="#111" stroke-width="0.2">0</text>
<line x1="526.20" y1="473.80" x2="524.40" y2="476.40" stroke="#000" stroke-width="1.3" stroke-linecap="butt"/>
<text x="518.00" y="483.80" font-size="8.6" text-anchor="middle" dominant-baseline="central"  stroke="#111" stroke-width="0.2">50</text>
<line x1="578.20" y1="480.30" x2="576.40" y2="482.90" stroke="#000" stroke-width="1.3" stroke-linecap="butt"/>
<text x="569.50" y="490.00" font-size="8.6" text-anchor="middle" dominant-baseline="central"  stroke="#111" stroke-width="0.2">100</text>
<line x1="631.20" y1="486.80" x2="629.40" y2="489.40" stroke="#000" stroke-width="1.3" stroke-linecap="butt"/>
<text x="621.20" y="497.00" font-size="8.6" text-anchor="middle" dominant-baseline="central"  stroke="#111" stroke-width="0.2">150</text>
<line x1="640.80" y1="488.00" x2="643.80" y2="488.40" stroke="#000" stroke-width="1.3" stroke-linecap="butt"/>
<text x="648.20" y="494.50" font-size="8.6" text-anchor="middle" dominant-baseline="central"  stroke="#111" stroke-width="0.2">0</text>
<line x1="659.30" y1="470.20" x2="662.30" y2="470.60" stroke="#000" stroke-width="1.3" stroke-linecap="butt"/>
<text x="669.50" y="477.00" font-size="8.6" text-anchor="middle" dominant-baseline="central"  stroke="#111" stroke-width="0.2">50</text>
<line x1="678.80" y1="451.80" x2="681.80" y2="452.20" stroke="#000" stroke-width="1.3" stroke-linecap="butt"/>
<text x="691.20" y="458.80" font-size="8.6" text-anchor="middle" dominant-baseline="central"  stroke="#111" stroke-width="0.2">100</text>
<line x1="697.20" y1="434.30" x2="700.20" y2="434.70" stroke="#000" stroke-width="1.3" stroke-linecap="butt"/>
<text x="711.20" y="440.50" font-size="8.6" text-anchor="middle" dominant-baseline="central"  stroke="#111" stroke-width="0.2">150</text>
<line x1="716.70" y1="415.90" x2="719.70" y2="416.30" stroke="#000" stroke-width="1.3" stroke-linecap="butt"/>
<text x="730.00" y="422.50" font-size="8.6" text-anchor="middle" dominant-baseline="central"  stroke="#111" stroke-width="0.2">200</text>
<line x1="736.10" y1="397.50" x2="739.10" y2="397.90" stroke="#000" stroke-width="1.3" stroke-linecap="butt"/>
<text x="749.50" y="404.50" font-size="8.6" text-anchor="middle" dominant-baseline="central"  stroke="#111" stroke-width="0.2">250</text>
<text x="698.00" y="490.80" font-size="9.5" text-anchor="start" dominant-baseline="central"  stroke="#111" stroke-width="0.2">Y</text>
<text x="698.50" y="504.30" font-size="9.5" text-anchor="start" dominant-baseline="central"  stroke="#111" stroke-width="0.2">(μ m)</text>
<text x="583.40" y="518.30" font-size="9.5" text-anchor="end" dominant-baseline="central"  stroke="#111" stroke-width="0.2">X</text>
<text x="583.00" y="531.80" font-size="9.5" text-anchor="end" dominant-baseline="central"  stroke="#111" stroke-width="0.2">(μ m)</text>
<text x="436.50" y="429.00" font-size="9.5" text-anchor="middle" dominant-baseline="central" transform="rotate(-90 436.50 429.00)"  stroke="#111" stroke-width="0.2">Z</text>
<text x="450.50" y="429.00" font-size="9.5" text-anchor="middle" dominant-baseline="central" transform="rotate(-90 450.50 429.00)"  stroke="#111" stroke-width="0.2">(μ m)</text>
<rect x="771.00" y="296.00" width="10.30" height="192.80" fill="url(#cb61)"/>
<line x1="771.00" y1="300.60" x2="772.20" y2="300.60" stroke="rgba(0,0,0,0.45)" stroke-width="0.5" stroke-linecap="butt"/>
<line x1="780.10" y1="300.60" x2="781.30" y2="300.60" stroke="rgba(0,0,0,0.45)" stroke-width="0.5" stroke-linecap="butt"/>
<text x="783.60" y="301.50" font-size="7" text-anchor="start" dominant-baseline="central"  stroke="#111" stroke-width="0.2">2</text>
<line x1="771.00" y1="330.00" x2="772.20" y2="330.00" stroke="rgba(0,0,0,0.45)" stroke-width="0.5" stroke-linecap="butt"/>
<line x1="780.10" y1="330.00" x2="781.30" y2="330.00" stroke="rgba(0,0,0,0.45)" stroke-width="0.5" stroke-linecap="butt"/>
<text x="783.60" y="330.90" font-size="7" text-anchor="start" dominant-baseline="central"  stroke="#111" stroke-width="0.2">1.5</text>
<line x1="771.00" y1="359.40" x2="772.20" y2="359.40" stroke="rgba(0,0,0,0.45)" stroke-width="0.5" stroke-linecap="butt"/>
<line x1="780.10" y1="359.40" x2="781.30" y2="359.40" stroke="rgba(0,0,0,0.45)" stroke-width="0.5" stroke-linecap="butt"/>
<text x="783.60" y="360.30" font-size="7" text-anchor="start" dominant-baseline="central"  stroke="#111" stroke-width="0.2">1</text>
<line x1="771.00" y1="388.80" x2="772.20" y2="388.80" stroke="rgba(0,0,0,0.45)" stroke-width="0.5" stroke-linecap="butt"/>
<line x1="780.10" y1="388.80" x2="781.30" y2="388.80" stroke="rgba(0,0,0,0.45)" stroke-width="0.5" stroke-linecap="butt"/>
<text x="783.60" y="389.70" font-size="7" text-anchor="start" dominant-baseline="central"  stroke="#111" stroke-width="0.2">0.5</text>
<line x1="771.00" y1="418.20" x2="772.20" y2="418.20" stroke="rgba(0,0,0,0.45)" stroke-width="0.5" stroke-linecap="butt"/>
<line x1="780.10" y1="418.20" x2="781.30" y2="418.20" stroke="rgba(0,0,0,0.45)" stroke-width="0.5" stroke-linecap="butt"/>
<text x="783.60" y="419.10" font-size="7" text-anchor="start" dominant-baseline="central"  stroke="#111" stroke-width="0.2">0</text>
<line x1="771.00" y1="447.60" x2="772.20" y2="447.60" stroke="rgba(0,0,0,0.45)" stroke-width="0.5" stroke-linecap="butt"/>
<line x1="780.10" y1="447.60" x2="781.30" y2="447.60" stroke="rgba(0,0,0,0.45)" stroke-width="0.5" stroke-linecap="butt"/>
<text x="783.60" y="448.50" font-size="7" text-anchor="start" dominant-baseline="central"  stroke="#111" stroke-width="0.2">-0.5</text>
<line x1="771.00" y1="477.00" x2="772.20" y2="477.00" stroke="rgba(0,0,0,0.45)" stroke-width="0.5" stroke-linecap="butt"/>
<line x1="780.10" y1="477.00" x2="781.30" y2="477.00" stroke="rgba(0,0,0,0.45)" stroke-width="0.5" stroke-linecap="butt"/>
<text x="783.60" y="477.90" font-size="7" text-anchor="start" dominant-baseline="central"  stroke="#111" stroke-width="0.2">-1</text>
<path d="M160.53 795.50 L163.75 778.70 L167.03 721.42 L168.84 715.70 L170.85 713.02 L173.53 714.55 L175.54 712.64 L177.55 708.82 L178.89 680.95 L180.90 648.49 L183.98 620.24 L186.93 640.09 L190.01 662.24 L194.03 675.99 L196.98 680.95 L200.00 684.00 L205.02 685.53 L209.71 686.30 L213.73 688.59 L217.08 690.11 L221.77 696.99 L225.79 700.81 L229.81 702.71 L233.83 700.42 L237.85 696.99 L241.20 693.17 L245.22 689.35 L249.91 679.80 L252.59 667.59 L255.00 650.40 L257.95 571.75 L261.03 579.38 L262.98 608.40 L264.99 635.13 L267.00 660.33 L270.01 720.28 L273.02 756.17 L276.04 776.03 L280.06 787.86 L284.75 793.97 L291.45 795.12 L368.50 795.50" fill="none" stroke="#000" stroke-width="1.5" stroke-linejoin="round"/>
<path d="M150.28 795.50 L152.76 774.88 L154.77 747.77 L156.78 716.84 L160.13 720.66 L163.48 720.28 L166.83 719.13 L170.18 717.61 L173.53 714.93 L177.55 709.59 L178.89 684.77 L180.90 652.31 L183.58 635.13 L185.99 663.77 L188.94 674.08 L192.96 685.15 L196.31 685.91 L200.00 685.91 L203.01 683.62 L206.03 682.10 L209.04 686.30 L213.06 699.28 L217.08 703.10 L223.11 705.01 L229.14 708.06 L232.49 706.15 L235.84 703.10 L243.21 696.22 L248.57 686.30 L251.92 674.08 L255.00 654.22 L257.95 626.35 L261.03 587.40 L264.38 608.40 L267.00 660.33 L270.01 720.28 L273.02 756.17 L276.04 776.03 L280.06 787.86 L284.75 793.59 L294.80 794.74 L308.20 795.12 L321.60 795.12 L331.65 794.74 L338.35 795.12 L368.50 795.50" fill="none" stroke="rgb(240,15,30)" stroke-width="1.25" stroke-linejoin="round" stroke-dasharray="2.2 0.4"/>
<rect x="33.50" y="566.40" width="335.00" height="229.10" fill="none" stroke="#000" stroke-width="1.5"/>
<text x="33.50" y="803.00" font-size="8.6" text-anchor="middle" dominant-baseline="central"  stroke="#111" stroke-width="0.2">0</text>
<line x1="67.00" y1="795.50" x2="67.00" y2="792.30" stroke="#000" stroke-width="1.3" stroke-linecap="butt"/>
<line x1="67.00" y1="566.40" x2="67.00" y2="569.60" stroke="#000" stroke-width="1.3" stroke-linecap="butt"/>
<text x="67.00" y="803.00" font-size="8.6" text-anchor="middle" dominant-baseline="central"  stroke="#111" stroke-width="0.2">5</text>
<line x1="100.50" y1="795.50" x2="100.50" y2="792.30" stroke="#000" stroke-width="1.3" stroke-linecap="butt"/>
<line x1="100.50" y1="566.40" x2="100.50" y2="569.60" stroke="#000" stroke-width="1.3" stroke-linecap="butt"/>
<text x="100.50" y="803.00" font-size="8.6" text-anchor="middle" dominant-baseline="central"  stroke="#111" stroke-width="0.2">10</text>
<line x1="134.00" y1="795.50" x2="134.00" y2="792.30" stroke="#000" stroke-width="1.3" stroke-linecap="butt"/>
<line x1="134.00" y1="566.40" x2="134.00" y2="569.60" stroke="#000" stroke-width="1.3" stroke-linecap="butt"/>
<text x="134.00" y="803.00" font-size="8.6" text-anchor="middle" dominant-baseline="central"  stroke="#111" stroke-width="0.2">15</text>
<line x1="167.50" y1="795.50" x2="167.50" y2="792.30" stroke="#000" stroke-width="1.3" stroke-linecap="butt"/>
<line x1="167.50" y1="566.40" x2="167.50" y2="569.60" stroke="#000" stroke-width="1.3" stroke-linecap="butt"/>
<text x="167.50" y="803.00" font-size="8.6" text-anchor="middle" dominant-baseline="central"  stroke="#111" stroke-width="0.2">20</text>
<line x1="201.00" y1="795.50" x2="201.00" y2="792.30" stroke="#000" stroke-width="1.3" stroke-linecap="butt"/>
<line x1="201.00" y1="566.40" x2="201.00" y2="569.60" stroke="#000" stroke-width="1.3" stroke-linecap="butt"/>
<text x="201.00" y="803.00" font-size="8.6" text-anchor="middle" dominant-baseline="central"  stroke="#111" stroke-width="0.2">25</text>
<line x1="234.50" y1="795.50" x2="234.50" y2="792.30" stroke="#000" stroke-width="1.3" stroke-linecap="butt"/>
<line x1="234.50" y1="566.40" x2="234.50" y2="569.60" stroke="#000" stroke-width="1.3" stroke-linecap="butt"/>
<text x="234.50" y="803.00" font-size="8.6" text-anchor="middle" dominant-baseline="central"  stroke="#111" stroke-width="0.2">30</text>
<line x1="268.00" y1="795.50" x2="268.00" y2="792.30" stroke="#000" stroke-width="1.3" stroke-linecap="butt"/>
<line x1="268.00" y1="566.40" x2="268.00" y2="569.60" stroke="#000" stroke-width="1.3" stroke-linecap="butt"/>
<text x="268.00" y="803.00" font-size="8.6" text-anchor="middle" dominant-baseline="central"  stroke="#111" stroke-width="0.2">35</text>
<line x1="301.50" y1="795.50" x2="301.50" y2="792.30" stroke="#000" stroke-width="1.3" stroke-linecap="butt"/>
<line x1="301.50" y1="566.40" x2="301.50" y2="569.60" stroke="#000" stroke-width="1.3" stroke-linecap="butt"/>
<text x="301.50" y="803.00" font-size="8.6" text-anchor="middle" dominant-baseline="central"  stroke="#111" stroke-width="0.2">40</text>
<line x1="335.00" y1="795.50" x2="335.00" y2="792.30" stroke="#000" stroke-width="1.3" stroke-linecap="butt"/>
<line x1="335.00" y1="566.40" x2="335.00" y2="569.60" stroke="#000" stroke-width="1.3" stroke-linecap="butt"/>
<text x="335.00" y="803.00" font-size="8.6" text-anchor="middle" dominant-baseline="central"  stroke="#111" stroke-width="0.2">45</text>
<text x="368.50" y="803.00" font-size="8.6" text-anchor="middle" dominant-baseline="central"  stroke="#111" stroke-width="0.2">50</text>
<text x="31.90" y="795.70" font-size="8.6" text-anchor="end" dominant-baseline="central"  stroke="#111" stroke-width="0.2">0</text>
<line x1="33.50" y1="757.32" x2="36.70" y2="757.32" stroke="#000" stroke-width="1.3" stroke-linecap="butt"/>
<line x1="368.50" y1="757.32" x2="365.30" y2="757.32" stroke="#000" stroke-width="1.3" stroke-linecap="butt"/>
<text x="31.90" y="757.52" font-size="8.6" text-anchor="end" dominant-baseline="central"  stroke="#111" stroke-width="0.2">0.01</text>
<line x1="33.50" y1="719.13" x2="36.70" y2="719.13" stroke="#000" stroke-width="1.3" stroke-linecap="butt"/>
<line x1="368.50" y1="719.13" x2="365.30" y2="719.13" stroke="#000" stroke-width="1.3" stroke-linecap="butt"/>
<text x="31.90" y="719.33" font-size="8.6" text-anchor="end" dominant-baseline="central"  stroke="#111" stroke-width="0.2">0.02</text>
<line x1="33.50" y1="680.95" x2="36.70" y2="680.95" stroke="#000" stroke-width="1.3" stroke-linecap="butt"/>
<line x1="368.50" y1="680.95" x2="365.30" y2="680.95" stroke="#000" stroke-width="1.3" stroke-linecap="butt"/>
<text x="31.90" y="681.15" font-size="8.6" text-anchor="end" dominant-baseline="central"  stroke="#111" stroke-width="0.2">0.03</text>
<line x1="33.50" y1="642.77" x2="36.70" y2="642.77" stroke="#000" stroke-width="1.3" stroke-linecap="butt"/>
<line x1="368.50" y1="642.77" x2="365.30" y2="642.77" stroke="#000" stroke-width="1.3" stroke-linecap="butt"/>
<text x="31.90" y="642.97" font-size="8.6" text-anchor="end" dominant-baseline="central"  stroke="#111" stroke-width="0.2">0.04</text>
<line x1="33.50" y1="604.58" x2="36.70" y2="604.58" stroke="#000" stroke-width="1.3" stroke-linecap="butt"/>
<line x1="368.50" y1="604.58" x2="365.30" y2="604.58" stroke="#000" stroke-width="1.3" stroke-linecap="butt"/>
<text x="31.90" y="604.78" font-size="8.6" text-anchor="end" dominant-baseline="central"  stroke="#111" stroke-width="0.2">0.05</text>
<text x="31.90" y="566.60" font-size="8.6" text-anchor="end" dominant-baseline="central"  stroke="#111" stroke-width="0.2">0.06</text>
<text x="7.20" y="680.95" font-size="9.6" text-anchor="middle" dominant-baseline="central" transform="rotate(-90 7.20 680.95)"  stroke="#111" stroke-width="0.2">Relative Frequency</text>
<text x="201.00" y="815.10" font-size="9.6" text-anchor="middle" stroke="#111" stroke-width="0.2">PO<tspan dy="2.6" font-size="7.6">2</tspan><tspan dy="-2.6"> (mmHg)</tspan></text>
<path d="M602.87 795.50 L605.48 754.05 L608.83 722.91 L611.44 719.93 L614.86 710.08 L616.87 690.16 L618.88 639.78 L622.83 572.91 L624.84 639.78 L626.25 664.05 L629.80 690.16 L633.82 703.90 L638.85 713.06 L643.87 716.95 L647.22 716.95 L650.57 716.27 L652.58 716.95 L655.93 720.39 L659.95 721.08 L665.98 719.93 L670.00 713.06 L672.68 706.19 L676.43 690.62 L679.38 711.00 L682.73 721.08 L684.07 735.96 L686.75 765.96 L690.10 784.97 L694.12 792.07 L700.15 795.04 L790.60 795.50" fill="none" stroke="#000" stroke-width="1.5" stroke-linejoin="round"/>
<path d="M595.63 795.50 L598.31 773.97 L600.32 746.04 L602.33 713.52 L605.68 719.93 L609.70 716.95 L613.05 711.91 L615.46 700.01 L617.40 670.01 L619.41 639.78 L622.43 599.93 L624.44 639.78 L626.45 670.01 L628.86 690.16 L632.82 706.19 L637.84 715.12 L643.87 718.10 L649.90 721.08 L656.60 724.51 L662.63 722.22 L667.99 715.12 L674.02 711.91 L676.70 715.12 L680.05 726.11 L683.40 733.90 L685.41 751.99 L687.42 769.16 L690.77 784.51 L694.79 791.38 L700.82 794.13 L710.20 794.81 L730.30 795.27 L753.75 795.27 L757.10 794.13 L760.45 795.27 L790.60 795.50" fill="none" stroke="rgb(240,15,30)" stroke-width="1.25" stroke-linejoin="round" stroke-dasharray="2.2 0.4"/>
<rect x="455.60" y="566.50" width="335.00" height="229.00" fill="none" stroke="#000" stroke-width="1.5"/>
<text x="455.60" y="803.00" font-size="8.6" text-anchor="middle" dominant-baseline="central"  stroke="#111" stroke-width="0.2">0</text>
<line x1="489.10" y1="795.50" x2="489.10" y2="792.30" stroke="#000" stroke-width="1.3" stroke-linecap="butt"/>
<line x1="489.10" y1="566.50" x2="489.10" y2="569.70" stroke="#000" stroke-width="1.3" stroke-linecap="butt"/>
<text x="489.10" y="803.00" font-size="8.6" text-anchor="middle" dominant-baseline="central"  stroke="#111" stroke-width="0.2">5</text>
<line x1="522.60" y1="795.50" x2="522.60" y2="792.30" stroke="#000" stroke-width="1.3" stroke-linecap="butt"/>
<line x1="522.60" y1="566.50" x2="522.60" y2="569.70" stroke="#000" stroke-width="1.3" stroke-linecap="butt"/>
<text x="522.60" y="803.00" font-size="8.6" text-anchor="middle" dominant-baseline="central"  stroke="#111" stroke-width="0.2">10</text>
<line x1="556.10" y1="795.50" x2="556.10" y2="792.30" stroke="#000" stroke-width="1.3" stroke-linecap="butt"/>
<line x1="556.10" y1="566.50" x2="556.10" y2="569.70" stroke="#000" stroke-width="1.3" stroke-linecap="butt"/>
<text x="556.10" y="803.00" font-size="8.6" text-anchor="middle" dominant-baseline="central"  stroke="#111" stroke-width="0.2">15</text>
<line x1="589.60" y1="795.50" x2="589.60" y2="792.30" stroke="#000" stroke-width="1.3" stroke-linecap="butt"/>
<line x1="589.60" y1="566.50" x2="589.60" y2="569.70" stroke="#000" stroke-width="1.3" stroke-linecap="butt"/>
<text x="589.60" y="803.00" font-size="8.6" text-anchor="middle" dominant-baseline="central"  stroke="#111" stroke-width="0.2">20</text>
<line x1="623.10" y1="795.50" x2="623.10" y2="792.30" stroke="#000" stroke-width="1.3" stroke-linecap="butt"/>
<line x1="623.10" y1="566.50" x2="623.10" y2="569.70" stroke="#000" stroke-width="1.3" stroke-linecap="butt"/>
<text x="623.10" y="803.00" font-size="8.6" text-anchor="middle" dominant-baseline="central"  stroke="#111" stroke-width="0.2">25</text>
<line x1="656.60" y1="795.50" x2="656.60" y2="792.30" stroke="#000" stroke-width="1.3" stroke-linecap="butt"/>
<line x1="656.60" y1="566.50" x2="656.60" y2="569.70" stroke="#000" stroke-width="1.3" stroke-linecap="butt"/>
<text x="656.60" y="803.00" font-size="8.6" text-anchor="middle" dominant-baseline="central"  stroke="#111" stroke-width="0.2">30</text>
<line x1="690.10" y1="795.50" x2="690.10" y2="792.30" stroke="#000" stroke-width="1.3" stroke-linecap="butt"/>
<line x1="690.10" y1="566.50" x2="690.10" y2="569.70" stroke="#000" stroke-width="1.3" stroke-linecap="butt"/>
<text x="690.10" y="803.00" font-size="8.6" text-anchor="middle" dominant-baseline="central"  stroke="#111" stroke-width="0.2">35</text>
<line x1="723.60" y1="795.50" x2="723.60" y2="792.30" stroke="#000" stroke-width="1.3" stroke-linecap="butt"/>
<line x1="723.60" y1="566.50" x2="723.60" y2="569.70" stroke="#000" stroke-width="1.3" stroke-linecap="butt"/>
<text x="723.60" y="803.00" font-size="8.6" text-anchor="middle" dominant-baseline="central"  stroke="#111" stroke-width="0.2">40</text>
<line x1="757.10" y1="795.50" x2="757.10" y2="792.30" stroke="#000" stroke-width="1.3" stroke-linecap="butt"/>
<line x1="757.10" y1="566.50" x2="757.10" y2="569.70" stroke="#000" stroke-width="1.3" stroke-linecap="butt"/>
<text x="757.10" y="803.00" font-size="8.6" text-anchor="middle" dominant-baseline="central"  stroke="#111" stroke-width="0.2">45</text>
<text x="790.60" y="803.00" font-size="8.6" text-anchor="middle" dominant-baseline="central"  stroke="#111" stroke-width="0.2">50</text>
<text x="454.00" y="795.70" font-size="8.6" text-anchor="end" dominant-baseline="central"  stroke="#111" stroke-width="0.2">0</text>
<line x1="455.60" y1="772.60" x2="458.80" y2="772.60" stroke="#000" stroke-width="1.3" stroke-linecap="butt"/>
<line x1="790.60" y1="772.60" x2="787.40" y2="772.60" stroke="#000" stroke-width="1.3" stroke-linecap="butt"/>
<text x="454.00" y="772.80" font-size="8.6" text-anchor="end" dominant-baseline="central"  stroke="#111" stroke-width="0.2">0.01</text>
<line x1="455.60" y1="749.70" x2="458.80" y2="749.70" stroke="#000" stroke-width="1.3" stroke-linecap="butt"/>
<line x1="790.60" y1="749.70" x2="787.40" y2="749.70" stroke="#000" stroke-width="1.3" stroke-linecap="butt"/>
<text x="454.00" y="749.90" font-size="8.6" text-anchor="end" dominant-baseline="central"  stroke="#111" stroke-width="0.2">0.02</text>
<line x1="455.60" y1="726.80" x2="458.80" y2="726.80" stroke="#000" stroke-width="1.3" stroke-linecap="butt"/>
<line x1="790.60" y1="726.80" x2="787.40" y2="726.80" stroke="#000" stroke-width="1.3" stroke-linecap="butt"/>
<text x="454.00" y="727.00" font-size="8.6" text-anchor="end" dominant-baseline="central"  stroke="#111" stroke-width="0.2">0.03</text>
<line x1="455.60" y1="703.90" x2="458.80" y2="703.90" stroke="#000" stroke-width="1.3" stroke-linecap="butt"/>
<line x1="790.60" y1="703.90" x2="787.40" y2="703.90" stroke="#000" stroke-width="1.3" stroke-linecap="butt"/>
<text x="454.00" y="704.10" font-size="8.6" text-anchor="end" dominant-baseline="central"  stroke="#111" stroke-width="0.2">0.04</text>
<line x1="455.60" y1="681.00" x2="458.80" y2="681.00" stroke="#000" stroke-width="1.3" stroke-linecap="butt"/>
<line x1="790.60" y1="681.00" x2="787.40" y2="681.00" stroke="#000" stroke-width="1.3" stroke-linecap="butt"/>
<text x="454.00" y="681.20" font-size="8.6" text-anchor="end" dominant-baseline="central"  stroke="#111" stroke-width="0.2">0.05</text>
<line x1="455.60" y1="658.10" x2="458.80" y2="658.10" stroke="#000" stroke-width="1.3" stroke-linecap="butt"/>
<line x1="790.60" y1="658.10" x2="787.40" y2="658.10" stroke="#000" stroke-width="1.3" stroke-linecap="butt"/>
<text x="454.00" y="658.30" font-size="8.6" text-anchor="end" dominant-baseline="central"  stroke="#111" stroke-width="0.2">0.06</text>
<line x1="455.60" y1="635.20" x2="458.80" y2="635.20" stroke="#000" stroke-width="1.3" stroke-linecap="butt"/>
<line x1="790.60" y1="635.20" x2="787.40" y2="635.20" stroke="#000" stroke-width="1.3" stroke-linecap="butt"/>
<text x="454.00" y="635.40" font-size="8.6" text-anchor="end" dominant-baseline="central"  stroke="#111" stroke-width="0.2">0.07</text>
<line x1="455.60" y1="612.30" x2="458.80" y2="612.30" stroke="#000" stroke-width="1.3" stroke-linecap="butt"/>
<line x1="790.60" y1="612.30" x2="787.40" y2="612.30" stroke="#000" stroke-width="1.3" stroke-linecap="butt"/>
<text x="454.00" y="612.50" font-size="8.6" text-anchor="end" dominant-baseline="central"  stroke="#111" stroke-width="0.2">0.08</text>
<line x1="455.60" y1="589.40" x2="458.80" y2="589.40" stroke="#000" stroke-width="1.3" stroke-linecap="butt"/>
<line x1="790.60" y1="589.40" x2="787.40" y2="589.40" stroke="#000" stroke-width="1.3" stroke-linecap="butt"/>
<text x="454.00" y="589.60" font-size="8.6" text-anchor="end" dominant-baseline="central"  stroke="#111" stroke-width="0.2">0.09</text>
<text x="454.00" y="566.70" font-size="8.6" text-anchor="end" dominant-baseline="central"  stroke="#111" stroke-width="0.2">0.1</text>
<text x="428.60" y="681.00" font-size="9.6" text-anchor="middle" dominant-baseline="central" transform="rotate(-90 428.60 681.00)"  stroke="#111" stroke-width="0.2">Relative Frequency</text>
<text x="623.10" y="815.10" font-size="9.6" text-anchor="middle" stroke="#111" stroke-width="0.2">PO<tspan dy="2.6" font-size="7.6">2</tspan><tspan dy="-2.6"> (mmHg)</tspan></text>
</svg>
</body></html>
